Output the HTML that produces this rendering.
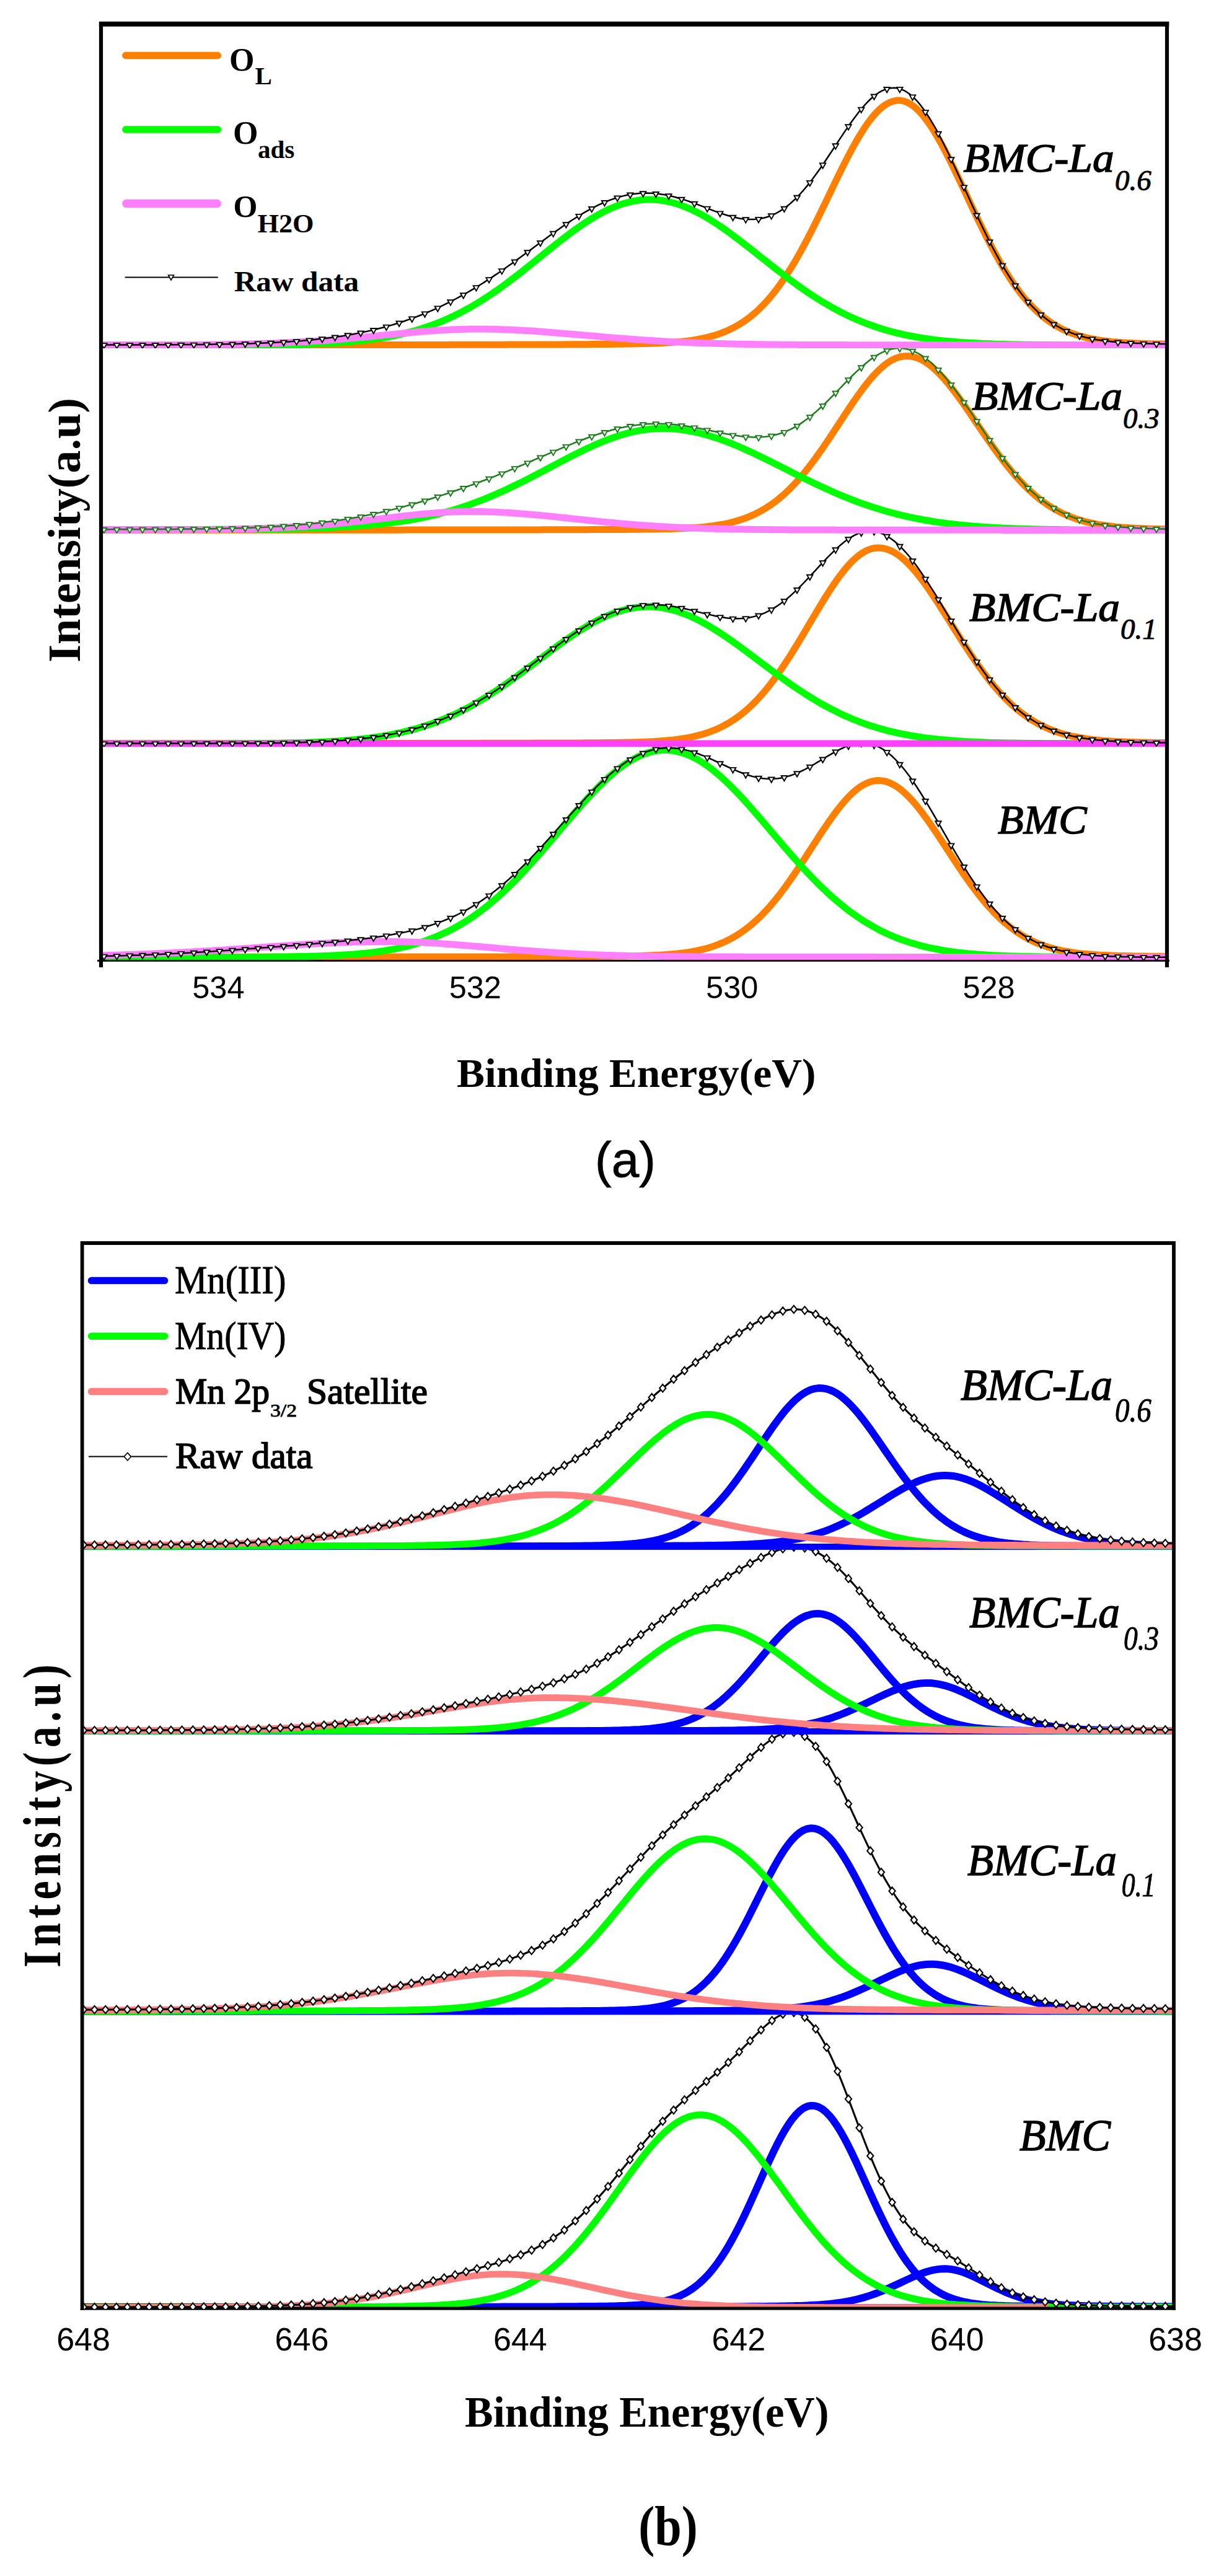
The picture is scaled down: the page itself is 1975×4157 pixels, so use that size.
<!DOCTYPE html>
<html lang="en"><head><meta charset="utf-8"><title>XPS spectra</title>
<style>
html,body{margin:0;padding:0;background:#fff}
svg{display:block}
text{fill:#000}
</style></head><body>
<svg width="1975" height="4157" viewBox="0 0 1975 4157">
<defs><clipPath id="cpa4"><rect x="163" y="1205" width="1720" height="346"/></clipPath><clipPath id="cpa3"><rect x="163" y="861" width="1720" height="344"/></clipPath><clipPath id="cpa2"><rect x="163" y="562" width="1720" height="299"/></clipPath><clipPath id="cpa1"><rect x="163" y="34" width="1720" height="528"/></clipPath><clipPath id="cpb4"><rect x="132.6" y="3251.3" width="1761.4" height="474.9"/></clipPath><clipPath id="cpb3"><rect x="132.6" y="2799" width="1761.4" height="452.3"/></clipPath><clipPath id="cpb2"><rect x="132.6" y="2501" width="1761.4" height="298"/></clipPath><clipPath id="cpb1"><rect x="132.6" y="2003" width="1761.4" height="498"/></clipPath></defs>
<rect width="1975" height="4157" fill="#fff"/>
<g clip-path="url(#cpa4)">
<path d="M163 1544.3 L169 1544.3 L175 1544.3 L181 1544.3 L187 1544.3 L193 1544.3 L199 1544.3 L205 1544.3 L211 1544.3 L217 1544.3 L223 1544.3 L229 1544.3 L235 1544.3 L241 1544.3 L247 1544.3 L253 1544.3 L259 1544.3 L265 1544.3 L271 1544.3 L277 1544.3 L283 1544.3 L289 1544.3 L295 1544.3 L301 1544.3 L307 1544.3 L313 1544.3 L319 1544.3 L325 1544.3 L331 1544.3 L337 1544.3 L343 1544.3 L349 1544.3 L355 1544.3 L361 1544.3 L367 1544.3 L373 1544.3 L379 1544.3 L385 1544.3 L391 1544.3 L397 1544.3 L403 1544.3 L409 1544.3 L415 1544.3 L421 1544.3 L427 1544.3 L433 1544.3 L439 1544.3 L445 1544.2 L451 1544.2 L457 1544.2 L463 1544.2 L469 1544.2 L475 1544.2 L481 1544.2 L487 1544.2 L493 1544.2 L499 1544.2 L505 1544.2 L511 1544.2 L517 1544.2 L523 1544.2 L529 1544.2 L535 1544.2 L541 1544.2 L547 1544.2 L553 1544.2 L559 1544.2 L565 1544.2 L571 1544.2 L577 1544.2 L583 1544.2 L589 1544.2 L595 1544.2 L601 1544.1 L607 1544.1 L613 1544.1 L619 1544.1 L625 1544.1 L631 1544.1 L637 1544.1 L643 1544.1 L649 1544.1 L655 1544.1 L661 1544.1 L667 1544.1 L673 1544.1 L679 1544.1 L685 1544.1 L691 1544.1 L697 1544.1 L703 1544 L709 1544 L715 1544 L721 1544 L727 1544 L733 1544 L739 1544 L745 1544 L751 1544 L757 1544 L763 1544 L769 1543.9 L775 1543.9 L781 1543.9 L787 1543.9 L793 1543.9 L799 1543.9 L805 1543.9 L811 1543.9 L817 1543.9 L823 1543.8 L829 1543.8 L835 1543.8 L841 1543.8 L847 1543.8 L853 1543.8 L859 1543.8 L865 1543.8 L871 1543.7 L877 1543.7 L883 1543.7 L889 1543.7 L895 1543.7 L901 1543.6 L907 1543.6 L913 1543.6 L919 1543.6 L925 1543.6 L931 1543.5 L937 1543.5 L943 1543.5 L949 1543.4 L955 1543.4 L961 1543.4 L967 1543.3 L973 1543.3 L979 1543.2 L985 1543.2 L991 1543.1 L997 1543.1 L1003 1543 L1009 1542.9 L1015 1542.8 L1021 1542.7 L1027 1542.6 L1033 1542.4 L1039 1542.2 L1045 1542 L1051 1541.8 L1057 1541.5 L1063 1541.2 L1069 1540.9 L1075 1540.5 L1081 1540 L1087 1539.5 L1093 1538.9 L1099 1538.2 L1105 1537.5 L1111 1536.6 L1117 1535.6 L1123 1534.5 L1129 1533.2 L1135 1531.8 L1141 1530.2 L1147 1528.4 L1153 1526.4 L1159 1524.2 L1165 1521.7 L1171 1519 L1177 1516 L1183 1512.8 L1189 1509.2 L1195 1505.3 L1201 1501.1 L1207 1496.6 L1213 1491.7 L1219 1486.4 L1225 1480.8 L1231 1474.8 L1237 1468.5 L1243 1461.8 L1249 1454.7 L1255 1447.3 L1261 1439.5 L1267 1431.5 L1273 1423.1 L1279 1414.5 L1285 1405.7 L1291 1396.7 L1297 1387.6 L1303 1378.3 L1309 1369 L1315 1359.7 L1321 1350.5 L1327 1341.4 L1333 1332.5 L1339 1323.8 L1345 1315.4 L1351 1307.4 L1357 1299.8 L1363 1292.7 L1369 1286.1 L1375 1280.2 L1381 1274.9 L1387 1270.4 L1393 1266.6 L1399 1263.6 L1405 1261.4 L1411 1260 L1417 1259.5 L1423 1259.9 L1429 1261 L1435 1263.1 L1441 1265.9 L1447 1269.5 L1453 1273.8 L1459 1278.9 L1465 1284.6 L1471 1290.9 L1477 1297.7 L1483 1305.1 L1489 1312.9 L1495 1321.1 L1501 1329.6 L1507 1338.4 L1513 1347.3 L1519 1356.4 L1525 1365.6 L1531 1374.8 L1537 1383.9 L1543 1393 L1549 1402 L1555 1410.8 L1561 1419.4 L1567 1427.8 L1573 1435.8 L1579 1443.6 L1585 1451.1 L1591 1458.3 L1597 1465.1 L1603 1471.6 L1609 1477.7 L1615 1483.4 L1621 1488.8 L1627 1493.9 L1633 1498.5 L1639 1502.9 L1645 1506.9 L1651 1510.6 L1657 1514 L1663 1517.1 L1669 1520 L1675 1522.6 L1681 1524.9 L1687 1527 L1693 1528.9 L1699 1530.6 L1705 1532.2 L1711 1533.5 L1717 1534.8 L1723 1535.8 L1729 1536.8 L1735 1537.7 L1741 1538.4 L1747 1539.1 L1753 1539.6 L1759 1540.1 L1765 1540.6 L1771 1541 L1777 1541.3 L1783 1541.6 L1789 1541.8 L1795 1542.1 L1801 1542.3 L1807 1542.4 L1813 1542.6 L1819 1542.7 L1825 1542.8 L1831 1542.9 L1837 1543 L1843 1543.1 L1849 1543.1 L1855 1543.2 L1861 1543.2 L1867 1543.3 L1873 1543.3 L1879 1543.4 L1883 1543.4" fill="none" stroke="#ff8000" stroke-width="11" stroke-linejoin="round"/>
<path d="M163 1544.5 L169 1544.5 L175 1544.5 L181 1544.5 L187 1544.5 L193 1544.5 L199 1544.5 L205 1544.5 L211 1544.5 L217 1544.5 L223 1544.5 L229 1544.5 L235 1544.5 L241 1544.5 L247 1544.5 L253 1544.5 L259 1544.5 L265 1544.5 L271 1544.5 L277 1544.5 L283 1544.5 L289 1544.5 L295 1544.5 L301 1544.5 L307 1544.5 L313 1544.5 L319 1544.5 L325 1544.5 L331 1544.5 L337 1544.5 L343 1544.5 L349 1544.5 L355 1544.4 L361 1544.4 L367 1544.4 L373 1544.4 L379 1544.4 L385 1544.4 L391 1544.4 L397 1544.4 L403 1544.3 L409 1544.3 L415 1544.3 L421 1544.3 L427 1544.2 L433 1544.2 L439 1544.1 L445 1544.1 L451 1544 L457 1544 L463 1543.9 L469 1543.8 L475 1543.7 L481 1543.6 L487 1543.5 L493 1543.4 L499 1543.3 L505 1543.1 L511 1542.9 L517 1542.7 L523 1542.5 L529 1542.3 L535 1542.1 L541 1541.8 L547 1541.5 L553 1541.1 L559 1540.7 L565 1540.3 L571 1539.9 L577 1539.4 L583 1538.8 L589 1538.3 L595 1537.6 L601 1536.9 L607 1536.2 L613 1535.3 L619 1534.4 L625 1533.5 L631 1532.4 L637 1531.3 L643 1530.1 L649 1528.7 L655 1527.3 L661 1525.8 L667 1524.2 L673 1522.5 L679 1520.6 L685 1518.6 L691 1516.5 L697 1514.2 L703 1511.9 L709 1509.3 L715 1506.6 L721 1503.8 L727 1500.8 L733 1497.6 L739 1494.3 L745 1490.8 L751 1487.1 L757 1483.3 L763 1479.2 L769 1475 L775 1470.6 L781 1466 L787 1461.3 L793 1456.3 L799 1451.2 L805 1445.9 L811 1440.4 L817 1434.8 L823 1429 L829 1423 L835 1416.9 L841 1410.6 L847 1404.2 L853 1397.7 L859 1391.1 L865 1384.3 L871 1377.5 L877 1370.6 L883 1363.6 L889 1356.6 L895 1349.5 L901 1342.4 L907 1335.4 L913 1328.3 L919 1321.3 L925 1314.3 L931 1307.4 L937 1300.6 L943 1293.9 L949 1287.3 L955 1280.9 L961 1274.6 L967 1268.5 L973 1262.7 L979 1257.1 L985 1251.7 L991 1246.6 L997 1241.7 L1003 1237.2 L1009 1232.9 L1015 1229.1 L1021 1225.5 L1027 1222.3 L1033 1219.5 L1039 1217 L1045 1214.9 L1051 1213.2 L1057 1211.9 L1063 1211.1 L1069 1210.6 L1075 1210.5 L1081 1210.9 L1087 1211.6 L1093 1212.8 L1099 1214.3 L1105 1216.3 L1111 1218.6 L1117 1221.3 L1123 1224.4 L1129 1227.8 L1135 1231.6 L1141 1235.7 L1147 1240.2 L1153 1244.9 L1159 1249.9 L1165 1255.2 L1171 1260.8 L1177 1266.6 L1183 1272.6 L1189 1278.7 L1195 1285.1 L1201 1291.6 L1207 1298.3 L1213 1305.1 L1219 1312 L1225 1318.9 L1231 1325.9 L1237 1333 L1243 1340.1 L1249 1347.2 L1255 1354.2 L1261 1361.3 L1267 1368.3 L1273 1375.2 L1279 1382.1 L1285 1388.8 L1291 1395.5 L1297 1402.1 L1303 1408.5 L1309 1414.8 L1315 1421 L1321 1427 L1327 1432.9 L1333 1438.6 L1339 1444.1 L1345 1449.5 L1351 1454.6 L1357 1459.6 L1363 1464.5 L1369 1469.1 L1375 1473.6 L1381 1477.8 L1387 1481.9 L1393 1485.8 L1399 1489.6 L1405 1493.1 L1411 1496.5 L1417 1499.8 L1423 1502.8 L1429 1505.7 L1435 1508.4 L1441 1511 L1447 1513.5 L1453 1515.8 L1459 1517.9 L1465 1519.9 L1471 1521.8 L1477 1523.6 L1483 1525.3 L1489 1526.8 L1495 1528.3 L1501 1529.6 L1507 1530.9 L1513 1532 L1519 1533.1 L1525 1534.1 L1531 1535 L1537 1535.9 L1543 1536.7 L1549 1537.4 L1555 1538 L1561 1538.7 L1567 1539.2 L1573 1539.7 L1579 1540.2 L1585 1540.6 L1591 1541 L1597 1541.4 L1603 1541.7 L1609 1542 L1615 1542.2 L1621 1542.5 L1627 1542.7 L1633 1542.9 L1639 1543.1 L1645 1543.2 L1651 1543.4 L1657 1543.5 L1663 1543.6 L1669 1543.7 L1675 1543.8 L1681 1543.9 L1687 1543.9 L1693 1544 L1699 1544.1 L1705 1544.1 L1711 1544.2 L1717 1544.2 L1723 1544.2 L1729 1544.3 L1735 1544.3 L1741 1544.3 L1747 1544.4 L1753 1544.4 L1759 1544.4 L1765 1544.4 L1771 1544.4 L1777 1544.4 L1783 1544.4 L1789 1544.4 L1795 1544.5 L1801 1544.5 L1807 1544.5 L1813 1544.5 L1819 1544.5 L1825 1544.5 L1831 1544.5 L1837 1544.5 L1843 1544.5 L1849 1544.5 L1855 1544.5 L1861 1544.5 L1867 1544.5 L1873 1544.5 L1879 1544.5 L1883 1544.5" fill="none" stroke="#00ff00" stroke-width="11" stroke-linejoin="round"/>
<path d="M163 1541.8 L169 1541.7 L175 1541.5 L181 1541.3 L187 1541.2 L193 1541 L199 1540.8 L205 1540.6 L211 1540.4 L217 1540.2 L223 1540 L229 1539.8 L235 1539.6 L241 1539.3 L247 1539.1 L253 1538.8 L259 1538.6 L265 1538.3 L271 1538 L277 1537.7 L283 1537.4 L289 1537.1 L295 1536.8 L301 1536.5 L307 1536.2 L313 1535.8 L319 1535.5 L325 1535.1 L331 1534.8 L337 1534.4 L343 1534 L349 1533.6 L355 1533.3 L361 1532.9 L367 1532.5 L373 1532.1 L379 1531.7 L385 1531.3 L391 1530.8 L397 1530.4 L403 1530 L409 1529.6 L415 1529.2 L421 1528.7 L427 1528.3 L433 1527.9 L439 1527.5 L445 1527.1 L451 1526.7 L457 1526.3 L463 1525.9 L469 1525.5 L475 1525.1 L481 1524.7 L487 1524.3 L493 1523.9 L499 1523.6 L505 1523.2 L511 1522.9 L517 1522.6 L523 1522.3 L529 1522 L535 1521.7 L541 1521.4 L547 1521.1 L553 1520.9 L559 1520.7 L565 1520.5 L571 1520.3 L577 1520.1 L583 1520 L589 1519.9 L595 1519.7 L601 1519.7 L607 1519.6 L613 1519.5 L619 1519.5 L625 1519.5 L631 1519.5 L637 1519.6 L643 1519.7 L649 1519.8 L655 1519.9 L661 1520.1 L667 1520.3 L673 1520.6 L679 1520.8 L685 1521.1 L691 1521.4 L697 1521.8 L703 1522.1 L709 1522.5 L715 1522.9 L721 1523.4 L727 1523.8 L733 1524.3 L739 1524.7 L745 1525.2 L751 1525.7 L757 1526.2 L763 1526.7 L769 1527.2 L775 1527.8 L781 1528.3 L787 1528.8 L793 1529.3 L799 1529.8 L805 1530.4 L811 1530.9 L817 1531.4 L823 1531.9 L829 1532.4 L835 1532.9 L841 1533.4 L847 1533.9 L853 1534.3 L859 1534.8 L865 1535.3 L871 1535.7 L877 1536.1 L883 1536.5 L889 1536.9 L895 1537.3 L901 1537.7 L907 1538.1 L913 1538.4 L919 1538.7 L925 1539.1 L931 1539.4 L937 1539.7 L943 1539.9 L949 1540.2 L955 1540.5 L961 1540.7 L967 1540.9 L973 1541.2 L979 1541.4 L985 1541.6 L991 1541.7 L997 1541.9 L1003 1542.1 L1009 1542.2 L1015 1542.4 L1021 1542.5 L1027 1542.7 L1033 1542.8 L1039 1542.9 L1045 1543 L1051 1543.1 L1057 1543.2 L1063 1543.3 L1069 1543.4 L1075 1543.4 L1081 1543.5 L1087 1543.6 L1093 1543.6 L1099 1543.7 L1105 1543.7 L1111 1543.8 L1117 1543.8 L1123 1543.9 L1129 1543.9 L1135 1543.9 L1141 1544 L1147 1544 L1153 1544 L1159 1544 L1165 1544.1 L1171 1544.1 L1177 1544.1 L1183 1544.1 L1189 1544.1 L1195 1544.1 L1201 1544.2 L1207 1544.2 L1213 1544.2 L1219 1544.2 L1225 1544.2 L1231 1544.2 L1237 1544.2 L1243 1544.2 L1249 1544.2 L1255 1544.2 L1261 1544.3 L1267 1544.3 L1273 1544.3 L1279 1544.3 L1285 1544.3 L1291 1544.3 L1297 1544.3 L1303 1544.3 L1309 1544.3 L1315 1544.3 L1321 1544.3 L1327 1544.3 L1333 1544.3 L1339 1544.3 L1345 1544.3 L1351 1544.3 L1357 1544.3 L1363 1544.3 L1369 1544.3 L1375 1544.3 L1381 1544.3 L1387 1544.3 L1393 1544.3 L1399 1544.3 L1405 1544.3 L1411 1544.3 L1417 1544.4 L1423 1544.4 L1429 1544.4 L1435 1544.4 L1441 1544.4 L1447 1544.4 L1453 1544.4 L1459 1544.4 L1465 1544.4 L1471 1544.4 L1477 1544.4 L1483 1544.4 L1489 1544.4 L1495 1544.4 L1501 1544.4 L1507 1544.4 L1513 1544.4 L1519 1544.4 L1525 1544.4 L1531 1544.4 L1537 1544.4 L1543 1544.4 L1549 1544.4 L1555 1544.4 L1561 1544.4 L1567 1544.4 L1573 1544.4 L1579 1544.4 L1585 1544.4 L1591 1544.4 L1597 1544.4 L1603 1544.4 L1609 1544.4 L1615 1544.4 L1621 1544.4 L1627 1544.4 L1633 1544.4 L1639 1544.4 L1645 1544.4 L1651 1544.4 L1657 1544.4 L1663 1544.4 L1669 1544.4 L1675 1544.4 L1681 1544.4 L1687 1544.4 L1693 1544.4 L1699 1544.4 L1705 1544.4 L1711 1544.4 L1717 1544.4 L1723 1544.4 L1729 1544.4 L1735 1544.4 L1741 1544.4 L1747 1544.4 L1753 1544.4 L1759 1544.4 L1765 1544.4 L1771 1544.4 L1777 1544.4 L1783 1544.4 L1789 1544.4 L1795 1544.4 L1801 1544.4 L1807 1544.4 L1813 1544.4 L1819 1544.4 L1825 1544.4 L1831 1544.4 L1837 1544.4 L1843 1544.4 L1849 1544.4 L1855 1544.4 L1861 1544.4 L1867 1544.4 L1873 1544.4 L1879 1544.4 L1883 1544.4" fill="none" stroke="#ff80ff" stroke-width="11" stroke-linejoin="round"/>
<path d="M163 1543.1 L167 1543.1 L171 1543 L175 1542.8 L179 1542.7 L183 1542.6 L187 1542.5 L191 1542.4 L195 1542.3 L199 1542.2 L203 1542 L207 1541.9 L211 1541.8 L215 1541.6 L219 1541.5 L223 1541.4 L227 1541.2 L231 1541.1 L235 1540.9 L239 1540.7 L243 1540.6 L247 1540.4 L251 1540.2 L255 1540.1 L259 1539.9 L263 1539.7 L267 1539.5 L271 1539.3 L275 1539.1 L279 1538.9 L283 1538.7 L287 1538.5 L291 1538.3 L295 1538.1 L299 1537.9 L303 1537.7 L307 1537.5 L311 1537.2 L315 1537 L319 1536.8 L323 1536.5 L327 1536.3 L331 1536 L335 1535.8 L339 1535.5 L343 1535.3 L347 1535 L351 1534.8 L355 1534.5 L359 1534.2 L363 1534 L367 1533.7 L371 1533.4 L375 1533.1 L379 1532.8 L383 1532.6 L387 1532.3 L391 1532 L395 1531.7 L399 1531.4 L403 1531.1 L407 1530.8 L411 1530.5 L415 1530.2 L419 1529.9 L423 1529.6 L427 1529.3 L431 1529 L435 1528.7 L439 1528.4 L443 1528.1 L447 1527.8 L451 1527.4 L455 1527.1 L459 1526.8 L463 1526.5 L467 1526.2 L471 1525.9 L475 1525.5 L479 1525.2 L483 1524.9 L487 1524.6 L491 1524.2 L495 1523.9 L499 1523.6 L503 1523.2 L507 1522.9 L511 1522.5 L515 1522.2 L519 1521.9 L523 1521.5 L527 1521.1 L531 1520.8 L535 1520.4 L539 1520.1 L543 1519.7 L547 1519.3 L551 1518.9 L555 1518.5 L559 1518.1 L563 1517.7 L567 1517.3 L571 1516.8 L575 1516.4 L579 1516 L583 1515.5 L587 1515 L591 1514.5 L595 1514 L599 1513.5 L603 1512.9 L607 1512.4 L611 1511.8 L615 1511.2 L619 1510.6 L623 1509.9 L627 1509.2 L631 1508.6 L635 1507.8 L639 1507.1 L643 1506.3 L647 1505.5 L651 1504.7 L655 1503.9 L659 1503 L663 1502.1 L667 1501.1 L671 1500.1 L675 1499.1 L679 1498 L683 1496.9 L687 1495.7 L691 1494.5 L695 1493.2 L699 1491.9 L703 1490.5 L707 1489.1 L711 1487.6 L715 1486.1 L719 1484.5 L723 1482.8 L727 1481.1 L731 1479.3 L735 1477.5 L739 1475.5 L743 1473.5 L747 1471.4 L751 1469.3 L755 1467.1 L759 1464.8 L763 1462.4 L767 1459.9 L771 1457.4 L775 1454.8 L779 1452.1 L783 1449.3 L787 1446.5 L791 1443.6 L795 1440.5 L799 1437.4 L803 1434.3 L807 1431 L811 1427.7 L815 1424.3 L819 1420.8 L823 1417.2 L827 1413.6 L831 1409.9 L835 1406.1 L839 1402.3 L843 1398.4 L847 1394.4 L851 1390.4 L855 1386.3 L859 1382.2 L863 1378 L867 1373.7 L871 1369.4 L875 1365.1 L879 1360.7 L883 1356.3 L887 1351.9 L891 1347.5 L895 1343 L899 1338.5 L903 1334 L907 1329.5 L911 1325 L915 1320.5 L919 1316.1 L923 1311.6 L927 1307.2 L931 1302.8 L935 1298.4 L939 1294.1 L943 1289.8 L947 1285.5 L951 1281.3 L955 1277.2 L959 1273.2 L963 1269.2 L967 1265.3 L971 1261.5 L975 1257.8 L979 1254.2 L983 1250.6 L987 1247.2 L991 1243.9 L995 1240.7 L999 1237.7 L1003 1234.8 L1007 1231.9 L1011 1229.3 L1015 1226.7 L1019 1224.3 L1023 1222.1 L1027 1220 L1031 1218.1 L1035 1216.3 L1039 1214.6 L1043 1213.1 L1047 1211.8 L1051 1210.6 L1055 1209.6 L1059 1208.8 L1063 1208.1 L1067 1207.5 L1071 1207.2 L1075 1206.9 L1079 1206.9 L1083 1206.9 L1087 1207.2 L1091 1207.5 L1095 1208 L1099 1208.7 L1103 1209.5 L1107 1210.4 L1111 1211.4 L1115 1212.5 L1119 1213.8 L1123 1215.1 L1127 1216.5 L1131 1218.1 L1135 1219.7 L1139 1221.3 L1143 1223.1 L1147 1224.8 L1151 1226.7 L1155 1228.5 L1159 1230.4 L1163 1232.3 L1167 1234.1 L1171 1236 L1175 1237.9 L1179 1239.7 L1183 1241.5 L1187 1243.2 L1191 1244.9 L1195 1246.5 L1199 1248 L1203 1249.5 L1207 1250.8 L1211 1252 L1215 1253.1 L1219 1254.1 L1223 1254.9 L1227 1255.6 L1231 1256.2 L1235 1256.6 L1239 1256.8 L1243 1256.9 L1247 1256.9 L1251 1256.6 L1255 1256.2 L1259 1255.7 L1263 1254.9 L1267 1254 L1271 1252.9 L1275 1251.7 L1279 1250.4 L1283 1248.8 L1287 1247.2 L1291 1245.4 L1295 1243.5 L1299 1241.5 L1303 1239.3 L1307 1237.1 L1311 1234.9 L1315 1232.5 L1319 1230.1 L1323 1227.7 L1327 1225.3 L1331 1222.9 L1335 1220.5 L1339 1218.1 L1343 1215.8 L1347 1213.5 L1351 1211.4 L1355 1209.4 L1359 1207.5 L1363 1205.7 L1367 1204.2 L1371 1202.8 L1375 1201.6 L1379 1200.6 L1383 1199.9 L1387 1199.4 L1391 1199.2 L1395 1199.2 L1399 1199.5 L1403 1200.2 L1407 1201.1 L1411 1202.4 L1415 1203.9 L1419 1205.8 L1423 1208.1 L1427 1210.6 L1431 1213.4 L1435 1216.6 L1439 1220 L1443 1223.8 L1447 1227.8 L1451 1232.2 L1455 1236.8 L1459 1241.6 L1463 1246.8 L1467 1252.1 L1471 1257.7 L1475 1263.5 L1479 1269.5 L1483 1275.7 L1487 1282 L1491 1288.5 L1495 1295.1 L1499 1301.8 L1503 1308.6 L1507 1315.5 L1511 1322.4 L1515 1329.4 L1519 1336.4 L1523 1343.4 L1527 1350.4 L1531 1357.4 L1535 1364.4 L1539 1371.3 L1543 1378.1 L1547 1384.8 L1551 1391.5 L1555 1398 L1559 1404.5 L1563 1410.8 L1567 1417 L1571 1423 L1575 1428.9 L1579 1434.7 L1583 1440.2 L1587 1445.7 L1591 1450.9 L1595 1456 L1599 1460.9 L1603 1465.6 L1607 1470.2 L1611 1474.5 L1615 1478.7 L1619 1482.7 L1623 1486.6 L1627 1490.2 L1631 1493.7 L1635 1497 L1639 1500.2 L1643 1503.2 L1647 1506 L1651 1508.7 L1655 1511.3 L1659 1513.6 L1663 1515.9 L1667 1518 L1671 1520 L1675 1521.9 L1679 1523.6 L1683 1525.3 L1687 1526.8 L1691 1528.2 L1695 1529.5 L1699 1530.8 L1703 1531.9 L1707 1533 L1711 1534 L1715 1534.9 L1719 1535.7 L1723 1536.5 L1727 1537.2 L1731 1537.9 L1735 1538.5 L1739 1539.1 L1743 1539.6 L1747 1540.1 L1751 1540.5 L1755 1540.9 L1759 1541.2 L1763 1541.6 L1767 1541.9 L1771 1542.2 L1775 1542.4 L1779 1542.6 L1783 1542.9 L1787 1543 L1791 1543.2 L1795 1543.4 L1799 1543.5 L1803 1543.6 L1807 1543.8 L1811 1543.9 L1815 1544 L1819 1544.1 L1823 1544.2 L1827 1544.2 L1831 1544.3 L1835 1544.4 L1839 1544.4 L1843 1544.5 L1847 1544.5 L1851 1544.6 L1855 1544.6 L1859 1544.6 L1863 1544.7 L1867 1544.7 L1871 1544.7 L1875 1544.8 L1879 1544.8 L1883 1544.8" fill="none" stroke="#000" stroke-width="2.5"/>
<path d="M167.8 1540.6 l4.7 0 l-4.7 8.3 l-4.7 -8.3 z M188.5 1540.1 l4.7 0 l-4.7 8.3 l-4.7 -8.3 z M209.2 1539.4 l4.7 0 l-4.7 8.3 l-4.7 -8.3 z M229.9 1538.7 l4.7 0 l-4.7 8.3 l-4.7 -8.3 z M250.6 1537.9 l4.7 0 l-4.7 8.3 l-4.7 -8.3 z M271.4 1536.9 l4.7 0 l-4.7 8.3 l-4.7 -8.3 z M292.1 1535.9 l4.7 0 l-4.7 8.3 l-4.7 -8.3 z M312.8 1534.7 l4.7 0 l-4.7 8.3 l-4.7 -8.3 z M333.5 1533.5 l4.7 0 l-4.7 8.3 l-4.7 -8.3 z M354.2 1532.1 l4.7 0 l-4.7 8.3 l-4.7 -8.3 z M374.9 1530.7 l4.7 0 l-4.7 8.3 l-4.7 -8.3 z M395.6 1529.3 l4.7 0 l-4.7 8.3 l-4.7 -8.3 z M416.3 1527.7 l4.7 0 l-4.7 8.3 l-4.7 -8.3 z M437 1526.1 l4.7 0 l-4.7 8.3 l-4.7 -8.3 z M457.7 1524.5 l4.7 0 l-4.7 8.3 l-4.7 -8.3 z M478.5 1522.9 l4.7 0 l-4.7 8.3 l-4.7 -8.3 z M499.2 1521.1 l4.7 0 l-4.7 8.3 l-4.7 -8.3 z M519.9 1519.4 l4.7 0 l-4.7 8.3 l-4.7 -8.3 z M540.6 1517.5 l4.7 0 l-4.7 8.3 l-4.7 -8.3 z M561.3 1515.5 l4.7 0 l-4.7 8.3 l-4.7 -8.3 z M582 1513.2 l4.7 0 l-4.7 8.3 l-4.7 -8.3 z M602.7 1510.6 l4.7 0 l-4.7 8.3 l-4.7 -8.3 z M623.4 1507.4 l4.7 0 l-4.7 8.3 l-4.7 -8.3 z M644.1 1503.7 l4.7 0 l-4.7 8.3 l-4.7 -8.3 z M664.8 1499.2 l4.7 0 l-4.7 8.3 l-4.7 -8.3 z M685.5 1493.7 l4.7 0 l-4.7 8.3 l-4.7 -8.3 z M706.3 1487 l4.7 0 l-4.7 8.3 l-4.7 -8.3 z M727 1478.7 l4.7 0 l-4.7 8.3 l-4.7 -8.3 z M747.7 1468.7 l4.7 0 l-4.7 8.3 l-4.7 -8.3 z M768.4 1456.7 l4.7 0 l-4.7 8.3 l-4.7 -8.3 z M789.1 1442.6 l4.7 0 l-4.7 8.3 l-4.7 -8.3 z M809.8 1426.3 l4.7 0 l-4.7 8.3 l-4.7 -8.3 z M830.5 1408 l4.7 0 l-4.7 8.3 l-4.7 -8.3 z M851.2 1387.8 l4.7 0 l-4.7 8.3 l-4.7 -8.3 z M871.9 1366 l4.7 0 l-4.7 8.3 l-4.7 -8.3 z M892.7 1343.2 l4.7 0 l-4.7 8.3 l-4.7 -8.3 z M913.4 1320 l4.7 0 l-4.7 8.3 l-4.7 -8.3 z M934.1 1297 l4.7 0 l-4.7 8.3 l-4.7 -8.3 z M954.8 1275.1 l4.7 0 l-4.7 8.3 l-4.7 -8.3 z M975.5 1254.9 l4.7 0 l-4.7 8.3 l-4.7 -8.3 z M996.2 1237.4 l4.7 0 l-4.7 8.3 l-4.7 -8.3 z M1016.9 1223.2 l4.7 0 l-4.7 8.3 l-4.7 -8.3 z M1037.6 1212.8 l4.7 0 l-4.7 8.3 l-4.7 -8.3 z M1058.3 1206.5 l4.7 0 l-4.7 8.3 l-4.7 -8.3 z M1079 1204.5 l4.7 0 l-4.7 8.3 l-4.7 -8.3 z M1099.8 1206.4 l4.7 0 l-4.7 8.3 l-4.7 -8.3 z M1120.5 1211.8 l4.7 0 l-4.7 8.3 l-4.7 -8.3 z M1141.2 1219.9 l4.7 0 l-4.7 8.3 l-4.7 -8.3 z M1161.9 1229.3 l4.7 0 l-4.7 8.3 l-4.7 -8.3 z M1182.6 1238.9 l4.7 0 l-4.7 8.3 l-4.7 -8.3 z M1203.3 1247.2 l4.7 0 l-4.7 8.3 l-4.7 -8.3 z M1224 1252.7 l4.7 0 l-4.7 8.3 l-4.7 -8.3 z M1244.7 1254.5 l4.7 0 l-4.7 8.3 l-4.7 -8.3 z M1265.4 1252 l4.7 0 l-4.7 8.3 l-4.7 -8.3 z M1286.1 1245.2 l4.7 0 l-4.7 8.3 l-4.7 -8.3 z M1306.8 1234.8 l4.7 0 l-4.7 8.3 l-4.7 -8.3 z M1327.6 1222.5 l4.7 0 l-4.7 8.3 l-4.7 -8.3 z M1348.3 1210.5 l4.7 0 l-4.7 8.3 l-4.7 -8.3 z M1369 1201 l4.7 0 l-4.7 8.3 l-4.7 -8.3 z M1389.7 1196.8 l4.7 0 l-4.7 8.3 l-4.7 -8.3 z M1410.4 1199.8 l4.7 0 l-4.7 8.3 l-4.7 -8.3 z M1431.1 1211.1 l4.7 0 l-4.7 8.3 l-4.7 -8.3 z M1451.8 1230.7 l4.7 0 l-4.7 8.3 l-4.7 -8.3 z M1472.5 1257.5 l4.7 0 l-4.7 8.3 l-4.7 -8.3 z M1493.2 1289.8 l4.7 0 l-4.7 8.3 l-4.7 -8.3 z M1514 1325.2 l4.7 0 l-4.7 8.3 l-4.7 -8.3 z M1534.7 1361.4 l4.7 0 l-4.7 8.3 l-4.7 -8.3 z M1555.4 1396.2 l4.7 0 l-4.7 8.3 l-4.7 -8.3 z M1576.1 1428.1 l4.7 0 l-4.7 8.3 l-4.7 -8.3 z M1596.8 1455.8 l4.7 0 l-4.7 8.3 l-4.7 -8.3 z M1617.5 1478.8 l4.7 0 l-4.7 8.3 l-4.7 -8.3 z M1638.2 1497.2 l4.7 0 l-4.7 8.3 l-4.7 -8.3 z M1658.9 1511.2 l4.7 0 l-4.7 8.3 l-4.7 -8.3 z M1679.6 1521.5 l4.7 0 l-4.7 8.3 l-4.7 -8.3 z M1700.3 1528.8 l4.7 0 l-4.7 8.3 l-4.7 -8.3 z M1721 1533.7 l4.7 0 l-4.7 8.3 l-4.7 -8.3 z M1741.8 1537 l4.7 0 l-4.7 8.3 l-4.7 -8.3 z M1762.5 1539.1 l4.7 0 l-4.7 8.3 l-4.7 -8.3 z M1783.2 1540.5 l4.7 0 l-4.7 8.3 l-4.7 -8.3 z M1803.9 1541.3 l4.7 0 l-4.7 8.3 l-4.7 -8.3 z M1824.6 1541.8 l4.7 0 l-4.7 8.3 l-4.7 -8.3 z M1845.3 1542.1 l4.7 0 l-4.7 8.3 l-4.7 -8.3 z M1866 1542.3 l4.7 0 l-4.7 8.3 l-4.7 -8.3 z" fill="#fff" stroke="#000" stroke-width="1.9" stroke-linejoin="miter"/>
</g>
<g clip-path="url(#cpa3)">
<path d="M163 1199.8 L169 1199.8 L175 1199.8 L181 1199.8 L187 1199.8 L193 1199.8 L199 1199.8 L205 1199.8 L211 1199.8 L217 1199.8 L223 1199.8 L229 1199.8 L235 1199.8 L241 1199.8 L247 1199.8 L253 1199.8 L259 1199.8 L265 1199.8 L271 1199.8 L277 1199.8 L283 1199.8 L289 1199.8 L295 1199.8 L301 1199.8 L307 1199.8 L313 1199.8 L319 1199.8 L325 1199.8 L331 1199.8 L337 1199.8 L343 1199.8 L349 1199.8 L355 1199.8 L361 1199.8 L367 1199.8 L373 1199.8 L379 1199.7 L385 1199.7 L391 1199.7 L397 1199.7 L403 1199.7 L409 1199.7 L415 1199.7 L421 1199.7 L427 1199.7 L433 1199.7 L439 1199.7 L445 1199.7 L451 1199.7 L457 1199.7 L463 1199.7 L469 1199.7 L475 1199.7 L481 1199.7 L487 1199.7 L493 1199.7 L499 1199.7 L505 1199.7 L511 1199.7 L517 1199.7 L523 1199.7 L529 1199.7 L535 1199.7 L541 1199.6 L547 1199.6 L553 1199.6 L559 1199.6 L565 1199.6 L571 1199.6 L577 1199.6 L583 1199.6 L589 1199.6 L595 1199.6 L601 1199.6 L607 1199.6 L613 1199.6 L619 1199.6 L625 1199.6 L631 1199.6 L637 1199.6 L643 1199.6 L649 1199.5 L655 1199.5 L661 1199.5 L667 1199.5 L673 1199.5 L679 1199.5 L685 1199.5 L691 1199.5 L697 1199.5 L703 1199.5 L709 1199.5 L715 1199.5 L721 1199.5 L727 1199.4 L733 1199.4 L739 1199.4 L745 1199.4 L751 1199.4 L757 1199.4 L763 1199.4 L769 1199.4 L775 1199.4 L781 1199.3 L787 1199.3 L793 1199.3 L799 1199.3 L805 1199.3 L811 1199.3 L817 1199.3 L823 1199.3 L829 1199.2 L835 1199.2 L841 1199.2 L847 1199.2 L853 1199.2 L859 1199.2 L865 1199.1 L871 1199.1 L877 1199.1 L883 1199.1 L889 1199.1 L895 1199 L901 1199 L907 1199 L913 1199 L919 1198.9 L925 1198.9 L931 1198.9 L937 1198.9 L943 1198.8 L949 1198.8 L955 1198.7 L961 1198.7 L967 1198.7 L973 1198.6 L979 1198.5 L985 1198.5 L991 1198.4 L997 1198.3 L1003 1198.2 L1009 1198.1 L1015 1198 L1021 1197.8 L1027 1197.7 L1033 1197.5 L1039 1197.3 L1045 1197 L1051 1196.7 L1057 1196.4 L1063 1196 L1069 1195.6 L1075 1195.1 L1081 1194.5 L1087 1193.9 L1093 1193.1 L1099 1192.3 L1105 1191.4 L1111 1190.3 L1117 1189.1 L1123 1187.7 L1129 1186.2 L1135 1184.5 L1141 1182.6 L1147 1180.4 L1153 1178.1 L1159 1175.5 L1165 1172.6 L1171 1169.4 L1177 1166 L1183 1162.2 L1189 1158.1 L1195 1153.6 L1201 1148.8 L1207 1143.6 L1213 1138 L1219 1132 L1225 1125.7 L1231 1118.9 L1237 1111.7 L1243 1104.2 L1249 1096.3 L1255 1088 L1261 1079.4 L1267 1070.4 L1273 1061.2 L1279 1051.7 L1285 1042 L1291 1032.1 L1297 1022.1 L1303 1011.9 L1309 1001.8 L1315 991.7 L1321 981.6 L1327 971.7 L1333 962 L1339 952.6 L1345 943.6 L1351 934.9 L1357 926.8 L1363 919.1 L1369 912.1 L1375 905.8 L1381 900.2 L1387 895.3 L1393 891.3 L1399 888.1 L1405 885.8 L1411 884.5 L1417 884 L1423 884.4 L1429 885.6 L1435 887.7 L1441 890.5 L1447 894.1 L1453 898.4 L1459 903.5 L1465 909.2 L1471 915.5 L1477 922.3 L1483 929.7 L1489 937.6 L1495 945.9 L1501 954.5 L1507 963.4 L1513 972.6 L1519 981.9 L1525 991.4 L1531 1000.9 L1537 1010.5 L1543 1020 L1549 1029.5 L1555 1038.9 L1561 1048.1 L1567 1057.2 L1573 1066 L1579 1074.6 L1585 1082.9 L1591 1090.9 L1597 1098.6 L1603 1106 L1609 1113 L1615 1119.7 L1621 1126 L1627 1132 L1633 1137.7 L1639 1143 L1645 1147.9 L1651 1152.5 L1657 1156.8 L1663 1160.8 L1669 1164.5 L1675 1167.9 L1681 1171 L1687 1173.9 L1693 1176.5 L1699 1178.8 L1705 1181 L1711 1183 L1717 1184.7 L1723 1186.3 L1729 1187.8 L1735 1189 L1741 1190.2 L1747 1191.2 L1753 1192.1 L1759 1192.9 L1765 1193.7 L1771 1194.3 L1777 1194.9 L1783 1195.4 L1789 1195.8 L1795 1196.2 L1801 1196.5 L1807 1196.8 L1813 1197.1 L1819 1197.3 L1825 1197.5 L1831 1197.7 L1837 1197.8 L1843 1198 L1849 1198.1 L1855 1198.2 L1861 1198.3 L1867 1198.4 L1873 1198.4 L1879 1198.5 L1883 1198.6" fill="none" stroke="#ff8000" stroke-width="11" stroke-linejoin="round"/>
<path d="M163 1200 L169 1200 L175 1200 L181 1200 L187 1200 L193 1200 L199 1200 L205 1200 L211 1200 L217 1200 L223 1200 L229 1200 L235 1200 L241 1200 L247 1200 L253 1200 L259 1200 L265 1200 L271 1200 L277 1200 L283 1200 L289 1200 L295 1200 L301 1200 L307 1200 L313 1200 L319 1199.9 L325 1199.9 L331 1199.9 L337 1199.9 L343 1199.9 L349 1199.9 L355 1199.9 L361 1199.9 L367 1199.8 L373 1199.8 L379 1199.8 L385 1199.8 L391 1199.7 L397 1199.7 L403 1199.7 L409 1199.6 L415 1199.6 L421 1199.5 L427 1199.5 L433 1199.4 L439 1199.3 L445 1199.3 L451 1199.2 L457 1199.1 L463 1199 L469 1198.8 L475 1198.7 L481 1198.6 L487 1198.4 L493 1198.2 L499 1198 L505 1197.8 L511 1197.6 L517 1197.3 L523 1197.1 L529 1196.7 L535 1196.4 L541 1196 L547 1195.7 L553 1195.2 L559 1194.8 L565 1194.3 L571 1193.7 L577 1193.1 L583 1192.5 L589 1191.8 L595 1191.1 L601 1190.3 L607 1189.4 L613 1188.5 L619 1187.6 L625 1186.5 L631 1185.4 L637 1184.2 L643 1183 L649 1181.6 L655 1180.2 L661 1178.7 L667 1177.1 L673 1175.4 L679 1173.6 L685 1171.7 L691 1169.7 L697 1167.6 L703 1165.5 L709 1163.2 L715 1160.7 L721 1158.2 L727 1155.6 L733 1152.9 L739 1150 L745 1147.1 L751 1144 L757 1140.8 L763 1137.5 L769 1134.1 L775 1130.6 L781 1127 L787 1123.3 L793 1119.4 L799 1115.5 L805 1111.6 L811 1107.5 L817 1103.3 L823 1099.1 L829 1094.8 L835 1090.4 L841 1086 L847 1081.6 L853 1077.1 L859 1072.6 L865 1068.1 L871 1063.6 L877 1059.1 L883 1054.6 L889 1050.1 L895 1045.7 L901 1041.3 L907 1037 L913 1032.7 L919 1028.6 L925 1024.5 L931 1020.5 L937 1016.7 L943 1013 L949 1009.4 L955 1006 L961 1002.7 L967 999.6 L973 996.7 L979 994 L985 991.5 L991 989.2 L997 987.2 L1003 985.3 L1009 983.7 L1015 982.3 L1021 981.1 L1027 980.2 L1033 979.6 L1039 979.2 L1045 979 L1051 979.1 L1057 979.4 L1063 980 L1069 980.9 L1075 982 L1081 983.3 L1087 984.8 L1093 986.6 L1099 988.7 L1105 990.9 L1111 993.3 L1117 996 L1123 998.9 L1129 1001.9 L1135 1005.1 L1141 1008.5 L1147 1012 L1153 1015.7 L1159 1019.5 L1165 1023.4 L1171 1027.5 L1177 1031.6 L1183 1035.8 L1189 1040.1 L1195 1044.5 L1201 1048.9 L1207 1053.4 L1213 1057.9 L1219 1062.4 L1225 1066.9 L1231 1071.4 L1237 1075.9 L1243 1080.4 L1249 1084.9 L1255 1089.3 L1261 1093.6 L1267 1098 L1273 1102.2 L1279 1106.4 L1285 1110.5 L1291 1114.5 L1297 1118.4 L1303 1122.3 L1309 1126 L1315 1129.6 L1321 1133.2 L1327 1136.6 L1333 1139.9 L1339 1143.1 L1345 1146.2 L1351 1149.2 L1357 1152.1 L1363 1154.9 L1369 1157.5 L1375 1160.1 L1381 1162.5 L1387 1164.9 L1393 1167.1 L1399 1169.2 L1405 1171.2 L1411 1173.1 L1417 1174.9 L1423 1176.6 L1429 1178.3 L1435 1179.8 L1441 1181.2 L1447 1182.6 L1453 1183.9 L1459 1185.1 L1465 1186.2 L1471 1187.3 L1477 1188.3 L1483 1189.2 L1489 1190.1 L1495 1190.9 L1501 1191.6 L1507 1192.3 L1513 1193 L1519 1193.6 L1525 1194.1 L1531 1194.6 L1537 1195.1 L1543 1195.5 L1549 1195.9 L1555 1196.3 L1561 1196.7 L1567 1197 L1573 1197.3 L1579 1197.5 L1585 1197.8 L1591 1198 L1597 1198.2 L1603 1198.4 L1609 1198.5 L1615 1198.7 L1621 1198.8 L1627 1198.9 L1633 1199 L1639 1199.1 L1645 1199.2 L1651 1199.3 L1657 1199.4 L1663 1199.5 L1669 1199.5 L1675 1199.6 L1681 1199.6 L1687 1199.7 L1693 1199.7 L1699 1199.7 L1705 1199.8 L1711 1199.8 L1717 1199.8 L1723 1199.8 L1729 1199.9 L1735 1199.9 L1741 1199.9 L1747 1199.9 L1753 1199.9 L1759 1199.9 L1765 1199.9 L1771 1199.9 L1777 1200 L1783 1200 L1789 1200 L1795 1200 L1801 1200 L1807 1200 L1813 1200 L1819 1200 L1825 1200 L1831 1200 L1837 1200 L1843 1200 L1849 1200 L1855 1200 L1861 1200 L1867 1200 L1873 1200 L1879 1200 L1883 1200" fill="none" stroke="#00ff00" stroke-width="11" stroke-linejoin="round"/>
<path d="M163 1200 L169 1200 L175 1200 L181 1200 L187 1200 L193 1200 L199 1200 L205 1200 L211 1200 L217 1200 L223 1200 L229 1200 L235 1200 L241 1200 L247 1200 L253 1200 L259 1200 L265 1200 L271 1200 L277 1200 L283 1200 L289 1200 L295 1200 L301 1200 L307 1200 L313 1200 L319 1200 L325 1200 L331 1200 L337 1200 L343 1200 L349 1200 L355 1200 L361 1200 L367 1200 L373 1200 L379 1200 L385 1200 L391 1200 L397 1200 L403 1200 L409 1200 L415 1200 L421 1200 L427 1200 L433 1200 L439 1200 L445 1200 L451 1200 L457 1200 L463 1200 L469 1200 L475 1200 L481 1200 L487 1200 L493 1200 L499 1200 L505 1200 L511 1200 L517 1200 L523 1200 L529 1200 L535 1200 L541 1200 L547 1200 L553 1200 L559 1200 L565 1200 L571 1200 L577 1200 L583 1200 L589 1200 L595 1200 L601 1200 L607 1200 L613 1200 L619 1200 L625 1200 L631 1200 L637 1200 L643 1200 L649 1200 L655 1200 L661 1200 L667 1200 L673 1200 L679 1200 L685 1200 L691 1200 L697 1200 L703 1200 L709 1200 L715 1200 L721 1200 L727 1200 L733 1200 L739 1200 L745 1200 L751 1200 L757 1200 L763 1200 L769 1200 L775 1200 L781 1200 L787 1200 L793 1200 L799 1200 L805 1200 L811 1200 L817 1200 L823 1200 L829 1200 L835 1200 L841 1200 L847 1200 L853 1200 L859 1200 L865 1200 L871 1200 L877 1200 L883 1200 L889 1200 L895 1200 L901 1200 L907 1200 L913 1200 L919 1200 L925 1200 L931 1200 L937 1200 L943 1200 L949 1200 L955 1200 L961 1200 L967 1200 L973 1200 L979 1200 L985 1200 L991 1200 L997 1200 L1003 1200 L1009 1200 L1015 1200 L1021 1200 L1027 1200 L1033 1200 L1039 1200 L1045 1200 L1051 1200 L1057 1200 L1063 1200 L1069 1200 L1075 1200 L1081 1200 L1087 1200 L1093 1200 L1099 1200 L1105 1200 L1111 1200 L1117 1200 L1123 1200 L1129 1200 L1135 1200 L1141 1200 L1147 1200 L1153 1200 L1159 1200 L1165 1200 L1171 1200 L1177 1200 L1183 1200 L1189 1200 L1195 1200 L1201 1200 L1207 1200 L1213 1200 L1219 1200 L1225 1200 L1231 1200 L1237 1200 L1243 1200 L1249 1200 L1255 1200 L1261 1200 L1267 1200 L1273 1200 L1279 1200 L1285 1200 L1291 1200 L1297 1200 L1303 1200 L1309 1200 L1315 1200 L1321 1200 L1327 1200 L1333 1200 L1339 1200 L1345 1200 L1351 1200 L1357 1200 L1363 1200 L1369 1200 L1375 1200 L1381 1200 L1387 1200 L1393 1200 L1399 1200 L1405 1200 L1411 1200 L1417 1200 L1423 1200 L1429 1200 L1435 1200 L1441 1200 L1447 1200 L1453 1200 L1459 1200 L1465 1200 L1471 1200 L1477 1200 L1483 1200 L1489 1200 L1495 1200 L1501 1200 L1507 1200 L1513 1200 L1519 1200 L1525 1200 L1531 1200 L1537 1200 L1543 1200 L1549 1200 L1555 1200 L1561 1200 L1567 1200 L1573 1200 L1579 1200 L1585 1200 L1591 1200 L1597 1200 L1603 1200 L1609 1200 L1615 1200 L1621 1200 L1627 1200 L1633 1200 L1639 1200 L1645 1200 L1651 1200 L1657 1200 L1663 1200 L1669 1200 L1675 1200 L1681 1200 L1687 1200 L1693 1200 L1699 1200 L1705 1200 L1711 1200 L1717 1200 L1723 1200 L1729 1200 L1735 1200 L1741 1200 L1747 1200 L1753 1200 L1759 1200 L1765 1200 L1771 1200 L1777 1200 L1783 1200 L1789 1200 L1795 1200 L1801 1200 L1807 1200 L1813 1200 L1819 1200 L1825 1200 L1831 1200 L1837 1200 L1843 1200 L1849 1200 L1855 1200 L1861 1200 L1867 1200 L1873 1200 L1879 1200 L1883 1200" fill="none" stroke="#ff40ff" stroke-width="11" stroke-linejoin="round"/>
<path d="M163 1199.8 L167 1199.8 L171 1199.8 L175 1199.8 L179 1199.8 L183 1199.8 L187 1199.8 L191 1199.8 L195 1199.8 L199 1199.8 L203 1199.8 L207 1199.8 L211 1199.8 L215 1199.8 L219 1199.8 L223 1199.8 L227 1199.8 L231 1199.8 L235 1199.8 L239 1199.8 L243 1199.8 L247 1199.8 L251 1199.8 L255 1199.8 L259 1199.8 L263 1199.8 L267 1199.8 L271 1199.8 L275 1199.8 L279 1199.8 L283 1199.8 L287 1199.8 L291 1199.8 L295 1199.8 L299 1199.7 L303 1199.7 L307 1199.7 L311 1199.7 L315 1199.7 L319 1199.7 L323 1199.7 L327 1199.7 L331 1199.7 L335 1199.7 L339 1199.7 L343 1199.7 L347 1199.7 L351 1199.7 L355 1199.6 L359 1199.6 L363 1199.6 L367 1199.6 L371 1199.6 L375 1199.6 L379 1199.6 L383 1199.5 L387 1199.5 L391 1199.5 L395 1199.5 L399 1199.4 L403 1199.4 L407 1199.4 L411 1199.4 L415 1199.3 L419 1199.3 L423 1199.2 L427 1199.2 L431 1199.2 L435 1199.1 L439 1199.1 L443 1199 L447 1198.9 L451 1198.9 L455 1198.8 L459 1198.7 L463 1198.7 L467 1198.6 L471 1198.5 L475 1198.4 L479 1198.3 L483 1198.2 L487 1198.1 L491 1198 L495 1197.8 L499 1197.7 L503 1197.6 L507 1197.4 L511 1197.3 L515 1197.1 L519 1196.9 L523 1196.7 L527 1196.5 L531 1196.3 L535 1196.1 L539 1195.8 L543 1195.6 L547 1195.3 L551 1195 L555 1194.7 L559 1194.4 L563 1194.1 L567 1193.7 L571 1193.3 L575 1193 L579 1192.5 L583 1192.1 L587 1191.7 L591 1191.2 L595 1190.7 L599 1190.2 L603 1189.6 L607 1189 L611 1188.4 L615 1187.8 L619 1187.1 L623 1186.4 L627 1185.7 L631 1185 L635 1184.2 L639 1183.4 L643 1182.5 L647 1181.6 L651 1180.7 L655 1179.7 L659 1178.7 L663 1177.7 L667 1176.6 L671 1175.5 L675 1174.3 L679 1173.1 L683 1171.9 L687 1170.6 L691 1169.2 L695 1167.8 L699 1166.4 L703 1164.9 L707 1163.4 L711 1161.8 L715 1160.2 L719 1158.5 L723 1156.8 L727 1155 L731 1153.2 L735 1151.4 L739 1149.4 L743 1147.5 L747 1145.5 L751 1143.4 L755 1141.3 L759 1139.1 L763 1136.9 L767 1134.6 L771 1132.3 L775 1129.9 L779 1127.5 L783 1125.1 L787 1122.6 L791 1120.1 L795 1117.5 L799 1114.9 L803 1112.2 L807 1109.5 L811 1106.8 L815 1104 L819 1101.2 L823 1098.3 L827 1095.5 L831 1092.6 L835 1089.7 L839 1086.7 L843 1083.8 L847 1080.8 L851 1077.8 L855 1074.8 L859 1071.8 L863 1068.8 L867 1065.7 L871 1062.7 L875 1059.7 L879 1056.7 L883 1053.7 L887 1050.7 L891 1047.7 L895 1044.7 L899 1041.8 L903 1038.9 L907 1036 L911 1033.1 L915 1030.3 L919 1027.5 L923 1024.8 L927 1022.1 L931 1019.4 L935 1016.8 L939 1014.3 L943 1011.8 L947 1009.4 L951 1007 L955 1004.7 L959 1002.5 L963 1000.4 L967 998.3 L971 996.3 L975 994.4 L979 992.6 L983 990.8 L987 989.2 L991 987.6 L995 986.2 L999 984.8 L1003 983.5 L1007 982.3 L1011 981.2 L1015 980.3 L1019 979.4 L1023 978.6 L1027 977.9 L1031 977.3 L1035 976.8 L1039 976.4 L1043 976.1 L1047 975.9 L1051 975.8 L1055 975.8 L1059 975.9 L1063 976 L1067 976.3 L1071 976.6 L1075 977 L1079 977.5 L1083 978.1 L1087 978.7 L1091 979.4 L1095 980.2 L1099 981 L1103 981.8 L1107 982.7 L1111 983.6 L1115 984.6 L1119 985.6 L1123 986.6 L1127 987.6 L1131 988.6 L1135 989.6 L1139 990.5 L1143 991.5 L1147 992.4 L1151 993.3 L1155 994.2 L1159 995 L1163 995.7 L1167 996.3 L1171 996.9 L1175 997.4 L1179 997.8 L1183 998 L1187 998.2 L1191 998.2 L1195 998.1 L1199 997.9 L1203 997.5 L1207 997 L1211 996.3 L1215 995.4 L1219 994.4 L1223 993.2 L1227 991.9 L1231 990.3 L1235 988.6 L1239 986.7 L1243 984.6 L1247 982.4 L1251 979.9 L1255 977.3 L1259 974.5 L1263 971.5 L1267 968.4 L1271 965.1 L1275 961.7 L1279 958.1 L1283 954.4 L1287 950.5 L1291 946.6 L1295 942.5 L1299 938.4 L1303 934.2 L1307 929.9 L1311 925.6 L1315 921.3 L1319 916.9 L1323 912.6 L1327 908.3 L1331 904.1 L1335 899.9 L1339 895.8 L1343 891.8 L1347 887.9 L1351 884.2 L1355 880.6 L1359 877.2 L1363 874 L1367 871.1 L1371 868.4 L1375 865.9 L1379 863.7 L1383 861.8 L1387 860.2 L1391 858.9 L1395 857.9 L1399 857.3 L1403 857 L1407 857.1 L1411 857.6 L1415 858.4 L1419 859.5 L1423 861 L1427 862.9 L1431 865 L1435 867.5 L1439 870.2 L1443 873.3 L1447 876.7 L1451 880.4 L1455 884.3 L1459 888.6 L1463 893 L1467 897.8 L1471 902.7 L1475 907.9 L1479 913.3 L1483 918.9 L1487 924.7 L1491 930.6 L1495 936.7 L1499 942.9 L1503 949.3 L1507 955.7 L1511 962.2 L1515 968.8 L1519 975.5 L1523 982.1 L1527 988.8 L1531 995.5 L1535 1002.2 L1539 1008.9 L1543 1015.6 L1547 1022.2 L1551 1028.7 L1555 1035.2 L1559 1041.6 L1563 1047.9 L1567 1054.1 L1571 1060.2 L1575 1066.2 L1579 1072.1 L1583 1077.8 L1587 1083.4 L1591 1088.9 L1595 1094.2 L1599 1099.3 L1603 1104.3 L1607 1109.2 L1611 1113.8 L1615 1118.4 L1619 1122.7 L1623 1126.9 L1627 1131 L1631 1134.8 L1635 1138.6 L1639 1142.1 L1643 1145.5 L1647 1148.8 L1651 1151.9 L1655 1154.8 L1659 1157.6 L1663 1160.3 L1667 1162.8 L1671 1165.2 L1675 1167.5 L1679 1169.6 L1683 1171.6 L1687 1173.5 L1691 1175.3 L1695 1177 L1699 1178.6 L1703 1180.1 L1707 1181.5 L1711 1182.8 L1715 1184 L1719 1185.1 L1723 1186.2 L1727 1187.1 L1731 1188.1 L1735 1188.9 L1739 1189.7 L1743 1190.4 L1747 1191.1 L1751 1191.7 L1755 1192.3 L1759 1192.9 L1763 1193.4 L1767 1193.8 L1771 1194.2 L1775 1194.6 L1779 1195 L1783 1195.3 L1787 1195.6 L1791 1195.9 L1795 1196.1 L1799 1196.4 L1803 1196.6 L1807 1196.8 L1811 1197 L1815 1197.1 L1819 1197.3 L1823 1197.4 L1827 1197.5 L1831 1197.7 L1835 1197.8 L1839 1197.9 L1843 1198 L1847 1198 L1851 1198.1 L1855 1198.2 L1859 1198.3 L1863 1198.3 L1867 1198.4 L1871 1198.4 L1875 1198.5 L1879 1198.5 L1883 1198.5" fill="none" stroke="#000" stroke-width="2.5"/>
<path d="M167.8 1197.4 l4.7 0 l-4.7 8.3 l-4.7 -8.3 z M188.5 1197.4 l4.7 0 l-4.7 8.3 l-4.7 -8.3 z M209.2 1197.4 l4.7 0 l-4.7 8.3 l-4.7 -8.3 z M229.9 1197.4 l4.7 0 l-4.7 8.3 l-4.7 -8.3 z M250.6 1197.4 l4.7 0 l-4.7 8.3 l-4.7 -8.3 z M271.4 1197.4 l4.7 0 l-4.7 8.3 l-4.7 -8.3 z M292.1 1197.4 l4.7 0 l-4.7 8.3 l-4.7 -8.3 z M312.8 1197.3 l4.7 0 l-4.7 8.3 l-4.7 -8.3 z M333.5 1197.3 l4.7 0 l-4.7 8.3 l-4.7 -8.3 z M354.2 1197.2 l4.7 0 l-4.7 8.3 l-4.7 -8.3 z M374.9 1197.2 l4.7 0 l-4.7 8.3 l-4.7 -8.3 z M395.6 1197.1 l4.7 0 l-4.7 8.3 l-4.7 -8.3 z M416.3 1196.9 l4.7 0 l-4.7 8.3 l-4.7 -8.3 z M437 1196.7 l4.7 0 l-4.7 8.3 l-4.7 -8.3 z M457.7 1196.4 l4.7 0 l-4.7 8.3 l-4.7 -8.3 z M478.5 1195.9 l4.7 0 l-4.7 8.3 l-4.7 -8.3 z M499.2 1195.3 l4.7 0 l-4.7 8.3 l-4.7 -8.3 z M519.9 1194.5 l4.7 0 l-4.7 8.3 l-4.7 -8.3 z M540.6 1193.3 l4.7 0 l-4.7 8.3 l-4.7 -8.3 z M561.3 1191.8 l4.7 0 l-4.7 8.3 l-4.7 -8.3 z M582 1189.8 l4.7 0 l-4.7 8.3 l-4.7 -8.3 z M602.7 1187.2 l4.7 0 l-4.7 8.3 l-4.7 -8.3 z M623.4 1184 l4.7 0 l-4.7 8.3 l-4.7 -8.3 z M644.1 1179.9 l4.7 0 l-4.7 8.3 l-4.7 -8.3 z M664.8 1174.8 l4.7 0 l-4.7 8.3 l-4.7 -8.3 z M685.5 1168.6 l4.7 0 l-4.7 8.3 l-4.7 -8.3 z M706.3 1161.3 l4.7 0 l-4.7 8.3 l-4.7 -8.3 z M727 1152.7 l4.7 0 l-4.7 8.3 l-4.7 -8.3 z M747.7 1142.7 l4.7 0 l-4.7 8.3 l-4.7 -8.3 z M768.4 1131.4 l4.7 0 l-4.7 8.3 l-4.7 -8.3 z M789.1 1118.9 l4.7 0 l-4.7 8.3 l-4.7 -8.3 z M809.8 1105.2 l4.7 0 l-4.7 8.3 l-4.7 -8.3 z M830.5 1090.5 l4.7 0 l-4.7 8.3 l-4.7 -8.3 z M851.2 1075.2 l4.7 0 l-4.7 8.3 l-4.7 -8.3 z M871.9 1059.6 l4.7 0 l-4.7 8.3 l-4.7 -8.3 z M892.7 1044.1 l4.7 0 l-4.7 8.3 l-4.7 -8.3 z M913.4 1029 l4.7 0 l-4.7 8.3 l-4.7 -8.3 z M934.1 1015 l4.7 0 l-4.7 8.3 l-4.7 -8.3 z M954.8 1002.5 l4.7 0 l-4.7 8.3 l-4.7 -8.3 z M975.5 991.8 l4.7 0 l-4.7 8.3 l-4.7 -8.3 z M996.2 983.3 l4.7 0 l-4.7 8.3 l-4.7 -8.3 z M1016.9 977.4 l4.7 0 l-4.7 8.3 l-4.7 -8.3 z M1037.6 974.1 l4.7 0 l-4.7 8.3 l-4.7 -8.3 z M1058.3 973.5 l4.7 0 l-4.7 8.3 l-4.7 -8.3 z M1079 975.1 l4.7 0 l-4.7 8.3 l-4.7 -8.3 z M1099.8 978.7 l4.7 0 l-4.7 8.3 l-4.7 -8.3 z M1120.5 983.5 l4.7 0 l-4.7 8.3 l-4.7 -8.3 z M1141.2 988.7 l4.7 0 l-4.7 8.3 l-4.7 -8.3 z M1161.9 993.1 l4.7 0 l-4.7 8.3 l-4.7 -8.3 z M1182.6 995.6 l4.7 0 l-4.7 8.3 l-4.7 -8.3 z M1203.3 995.1 l4.7 0 l-4.7 8.3 l-4.7 -8.3 z M1224 990.5 l4.7 0 l-4.7 8.3 l-4.7 -8.3 z M1244.7 981.3 l4.7 0 l-4.7 8.3 l-4.7 -8.3 z M1265.4 967.3 l4.7 0 l-4.7 8.3 l-4.7 -8.3 z M1286.1 949 l4.7 0 l-4.7 8.3 l-4.7 -8.3 z M1306.8 927.7 l4.7 0 l-4.7 8.3 l-4.7 -8.3 z M1327.6 905.3 l4.7 0 l-4.7 8.3 l-4.7 -8.3 z M1348.3 884.3 l4.7 0 l-4.7 8.3 l-4.7 -8.3 z M1369 867.3 l4.7 0 l-4.7 8.3 l-4.7 -8.3 z M1389.7 856.9 l4.7 0 l-4.7 8.3 l-4.7 -8.3 z M1410.4 855.1 l4.7 0 l-4.7 8.3 l-4.7 -8.3 z M1431.1 862.7 l4.7 0 l-4.7 8.3 l-4.7 -8.3 z M1451.8 878.8 l4.7 0 l-4.7 8.3 l-4.7 -8.3 z M1472.5 902.3 l4.7 0 l-4.7 8.3 l-4.7 -8.3 z M1493.2 931.6 l4.7 0 l-4.7 8.3 l-4.7 -8.3 z M1514 964.7 l4.7 0 l-4.7 8.3 l-4.7 -8.3 z M1534.7 999.3 l4.7 0 l-4.7 8.3 l-4.7 -8.3 z M1555.4 1033.4 l4.7 0 l-4.7 8.3 l-4.7 -8.3 z M1576.1 1065.4 l4.7 0 l-4.7 8.3 l-4.7 -8.3 z M1596.8 1094.1 l4.7 0 l-4.7 8.3 l-4.7 -8.3 z M1617.5 1118.7 l4.7 0 l-4.7 8.3 l-4.7 -8.3 z M1638.2 1139 l4.7 0 l-4.7 8.3 l-4.7 -8.3 z M1658.9 1155.2 l4.7 0 l-4.7 8.3 l-4.7 -8.3 z M1679.6 1167.5 l4.7 0 l-4.7 8.3 l-4.7 -8.3 z M1700.3 1176.7 l4.7 0 l-4.7 8.3 l-4.7 -8.3 z M1721 1183.3 l4.7 0 l-4.7 8.3 l-4.7 -8.3 z M1741.8 1187.8 l4.7 0 l-4.7 8.3 l-4.7 -8.3 z M1762.5 1190.9 l4.7 0 l-4.7 8.3 l-4.7 -8.3 z M1783.2 1192.9 l4.7 0 l-4.7 8.3 l-4.7 -8.3 z M1803.9 1194.2 l4.7 0 l-4.7 8.3 l-4.7 -8.3 z M1824.6 1195.1 l4.7 0 l-4.7 8.3 l-4.7 -8.3 z M1845.3 1195.6 l4.7 0 l-4.7 8.3 l-4.7 -8.3 z M1866 1196 l4.7 0 l-4.7 8.3 l-4.7 -8.3 z" fill="#fff" stroke="#000" stroke-width="1.9" stroke-linejoin="miter"/>
</g>
<g clip-path="url(#cpa2)">
<path d="M163 855.4 L169 855.4 L175 855.4 L181 855.4 L187 855.4 L193 855.4 L199 855.4 L205 855.4 L211 855.4 L217 855.3 L223 855.3 L229 855.3 L235 855.3 L241 855.3 L247 855.3 L253 855.3 L259 855.3 L265 855.3 L271 855.3 L277 855.3 L283 855.3 L289 855.3 L295 855.3 L301 855.3 L307 855.3 L313 855.3 L319 855.3 L325 855.3 L331 855.3 L337 855.3 L343 855.3 L349 855.3 L355 855.3 L361 855.3 L367 855.3 L373 855.3 L379 855.3 L385 855.3 L391 855.3 L397 855.3 L403 855.3 L409 855.3 L415 855.3 L421 855.3 L427 855.3 L433 855.3 L439 855.3 L445 855.3 L451 855.3 L457 855.3 L463 855.3 L469 855.3 L475 855.3 L481 855.3 L487 855.3 L493 855.3 L499 855.2 L505 855.2 L511 855.2 L517 855.2 L523 855.2 L529 855.2 L535 855.2 L541 855.2 L547 855.2 L553 855.2 L559 855.2 L565 855.2 L571 855.2 L577 855.2 L583 855.2 L589 855.2 L595 855.2 L601 855.2 L607 855.2 L613 855.2 L619 855.2 L625 855.2 L631 855.2 L637 855.2 L643 855.2 L649 855.2 L655 855.1 L661 855.1 L667 855.1 L673 855.1 L679 855.1 L685 855.1 L691 855.1 L697 855.1 L703 855.1 L709 855.1 L715 855.1 L721 855.1 L727 855.1 L733 855.1 L739 855.1 L745 855.1 L751 855 L757 855 L763 855 L769 855 L775 855 L781 855 L787 855 L793 855 L799 855 L805 855 L811 855 L817 855 L823 854.9 L829 854.9 L835 854.9 L841 854.9 L847 854.9 L853 854.9 L859 854.9 L865 854.9 L871 854.9 L877 854.8 L883 854.8 L889 854.8 L895 854.8 L901 854.8 L907 854.8 L913 854.8 L919 854.7 L925 854.7 L931 854.7 L937 854.7 L943 854.7 L949 854.7 L955 854.6 L961 854.6 L967 854.6 L973 854.6 L979 854.5 L985 854.5 L991 854.5 L997 854.4 L1003 854.4 L1009 854.4 L1015 854.3 L1021 854.3 L1027 854.2 L1033 854.2 L1039 854.1 L1045 854.1 L1051 854 L1057 853.9 L1063 853.8 L1069 853.7 L1075 853.5 L1081 853.4 L1087 853.2 L1093 853 L1099 852.7 L1105 852.5 L1111 852.2 L1117 851.8 L1123 851.4 L1129 850.9 L1135 850.4 L1141 849.7 L1147 849 L1153 848.2 L1159 847.3 L1165 846.3 L1171 845.1 L1177 843.8 L1183 842.3 L1189 840.6 L1195 838.8 L1201 836.7 L1207 834.5 L1213 831.9 L1219 829.2 L1225 826.1 L1231 822.8 L1237 819.1 L1243 815.2 L1249 810.9 L1255 806.3 L1261 801.3 L1267 796 L1273 790.3 L1279 784.2 L1285 777.8 L1291 771.1 L1297 763.9 L1303 756.5 L1309 748.7 L1315 740.7 L1321 732.3 L1327 723.8 L1333 715 L1339 706.1 L1345 697 L1351 687.9 L1357 678.7 L1363 669.5 L1369 660.5 L1375 651.6 L1381 642.8 L1387 634.4 L1393 626.3 L1399 618.5 L1405 611.2 L1411 604.5 L1417 598.3 L1423 592.7 L1429 587.8 L1435 583.6 L1441 580.1 L1447 577.5 L1453 575.7 L1459 574.7 L1465 574.5 L1471 575.2 L1477 576.6 L1483 578.8 L1489 581.8 L1495 585.5 L1501 589.8 L1507 594.9 L1513 600.5 L1519 606.7 L1525 613.4 L1531 620.5 L1537 628.1 L1543 636 L1549 644.2 L1555 652.6 L1561 661.2 L1567 670 L1573 678.8 L1579 687.7 L1585 696.5 L1591 705.2 L1597 713.9 L1603 722.3 L1609 730.6 L1615 738.7 L1621 746.6 L1627 754.1 L1633 761.4 L1639 768.4 L1645 775.1 L1651 781.4 L1657 787.4 L1663 793.1 L1669 798.4 L1675 803.4 L1681 808.1 L1687 812.4 L1693 816.4 L1699 820.1 L1705 823.6 L1711 826.7 L1717 829.6 L1723 832.3 L1729 834.7 L1735 836.9 L1741 838.8 L1747 840.6 L1753 842.2 L1759 843.6 L1765 844.9 L1771 846.1 L1777 847.1 L1783 848 L1789 848.8 L1795 849.5 L1801 850.2 L1807 850.7 L1813 851.2 L1819 851.6 L1825 852 L1831 852.3 L1837 852.6 L1843 852.8 L1849 853.1 L1855 853.3 L1861 853.4 L1867 853.6 L1873 853.7 L1879 853.8 L1883 853.9" fill="none" stroke="#ff8000" stroke-width="11" stroke-linejoin="round"/>
<path d="M163 854.8 L169 854.8 L175 854.8 L181 854.8 L187 854.7 L193 854.7 L199 854.7 L205 854.7 L211 854.7 L217 854.7 L223 854.7 L229 854.7 L235 854.7 L241 854.6 L247 854.6 L253 854.6 L259 854.6 L265 854.6 L271 854.6 L277 854.6 L283 854.5 L289 854.5 L295 854.5 L301 854.5 L307 854.5 L313 854.5 L319 854.4 L325 854.4 L331 854.4 L337 854.4 L343 854.3 L349 854.3 L355 854.3 L361 854.3 L367 854.2 L373 854.2 L379 854.2 L385 854.1 L391 854.1 L397 854 L403 854 L409 853.9 L415 853.9 L421 853.8 L427 853.8 L433 853.7 L439 853.6 L445 853.6 L451 853.5 L457 853.4 L463 853.3 L469 853.2 L475 853.1 L481 852.9 L487 852.8 L493 852.7 L499 852.5 L505 852.3 L511 852.1 L517 851.9 L523 851.7 L529 851.5 L535 851.3 L541 851 L547 850.7 L553 850.4 L559 850.1 L565 849.7 L571 849.3 L577 848.9 L583 848.5 L589 848 L595 847.5 L601 846.9 L607 846.4 L613 845.7 L619 845.1 L625 844.4 L631 843.7 L637 842.9 L643 842 L649 841.1 L655 840.2 L661 839.2 L667 838.2 L673 837.1 L679 835.9 L685 834.7 L691 833.4 L697 832 L703 830.6 L709 829.1 L715 827.5 L721 825.9 L727 824.2 L733 822.4 L739 820.6 L745 818.6 L751 816.6 L757 814.6 L763 812.4 L769 810.2 L775 807.9 L781 805.6 L787 803.1 L793 800.6 L799 798 L805 795.4 L811 792.7 L817 789.9 L823 787.1 L829 784.2 L835 781.3 L841 778.3 L847 775.3 L853 772.3 L859 769.2 L865 766.1 L871 762.9 L877 759.8 L883 756.6 L889 753.4 L895 750.3 L901 747.1 L907 743.9 L913 740.8 L919 737.7 L925 734.7 L931 731.6 L937 728.7 L943 725.8 L949 722.9 L955 720.2 L961 717.5 L967 714.9 L973 712.4 L979 710.1 L985 707.8 L991 705.7 L997 703.6 L1003 701.8 L1009 700 L1015 698.4 L1021 697 L1027 695.7 L1033 694.6 L1039 693.7 L1045 692.9 L1051 692.3 L1057 691.8 L1063 691.6 L1069 691.5 L1075 691.6 L1081 691.8 L1087 692.2 L1093 692.8 L1099 693.4 L1105 694.3 L1111 695.3 L1117 696.4 L1123 697.6 L1129 699 L1135 700.6 L1141 702.2 L1147 704 L1153 705.9 L1159 707.9 L1165 710 L1171 712.2 L1177 714.5 L1183 716.9 L1189 719.4 L1195 722 L1201 724.6 L1207 727.4 L1213 730.1 L1219 732.9 L1225 735.8 L1231 738.7 L1237 741.7 L1243 744.7 L1249 747.6 L1255 750.7 L1261 753.7 L1267 756.7 L1273 759.7 L1279 762.8 L1285 765.8 L1291 768.8 L1297 771.7 L1303 774.7 L1309 777.6 L1315 780.5 L1321 783.3 L1327 786.1 L1333 788.8 L1339 791.5 L1345 794.2 L1351 796.8 L1357 799.3 L1363 801.8 L1369 804.2 L1375 806.5 L1381 808.8 L1387 811.1 L1393 813.2 L1399 815.3 L1405 817.3 L1411 819.3 L1417 821.1 L1423 823 L1429 824.7 L1435 826.4 L1441 828 L1447 829.6 L1453 831 L1459 832.5 L1465 833.8 L1471 835.1 L1477 836.4 L1483 837.5 L1489 838.7 L1495 839.7 L1501 840.7 L1507 841.7 L1513 842.6 L1519 843.5 L1525 844.3 L1531 845.1 L1537 845.8 L1543 846.5 L1549 847.1 L1555 847.7 L1561 848.3 L1567 848.8 L1573 849.3 L1579 849.8 L1585 850.2 L1591 850.6 L1597 851 L1603 851.4 L1609 851.7 L1615 852 L1621 852.3 L1627 852.5 L1633 852.8 L1639 853 L1645 853.2 L1651 853.4 L1657 853.6 L1663 853.8 L1669 853.9 L1675 854.1 L1681 854.2 L1687 854.3 L1693 854.4 L1699 854.5 L1705 854.6 L1711 854.7 L1717 854.8 L1723 854.8 L1729 854.9 L1735 855 L1741 855 L1747 855.1 L1753 855.1 L1759 855.1 L1765 855.2 L1771 855.2 L1777 855.2 L1783 855.3 L1789 855.3 L1795 855.3 L1801 855.3 L1807 855.4 L1813 855.4 L1819 855.4 L1825 855.4 L1831 855.4 L1837 855.4 L1843 855.4 L1849 855.4 L1855 855.4 L1861 855.4 L1867 855.5 L1873 855.5 L1879 855.5 L1883 855.5" fill="none" stroke="#00ff00" stroke-width="11" stroke-linejoin="round"/>
<path d="M163 855.3 L169 855.2 L175 855.2 L181 855.2 L187 855.2 L193 855.2 L199 855.2 L205 855.2 L211 855.2 L217 855.2 L223 855.2 L229 855.2 L235 855.1 L241 855.1 L247 855.1 L253 855.1 L259 855.1 L265 855.1 L271 855 L277 855 L283 855 L289 854.9 L295 854.9 L301 854.9 L307 854.8 L313 854.8 L319 854.7 L325 854.7 L331 854.6 L337 854.6 L343 854.5 L349 854.4 L355 854.4 L361 854.3 L367 854.2 L373 854.1 L379 853.9 L385 853.8 L391 853.7 L397 853.5 L403 853.4 L409 853.2 L415 853 L421 852.8 L427 852.6 L433 852.4 L439 852.2 L445 851.9 L451 851.6 L457 851.3 L463 851 L469 850.7 L475 850.3 L481 850 L487 849.6 L493 849.2 L499 848.8 L505 848.3 L511 847.8 L517 847.3 L523 846.8 L529 846.3 L535 845.8 L541 845.2 L547 844.6 L553 844 L559 843.4 L565 842.7 L571 842.1 L577 841.4 L583 840.7 L589 840 L595 839.3 L601 838.6 L607 837.9 L613 837.2 L619 836.5 L625 835.8 L631 835.1 L637 834.4 L643 833.7 L649 833 L655 832.3 L661 831.6 L667 831 L673 830.4 L679 829.8 L685 829.2 L691 828.7 L697 828.2 L703 827.8 L709 827.3 L715 826.9 L721 826.6 L727 826.3 L733 826 L739 825.8 L745 825.7 L751 825.6 L757 825.5 L763 825.5 L769 825.5 L775 825.6 L781 825.7 L787 825.9 L793 826.1 L799 826.3 L805 826.6 L811 826.9 L817 827.2 L823 827.6 L829 828 L835 828.4 L841 828.9 L847 829.4 L853 829.9 L859 830.4 L865 830.9 L871 831.5 L877 832.1 L883 832.7 L889 833.3 L895 833.9 L901 834.6 L907 835.2 L913 835.8 L919 836.5 L925 837.1 L931 837.8 L937 838.4 L943 839 L949 839.7 L955 840.3 L961 840.9 L967 841.5 L973 842.1 L979 842.7 L985 843.3 L991 843.8 L997 844.4 L1003 844.9 L1009 845.4 L1015 846 L1021 846.4 L1027 846.9 L1033 847.4 L1039 847.8 L1045 848.2 L1051 848.6 L1057 849 L1063 849.4 L1069 849.8 L1075 850.1 L1081 850.4 L1087 850.7 L1093 851 L1099 851.3 L1105 851.6 L1111 851.8 L1117 852.1 L1123 852.3 L1129 852.5 L1135 852.7 L1141 852.9 L1147 853 L1153 853.2 L1159 853.4 L1165 853.5 L1171 853.6 L1177 853.8 L1183 853.9 L1189 854 L1195 854.1 L1201 854.2 L1207 854.3 L1213 854.3 L1219 854.4 L1225 854.5 L1231 854.6 L1237 854.6 L1243 854.7 L1249 854.7 L1255 854.8 L1261 854.8 L1267 854.8 L1273 854.9 L1279 854.9 L1285 854.9 L1291 855 L1297 855 L1303 855 L1309 855 L1315 855.1 L1321 855.1 L1327 855.1 L1333 855.1 L1339 855.1 L1345 855.1 L1351 855.2 L1357 855.2 L1363 855.2 L1369 855.2 L1375 855.2 L1381 855.2 L1387 855.2 L1393 855.2 L1399 855.2 L1405 855.2 L1411 855.2 L1417 855.2 L1423 855.2 L1429 855.3 L1435 855.3 L1441 855.3 L1447 855.3 L1453 855.3 L1459 855.3 L1465 855.3 L1471 855.3 L1477 855.3 L1483 855.3 L1489 855.3 L1495 855.3 L1501 855.3 L1507 855.3 L1513 855.3 L1519 855.3 L1525 855.3 L1531 855.3 L1537 855.3 L1543 855.3 L1549 855.3 L1555 855.3 L1561 855.3 L1567 855.3 L1573 855.3 L1579 855.3 L1585 855.3 L1591 855.3 L1597 855.3 L1603 855.3 L1609 855.3 L1615 855.3 L1621 855.4 L1627 855.4 L1633 855.4 L1639 855.4 L1645 855.4 L1651 855.4 L1657 855.4 L1663 855.4 L1669 855.4 L1675 855.4 L1681 855.4 L1687 855.4 L1693 855.4 L1699 855.4 L1705 855.4 L1711 855.4 L1717 855.4 L1723 855.4 L1729 855.4 L1735 855.4 L1741 855.4 L1747 855.4 L1753 855.4 L1759 855.4 L1765 855.4 L1771 855.4 L1777 855.4 L1783 855.4 L1789 855.4 L1795 855.4 L1801 855.4 L1807 855.4 L1813 855.4 L1819 855.4 L1825 855.4 L1831 855.4 L1837 855.4 L1843 855.4 L1849 855.4 L1855 855.4 L1861 855.4 L1867 855.4 L1873 855.4 L1879 855.4 L1883 855.4" fill="none" stroke="#ff80ff" stroke-width="11" stroke-linejoin="round"/>
<path d="M163 854.4 L167 854.4 L171 854.4 L175 854.4 L179 854.3 L183 854.3 L187 854.3 L191 854.3 L195 854.3 L199 854.3 L203 854.3 L207 854.3 L211 854.2 L215 854.2 L219 854.2 L223 854.2 L227 854.2 L231 854.2 L235 854.1 L239 854.1 L243 854.1 L247 854.1 L251 854.1 L255 854 L259 854 L263 854 L267 854 L271 853.9 L275 853.9 L279 853.9 L283 853.9 L287 853.8 L291 853.8 L295 853.8 L299 853.7 L303 853.7 L307 853.6 L311 853.6 L315 853.6 L319 853.5 L323 853.5 L327 853.4 L331 853.3 L335 853.3 L339 853.2 L343 853.2 L347 853.1 L351 853 L355 852.9 L359 852.9 L363 852.8 L367 852.7 L371 852.6 L375 852.5 L379 852.4 L383 852.3 L387 852.2 L391 852.1 L395 851.9 L399 851.8 L403 851.7 L407 851.5 L411 851.4 L415 851.2 L419 851 L423 850.9 L427 850.7 L431 850.5 L435 850.3 L439 850.1 L443 849.8 L447 849.6 L451 849.4 L455 849.1 L459 848.8 L463 848.6 L467 848.3 L471 848 L475 847.7 L479 847.3 L483 847 L487 846.6 L491 846.3 L495 845.9 L499 845.5 L503 845.1 L507 844.7 L511 844.2 L515 843.8 L519 843.3 L523 842.8 L527 842.3 L531 841.8 L535 841.2 L539 840.7 L543 840.1 L547 839.5 L551 838.9 L555 838.3 L559 837.6 L563 837 L567 836.3 L571 835.6 L575 834.9 L579 834.1 L583 833.4 L587 832.6 L591 831.8 L595 831 L599 830.2 L603 829.3 L607 828.5 L611 827.6 L615 826.7 L619 825.8 L623 824.8 L627 823.9 L631 822.9 L635 821.9 L639 820.9 L643 819.8 L647 818.8 L651 817.7 L655 816.6 L659 815.5 L663 814.4 L667 813.3 L671 812.2 L675 811 L679 809.8 L683 808.6 L687 807.4 L691 806.2 L695 805 L699 803.7 L703 802.4 L707 801.2 L711 799.9 L715 798.6 L719 797.2 L723 795.9 L727 794.6 L731 793.2 L735 791.8 L739 790.5 L743 789.1 L747 787.7 L751 786.3 L755 784.8 L759 783.4 L763 782 L767 780.5 L771 779 L775 777.5 L779 776 L783 774.5 L787 773 L791 771.5 L795 769.9 L799 768.3 L803 766.7 L807 765.2 L811 763.5 L815 761.9 L819 760.3 L823 758.6 L827 757 L831 755.3 L835 753.7 L839 752 L843 750.3 L847 748.6 L851 746.9 L855 745.2 L859 743.5 L863 741.7 L867 740 L871 738.3 L875 736.6 L879 734.8 L883 733.1 L887 731.4 L891 729.7 L895 728 L899 726.3 L903 724.6 L907 722.9 L911 721.2 L915 719.6 L919 717.9 L923 716.3 L927 714.7 L931 713.1 L935 711.5 L939 710 L943 708.5 L947 707 L951 705.5 L955 704.1 L959 702.7 L963 701.4 L967 700 L971 698.8 L975 697.5 L979 696.3 L983 695.2 L987 694 L991 693 L995 692 L999 691 L1003 690.1 L1007 689.3 L1011 688.5 L1015 687.7 L1019 687.1 L1023 686.4 L1027 685.9 L1031 685.4 L1035 685 L1039 684.6 L1043 684.3 L1047 684 L1051 683.9 L1055 683.8 L1059 683.7 L1063 683.8 L1067 683.9 L1071 684 L1075 684.2 L1079 684.5 L1083 684.8 L1087 685.1 L1091 685.5 L1095 686 L1099 686.5 L1103 687 L1107 687.6 L1111 688.2 L1115 688.9 L1119 689.6 L1123 690.3 L1127 691 L1131 691.8 L1135 692.6 L1139 693.4 L1143 694.2 L1147 695.1 L1151 695.9 L1155 696.7 L1159 697.5 L1163 698.4 L1167 699.2 L1171 699.9 L1175 700.7 L1179 701.4 L1183 702.1 L1187 702.8 L1191 703.3 L1195 703.9 L1199 704.4 L1203 704.8 L1207 705.1 L1211 705.3 L1215 705.5 L1219 705.5 L1223 705.5 L1227 705.3 L1231 705.1 L1235 704.7 L1239 704.2 L1243 703.5 L1247 702.8 L1251 701.8 L1255 700.8 L1259 699.5 L1263 698.2 L1267 696.6 L1271 694.9 L1275 693.1 L1279 691.1 L1283 688.9 L1287 686.6 L1291 684.1 L1295 681.4 L1299 678.6 L1303 675.7 L1307 672.5 L1311 669.3 L1315 665.9 L1319 662.4 L1323 658.8 L1327 655.1 L1331 651.3 L1335 647.4 L1339 643.4 L1343 639.3 L1347 635.2 L1351 631.1 L1355 627 L1359 622.8 L1363 618.7 L1367 614.6 L1371 610.5 L1375 606.5 L1379 602.6 L1383 598.8 L1387 595 L1391 591.4 L1395 588 L1399 584.7 L1403 581.5 L1407 578.6 L1411 575.8 L1415 573.3 L1419 571 L1423 568.9 L1427 567.1 L1431 565.5 L1435 564.2 L1439 563.2 L1443 562.4 L1447 562 L1451 561.8 L1455 562 L1459 562.4 L1463 563.2 L1467 564.2 L1471 565.5 L1475 567.1 L1479 569 L1483 571.1 L1487 573.6 L1491 576.2 L1495 579.2 L1499 582.4 L1503 585.8 L1507 589.5 L1511 593.4 L1515 597.6 L1519 601.9 L1523 606.5 L1527 611.2 L1531 616.1 L1535 621.2 L1539 626.4 L1543 631.8 L1547 637.2 L1551 642.8 L1555 648.5 L1559 654.3 L1563 660.1 L1567 666 L1571 671.9 L1575 677.9 L1579 683.9 L1583 689.8 L1587 695.7 L1591 701.6 L1595 707.5 L1599 713.3 L1603 719 L1607 724.7 L1611 730.2 L1615 735.7 L1619 741.1 L1623 746.3 L1627 751.4 L1631 756.4 L1635 761.3 L1639 766 L1643 770.6 L1647 775 L1651 779.3 L1655 783.5 L1659 787.4 L1663 791.3 L1667 795 L1671 798.5 L1675 801.9 L1679 805.1 L1683 808.2 L1687 811.1 L1691 813.9 L1695 816.5 L1699 819.1 L1703 821.4 L1707 823.7 L1711 825.8 L1715 827.8 L1719 829.7 L1723 831.5 L1727 833.2 L1731 834.7 L1735 836.2 L1739 837.6 L1743 838.9 L1747 840.1 L1751 841.2 L1755 842.2 L1759 843.2 L1763 844.1 L1767 844.9 L1771 845.7 L1775 846.4 L1779 847.1 L1783 847.7 L1787 848.2 L1791 848.8 L1795 849.2 L1799 849.7 L1803 850.1 L1807 850.5 L1811 850.8 L1815 851.1 L1819 851.4 L1823 851.7 L1827 851.9 L1831 852.1 L1835 852.3 L1839 852.5 L1843 852.7 L1847 852.8 L1851 853 L1855 853.1 L1859 853.2 L1863 853.3 L1867 853.4 L1871 853.5 L1875 853.6 L1879 853.7 L1883 853.7" fill="none" stroke="#1b7a1b" stroke-width="2.5"/>
<path d="M167.8 852 l4.7 0 l-4.7 8.3 l-4.7 -8.3 z M188.5 851.9 l4.7 0 l-4.7 8.3 l-4.7 -8.3 z M209.2 851.8 l4.7 0 l-4.7 8.3 l-4.7 -8.3 z M229.9 851.8 l4.7 0 l-4.7 8.3 l-4.7 -8.3 z M250.6 851.7 l4.7 0 l-4.7 8.3 l-4.7 -8.3 z M271.4 851.5 l4.7 0 l-4.7 8.3 l-4.7 -8.3 z M292.1 851.4 l4.7 0 l-4.7 8.3 l-4.7 -8.3 z M312.8 851.2 l4.7 0 l-4.7 8.3 l-4.7 -8.3 z M333.5 850.9 l4.7 0 l-4.7 8.3 l-4.7 -8.3 z M354.2 850.6 l4.7 0 l-4.7 8.3 l-4.7 -8.3 z M374.9 850.1 l4.7 0 l-4.7 8.3 l-4.7 -8.3 z M395.6 849.5 l4.7 0 l-4.7 8.3 l-4.7 -8.3 z M416.3 848.8 l4.7 0 l-4.7 8.3 l-4.7 -8.3 z M437 847.8 l4.7 0 l-4.7 8.3 l-4.7 -8.3 z M457.7 846.5 l4.7 0 l-4.7 8.3 l-4.7 -8.3 z M478.5 845 l4.7 0 l-4.7 8.3 l-4.7 -8.3 z M499.2 843.1 l4.7 0 l-4.7 8.3 l-4.7 -8.3 z M519.9 840.8 l4.7 0 l-4.7 8.3 l-4.7 -8.3 z M540.6 838.1 l4.7 0 l-4.7 8.3 l-4.7 -8.3 z M561.3 834.9 l4.7 0 l-4.7 8.3 l-4.7 -8.3 z M582 831.2 l4.7 0 l-4.7 8.3 l-4.7 -8.3 z M602.7 827 l4.7 0 l-4.7 8.3 l-4.7 -8.3 z M623.4 822.3 l4.7 0 l-4.7 8.3 l-4.7 -8.3 z M644.1 817.1 l4.7 0 l-4.7 8.3 l-4.7 -8.3 z M664.8 811.5 l4.7 0 l-4.7 8.3 l-4.7 -8.3 z M685.5 805.5 l4.7 0 l-4.7 8.3 l-4.7 -8.3 z M706.3 799 l4.7 0 l-4.7 8.3 l-4.7 -8.3 z M727 792.2 l4.7 0 l-4.7 8.3 l-4.7 -8.3 z M747.7 785 l4.7 0 l-4.7 8.3 l-4.7 -8.3 z M768.4 777.6 l4.7 0 l-4.7 8.3 l-4.7 -8.3 z M789.1 769.8 l4.7 0 l-4.7 8.3 l-4.7 -8.3 z M809.8 761.6 l4.7 0 l-4.7 8.3 l-4.7 -8.3 z M830.5 753.1 l4.7 0 l-4.7 8.3 l-4.7 -8.3 z M851.2 744.4 l4.7 0 l-4.7 8.3 l-4.7 -8.3 z M871.9 735.5 l4.7 0 l-4.7 8.3 l-4.7 -8.3 z M892.7 726.6 l4.7 0 l-4.7 8.3 l-4.7 -8.3 z M913.4 717.9 l4.7 0 l-4.7 8.3 l-4.7 -8.3 z M934.1 709.5 l4.7 0 l-4.7 8.3 l-4.7 -8.3 z M954.8 701.8 l4.7 0 l-4.7 8.3 l-4.7 -8.3 z M975.5 695 l4.7 0 l-4.7 8.3 l-4.7 -8.3 z M996.2 689.3 l4.7 0 l-4.7 8.3 l-4.7 -8.3 z M1016.9 685 l4.7 0 l-4.7 8.3 l-4.7 -8.3 z M1037.6 682.3 l4.7 0 l-4.7 8.3 l-4.7 -8.3 z M1058.3 681.3 l4.7 0 l-4.7 8.3 l-4.7 -8.3 z M1079 682.1 l4.7 0 l-4.7 8.3 l-4.7 -8.3 z M1099.8 684.2 l4.7 0 l-4.7 8.3 l-4.7 -8.3 z M1120.5 687.4 l4.7 0 l-4.7 8.3 l-4.7 -8.3 z M1141.2 691.4 l4.7 0 l-4.7 8.3 l-4.7 -8.3 z M1161.9 695.7 l4.7 0 l-4.7 8.3 l-4.7 -8.3 z M1182.6 699.6 l4.7 0 l-4.7 8.3 l-4.7 -8.3 z M1203.3 702.4 l4.7 0 l-4.7 8.3 l-4.7 -8.3 z M1224 703.1 l4.7 0 l-4.7 8.3 l-4.7 -8.3 z M1244.7 700.8 l4.7 0 l-4.7 8.3 l-4.7 -8.3 z M1265.4 694.9 l4.7 0 l-4.7 8.3 l-4.7 -8.3 z M1286.1 684.7 l4.7 0 l-4.7 8.3 l-4.7 -8.3 z M1306.8 670.3 l4.7 0 l-4.7 8.3 l-4.7 -8.3 z M1327.6 652.2 l4.7 0 l-4.7 8.3 l-4.7 -8.3 z M1348.3 631.5 l4.7 0 l-4.7 8.3 l-4.7 -8.3 z M1369 610.2 l4.7 0 l-4.7 8.3 l-4.7 -8.3 z M1389.7 590.2 l4.7 0 l-4.7 8.3 l-4.7 -8.3 z M1410.4 573.8 l4.7 0 l-4.7 8.3 l-4.7 -8.3 z M1431.1 563.1 l4.7 0 l-4.7 8.3 l-4.7 -8.3 z M1451.8 559.4 l4.7 0 l-4.7 8.3 l-4.7 -8.3 z M1472.5 563.7 l4.7 0 l-4.7 8.3 l-4.7 -8.3 z M1493.2 575.5 l4.7 0 l-4.7 8.3 l-4.7 -8.3 z M1514 594.1 l4.7 0 l-4.7 8.3 l-4.7 -8.3 z M1534.7 618.3 l4.7 0 l-4.7 8.3 l-4.7 -8.3 z M1555.4 646.7 l4.7 0 l-4.7 8.3 l-4.7 -8.3 z M1576.1 677.1 l4.7 0 l-4.7 8.3 l-4.7 -8.3 z M1596.8 707.7 l4.7 0 l-4.7 8.3 l-4.7 -8.3 z M1617.5 736.7 l4.7 0 l-4.7 8.3 l-4.7 -8.3 z M1638.2 762.7 l4.7 0 l-4.7 8.3 l-4.7 -8.3 z M1658.9 785 l4.7 0 l-4.7 8.3 l-4.7 -8.3 z M1679.6 803.2 l4.7 0 l-4.7 8.3 l-4.7 -8.3 z M1700.3 817.5 l4.7 0 l-4.7 8.3 l-4.7 -8.3 z M1721 828.2 l4.7 0 l-4.7 8.3 l-4.7 -8.3 z M1741.8 836.1 l4.7 0 l-4.7 8.3 l-4.7 -8.3 z M1762.5 841.6 l4.7 0 l-4.7 8.3 l-4.7 -8.3 z M1783.2 845.3 l4.7 0 l-4.7 8.3 l-4.7 -8.3 z M1803.9 847.8 l4.7 0 l-4.7 8.3 l-4.7 -8.3 z M1824.6 849.4 l4.7 0 l-4.7 8.3 l-4.7 -8.3 z M1845.3 850.4 l4.7 0 l-4.7 8.3 l-4.7 -8.3 z M1866 851 l4.7 0 l-4.7 8.3 l-4.7 -8.3 z" fill="#fff" stroke="#1b7a1b" stroke-width="1.9" stroke-linejoin="miter"/>
</g>
<g clip-path="url(#cpa1)">
<path d="M163 556.8 L169 556.8 L175 556.8 L181 556.8 L187 556.8 L193 556.8 L199 556.8 L205 556.8 L211 556.8 L217 556.8 L223 556.8 L229 556.8 L235 556.8 L241 556.8 L247 556.8 L253 556.8 L259 556.8 L265 556.8 L271 556.7 L277 556.7 L283 556.7 L289 556.7 L295 556.7 L301 556.7 L307 556.7 L313 556.7 L319 556.7 L325 556.7 L331 556.7 L337 556.7 L343 556.7 L349 556.7 L355 556.7 L361 556.7 L367 556.7 L373 556.7 L379 556.7 L385 556.7 L391 556.7 L397 556.7 L403 556.7 L409 556.7 L415 556.7 L421 556.7 L427 556.7 L433 556.7 L439 556.7 L445 556.7 L451 556.7 L457 556.6 L463 556.6 L469 556.6 L475 556.6 L481 556.6 L487 556.6 L493 556.6 L499 556.6 L505 556.6 L511 556.6 L517 556.6 L523 556.6 L529 556.6 L535 556.6 L541 556.6 L547 556.6 L553 556.6 L559 556.6 L565 556.6 L571 556.6 L577 556.5 L583 556.5 L589 556.5 L595 556.5 L601 556.5 L607 556.5 L613 556.5 L619 556.5 L625 556.5 L631 556.5 L637 556.5 L643 556.5 L649 556.5 L655 556.5 L661 556.4 L667 556.4 L673 556.4 L679 556.4 L685 556.4 L691 556.4 L697 556.4 L703 556.4 L709 556.4 L715 556.4 L721 556.4 L727 556.3 L733 556.3 L739 556.3 L745 556.3 L751 556.3 L757 556.3 L763 556.3 L769 556.3 L775 556.3 L781 556.2 L787 556.2 L793 556.2 L799 556.2 L805 556.2 L811 556.2 L817 556.2 L823 556.1 L829 556.1 L835 556.1 L841 556.1 L847 556.1 L853 556.1 L859 556 L865 556 L871 556 L877 556 L883 556 L889 555.9 L895 555.9 L901 555.9 L907 555.9 L913 555.8 L919 555.8 L925 555.8 L931 555.8 L937 555.7 L943 555.7 L949 555.7 L955 555.6 L961 555.6 L967 555.5 L973 555.5 L979 555.4 L985 555.4 L991 555.3 L997 555.3 L1003 555.2 L1009 555.1 L1015 555 L1021 554.9 L1027 554.8 L1033 554.7 L1039 554.5 L1045 554.4 L1051 554.2 L1057 554 L1063 553.7 L1069 553.4 L1075 553.1 L1081 552.7 L1087 552.3 L1093 551.8 L1099 551.3 L1105 550.6 L1111 549.9 L1117 549.1 L1123 548.1 L1129 547 L1135 545.8 L1141 544.5 L1147 542.9 L1153 541.2 L1159 539.3 L1165 537.1 L1171 534.7 L1177 532 L1183 529.1 L1189 525.8 L1195 522.2 L1201 518.3 L1207 514 L1213 509.3 L1219 504.2 L1225 498.7 L1231 492.7 L1237 486.3 L1243 479.4 L1249 472 L1255 464.2 L1261 455.9 L1267 447.1 L1273 437.8 L1279 428.1 L1285 418 L1291 407.4 L1297 396.4 L1303 385.1 L1309 373.4 L1315 361.5 L1321 349.4 L1327 337 L1333 324.6 L1339 312.1 L1345 299.6 L1351 287.2 L1357 274.9 L1363 262.9 L1369 251.2 L1375 240 L1381 229.1 L1387 218.9 L1393 209.3 L1399 200.3 L1405 192.2 L1411 184.9 L1417 178.6 L1423 173.2 L1429 168.8 L1435 165.5 L1441 163.3 L1447 162.1 L1453 162.1 L1459 163.3 L1465 165.7 L1471 169.2 L1477 173.8 L1483 179.5 L1489 186.1 L1495 193.8 L1501 202.3 L1507 211.6 L1513 221.7 L1519 232.4 L1525 243.7 L1531 255.4 L1537 267.6 L1543 280 L1549 292.7 L1555 305.4 L1561 318.3 L1567 331.1 L1573 343.8 L1579 356.4 L1585 368.7 L1591 380.8 L1597 392.6 L1603 404 L1609 414.9 L1615 425.5 L1621 435.6 L1627 445.2 L1633 454.3 L1639 462.9 L1645 471.1 L1651 478.7 L1657 485.8 L1663 492.4 L1669 498.5 L1675 504.2 L1681 509.5 L1687 514.3 L1693 518.7 L1699 522.7 L1705 526.3 L1711 529.6 L1717 532.6 L1723 535.3 L1729 537.7 L1735 539.8 L1741 541.7 L1747 543.4 L1753 545 L1759 546.3 L1765 547.5 L1771 548.5 L1777 549.5 L1783 550.3 L1789 551 L1795 551.6 L1801 552.1 L1807 552.6 L1813 553 L1819 553.3 L1825 553.6 L1831 553.9 L1837 554.1 L1843 554.3 L1849 554.5 L1855 554.7 L1861 554.8 L1867 554.9 L1873 555 L1879 555.1 L1883 555.2" fill="none" stroke="#ff8000" stroke-width="11" stroke-linejoin="round"/>
<path d="M163 557 L169 557 L175 557 L181 557 L187 557 L193 557 L199 557 L205 557 L211 557 L217 557 L223 557 L229 557 L235 557 L241 557 L247 557 L253 557 L259 557 L265 557 L271 557 L277 557 L283 557 L289 557 L295 557 L301 557 L307 557 L313 557 L319 557 L325 556.9 L331 556.9 L337 556.9 L343 556.9 L349 556.9 L355 556.9 L361 556.9 L367 556.9 L373 556.8 L379 556.8 L385 556.8 L391 556.8 L397 556.7 L403 556.7 L409 556.7 L415 556.6 L421 556.6 L427 556.5 L433 556.5 L439 556.4 L445 556.3 L451 556.2 L457 556.2 L463 556 L469 555.9 L475 555.8 L481 555.7 L487 555.5 L493 555.3 L499 555.2 L505 555 L511 554.7 L517 554.5 L523 554.2 L529 553.9 L535 553.6 L541 553.3 L547 552.9 L553 552.5 L559 552 L565 551.5 L571 551 L577 550.4 L583 549.8 L589 549.1 L595 548.4 L601 547.6 L607 546.7 L613 545.8 L619 544.9 L625 543.8 L631 542.7 L637 541.5 L643 540.2 L649 538.9 L655 537.4 L661 535.9 L667 534.3 L673 532.6 L679 530.8 L685 528.8 L691 526.8 L697 524.7 L703 522.4 L709 520.1 L715 517.6 L721 515 L727 512.3 L733 509.4 L739 506.5 L745 503.4 L751 500.2 L757 496.9 L763 493.4 L769 489.9 L775 486.2 L781 482.4 L787 478.5 L793 474.5 L799 470.4 L805 466.2 L811 461.9 L817 457.5 L823 453 L829 448.4 L835 443.8 L841 439.1 L847 434.4 L853 429.6 L859 424.8 L865 419.9 L871 415.1 L877 410.2 L883 405.4 L889 400.6 L895 395.8 L901 391 L907 386.4 L913 381.8 L919 377.2 L925 372.8 L931 368.5 L937 364.3 L943 360.2 L949 356.3 L955 352.5 L961 349 L967 345.6 L973 342.3 L979 339.3 L985 336.5 L991 334 L997 331.6 L1003 329.5 L1009 327.7 L1015 326.1 L1021 324.7 L1027 323.7 L1033 322.8 L1039 322.3 L1045 322 L1051 322 L1057 322.3 L1063 322.8 L1069 323.6 L1075 324.7 L1081 326 L1087 327.5 L1093 329.3 L1099 331.3 L1105 333.6 L1111 336.1 L1117 338.8 L1123 341.7 L1129 344.8 L1135 348.1 L1141 351.6 L1147 355.3 L1153 359.1 L1159 363 L1165 367.1 L1171 371.3 L1177 375.6 L1183 380.1 L1189 384.6 L1195 389.1 L1201 393.8 L1207 398.5 L1213 403.2 L1219 407.9 L1225 412.7 L1231 417.5 L1237 422.2 L1243 427 L1249 431.7 L1255 436.4 L1261 441 L1267 445.6 L1273 450.2 L1279 454.6 L1285 459 L1291 463.3 L1297 467.5 L1303 471.6 L1309 475.6 L1315 479.5 L1321 483.4 L1327 487.1 L1333 490.6 L1339 494.1 L1345 497.5 L1351 500.7 L1357 503.9 L1363 506.9 L1369 509.8 L1375 512.5 L1381 515.2 L1387 517.7 L1393 520.2 L1399 522.5 L1405 524.7 L1411 526.8 L1417 528.8 L1423 530.7 L1429 532.5 L1435 534.2 L1441 535.8 L1447 537.3 L1453 538.7 L1459 540.1 L1465 541.3 L1471 542.5 L1477 543.6 L1483 544.7 L1489 545.6 L1495 546.5 L1501 547.4 L1507 548.2 L1513 548.9 L1519 549.6 L1525 550.2 L1531 550.8 L1537 551.3 L1543 551.8 L1549 552.3 L1555 552.7 L1561 553.1 L1567 553.5 L1573 553.8 L1579 554.1 L1585 554.4 L1591 554.6 L1597 554.8 L1603 555.1 L1609 555.2 L1615 555.4 L1621 555.6 L1627 555.7 L1633 555.9 L1639 556 L1645 556.1 L1651 556.2 L1657 556.3 L1663 556.3 L1669 556.4 L1675 556.5 L1681 556.5 L1687 556.6 L1693 556.6 L1699 556.7 L1705 556.7 L1711 556.7 L1717 556.8 L1723 556.8 L1729 556.8 L1735 556.8 L1741 556.9 L1747 556.9 L1753 556.9 L1759 556.9 L1765 556.9 L1771 556.9 L1777 556.9 L1783 556.9 L1789 557 L1795 557 L1801 557 L1807 557 L1813 557 L1819 557 L1825 557 L1831 557 L1837 557 L1843 557 L1849 557 L1855 557 L1861 557 L1867 557 L1873 557 L1879 557 L1883 557" fill="none" stroke="#00ff00" stroke-width="11" stroke-linejoin="round"/>
<path d="M163 556.8 L169 556.8 L175 556.8 L181 556.7 L187 556.7 L193 556.7 L199 556.7 L205 556.7 L211 556.7 L217 556.7 L223 556.7 L229 556.7 L235 556.7 L241 556.6 L247 556.6 L253 556.6 L259 556.6 L265 556.6 L271 556.5 L277 556.5 L283 556.5 L289 556.5 L295 556.4 L301 556.4 L307 556.4 L313 556.3 L319 556.3 L325 556.2 L331 556.2 L337 556.1 L343 556 L349 556 L355 555.9 L361 555.8 L367 555.7 L373 555.6 L379 555.5 L385 555.4 L391 555.3 L397 555.1 L403 555 L409 554.8 L415 554.7 L421 554.5 L427 554.3 L433 554.1 L439 553.9 L445 553.7 L451 553.4 L457 553.2 L463 552.9 L469 552.6 L475 552.4 L481 552 L487 551.7 L493 551.4 L499 551 L505 550.6 L511 550.2 L517 549.8 L523 549.4 L529 549 L535 548.5 L541 548 L547 547.6 L553 547.1 L559 546.5 L565 546 L571 545.5 L577 544.9 L583 544.4 L589 543.8 L595 543.2 L601 542.7 L607 542.1 L613 541.5 L619 540.9 L625 540.3 L631 539.7 L637 539.1 L643 538.5 L649 538 L655 537.4 L661 536.9 L667 536.3 L673 535.8 L679 535.3 L685 534.8 L691 534.3 L697 533.9 L703 533.5 L709 533.1 L715 532.7 L721 532.4 L727 532.1 L733 531.8 L739 531.6 L745 531.4 L751 531.2 L757 531.1 L763 531 L769 531 L775 531 L781 531 L787 531.1 L793 531.2 L799 531.3 L805 531.5 L811 531.7 L817 531.9 L823 532.1 L829 532.4 L835 532.7 L841 533 L847 533.4 L853 533.8 L859 534.1 L865 534.6 L871 535 L877 535.4 L883 535.9 L889 536.4 L895 536.9 L901 537.4 L907 537.9 L913 538.4 L919 538.9 L925 539.4 L931 540 L937 540.5 L943 541 L949 541.6 L955 542.1 L961 542.6 L967 543.1 L973 543.7 L979 544.2 L985 544.7 L991 545.2 L997 545.7 L1003 546.1 L1009 546.6 L1015 547.1 L1021 547.5 L1027 548 L1033 548.4 L1039 548.8 L1045 549.2 L1051 549.6 L1057 550 L1063 550.3 L1069 550.7 L1075 551 L1081 551.4 L1087 551.7 L1093 552 L1099 552.3 L1105 552.5 L1111 552.8 L1117 553 L1123 553.3 L1129 553.5 L1135 553.7 L1141 553.9 L1147 554.1 L1153 554.3 L1159 554.5 L1165 554.6 L1171 554.8 L1177 554.9 L1183 555 L1189 555.2 L1195 555.3 L1201 555.4 L1207 555.5 L1213 555.6 L1219 555.7 L1225 555.8 L1231 555.8 L1237 555.9 L1243 556 L1249 556 L1255 556.1 L1261 556.2 L1267 556.2 L1273 556.3 L1279 556.3 L1285 556.3 L1291 556.4 L1297 556.4 L1303 556.4 L1309 556.5 L1315 556.5 L1321 556.5 L1327 556.5 L1333 556.6 L1339 556.6 L1345 556.6 L1351 556.6 L1357 556.6 L1363 556.6 L1369 556.7 L1375 556.7 L1381 556.7 L1387 556.7 L1393 556.7 L1399 556.7 L1405 556.7 L1411 556.7 L1417 556.7 L1423 556.7 L1429 556.8 L1435 556.8 L1441 556.8 L1447 556.8 L1453 556.8 L1459 556.8 L1465 556.8 L1471 556.8 L1477 556.8 L1483 556.8 L1489 556.8 L1495 556.8 L1501 556.8 L1507 556.8 L1513 556.8 L1519 556.8 L1525 556.8 L1531 556.8 L1537 556.8 L1543 556.8 L1549 556.8 L1555 556.8 L1561 556.8 L1567 556.8 L1573 556.8 L1579 556.8 L1585 556.8 L1591 556.8 L1597 556.8 L1603 556.9 L1609 556.9 L1615 556.9 L1621 556.9 L1627 556.9 L1633 556.9 L1639 556.9 L1645 556.9 L1651 556.9 L1657 556.9 L1663 556.9 L1669 556.9 L1675 556.9 L1681 556.9 L1687 556.9 L1693 556.9 L1699 556.9 L1705 556.9 L1711 556.9 L1717 556.9 L1723 556.9 L1729 556.9 L1735 556.9 L1741 556.9 L1747 556.9 L1753 556.9 L1759 556.9 L1765 556.9 L1771 556.9 L1777 556.9 L1783 556.9 L1789 556.9 L1795 556.9 L1801 556.9 L1807 556.9 L1813 556.9 L1819 556.9 L1825 556.9 L1831 556.9 L1837 556.9 L1843 556.9 L1849 556.9 L1855 556.9 L1861 556.9 L1867 556.9 L1873 556.9 L1879 556.9 L1883 556.9" fill="none" stroke="#ff80ff" stroke-width="11" stroke-linejoin="round"/>
<path d="M163 556.6 L167 556.5 L171 556.5 L175 556.5 L179 556.5 L183 556.5 L187 556.5 L191 556.5 L195 556.5 L199 556.5 L203 556.5 L207 556.5 L211 556.5 L215 556.5 L219 556.5 L223 556.4 L227 556.4 L231 556.4 L235 556.4 L239 556.4 L243 556.4 L247 556.4 L251 556.4 L255 556.3 L259 556.3 L263 556.3 L267 556.3 L271 556.3 L275 556.3 L279 556.2 L283 556.2 L287 556.2 L291 556.2 L295 556.1 L299 556.1 L303 556.1 L307 556 L311 556 L315 556 L319 555.9 L323 555.9 L327 555.9 L331 555.8 L335 555.8 L339 555.7 L343 555.7 L347 555.6 L351 555.5 L355 555.5 L359 555.4 L363 555.3 L367 555.3 L371 555.2 L375 555.1 L379 555 L383 554.9 L387 554.8 L391 554.7 L395 554.6 L399 554.5 L403 554.4 L407 554.3 L411 554.1 L415 554 L419 553.8 L423 553.7 L427 553.5 L431 553.3 L435 553.2 L439 553 L443 552.8 L447 552.6 L451 552.3 L455 552.1 L459 551.9 L463 551.6 L467 551.4 L471 551.1 L475 550.8 L479 550.5 L483 550.2 L487 549.9 L491 549.5 L495 549.2 L499 548.8 L503 548.4 L507 548 L511 547.6 L515 547.1 L519 546.7 L523 546.2 L527 545.7 L531 545.2 L535 544.7 L539 544.2 L543 543.6 L547 543 L551 542.4 L555 541.8 L559 541.1 L563 540.4 L567 539.7 L571 539 L575 538.3 L579 537.5 L583 536.7 L587 535.9 L591 535 L595 534.1 L599 533.2 L603 532.3 L607 531.3 L611 530.3 L615 529.3 L619 528.2 L623 527.2 L627 526 L631 524.9 L635 523.7 L639 522.5 L643 521.3 L647 520 L651 518.7 L655 517.3 L659 515.9 L663 514.5 L667 513 L671 511.6 L675 510 L679 508.5 L683 506.9 L687 505.2 L691 503.5 L695 501.8 L699 500.1 L703 498.3 L707 496.4 L711 494.6 L715 492.7 L719 490.7 L723 488.7 L727 486.7 L731 484.6 L735 482.5 L739 480.4 L743 478.2 L747 476 L751 473.7 L755 471.5 L759 469.1 L763 466.8 L767 464.4 L771 461.9 L775 459.5 L779 457 L783 454.4 L787 451.8 L791 449.2 L795 446.6 L799 443.9 L803 441.2 L807 438.5 L811 435.7 L815 432.9 L819 430.1 L823 427.3 L827 424.4 L831 421.5 L835 418.6 L839 415.7 L843 412.8 L847 409.8 L851 406.9 L855 403.9 L859 400.9 L863 398 L867 395 L871 392.1 L875 389.1 L879 386.2 L883 383.2 L887 380.3 L891 377.4 L895 374.6 L899 371.7 L903 368.9 L907 366.1 L911 363.3 L915 360.6 L919 357.9 L923 355.3 L927 352.7 L931 350.2 L935 347.7 L939 345.3 L943 342.9 L947 340.6 L951 338.4 L955 336.3 L959 334.2 L963 332.2 L967 330.2 L971 328.4 L975 326.6 L979 325 L983 323.4 L987 321.9 L991 320.5 L995 319.2 L999 318 L1003 316.9 L1007 315.9 L1011 315 L1015 314.2 L1019 313.5 L1023 312.9 L1027 312.5 L1031 312.1 L1035 311.8 L1039 311.7 L1043 311.6 L1047 311.7 L1051 311.8 L1055 312.1 L1059 312.4 L1063 312.9 L1067 313.4 L1071 314.1 L1075 314.8 L1079 315.6 L1083 316.5 L1087 317.5 L1091 318.5 L1095 319.7 L1099 320.8 L1103 322.1 L1107 323.4 L1111 324.8 L1115 326.2 L1119 327.6 L1123 329.1 L1127 330.6 L1131 332.1 L1135 333.7 L1139 335.2 L1143 336.8 L1147 338.3 L1151 339.8 L1155 341.3 L1159 342.7 L1163 344.1 L1167 345.5 L1171 346.8 L1175 348 L1179 349.1 L1183 350.2 L1187 351.1 L1191 351.9 L1195 352.7 L1199 353.2 L1203 353.7 L1207 353.9 L1211 354.1 L1215 354 L1219 353.8 L1223 353.4 L1227 352.8 L1231 352 L1235 351 L1239 349.8 L1243 348.4 L1247 346.7 L1251 344.8 L1255 342.7 L1259 340.4 L1263 337.8 L1267 334.9 L1271 331.9 L1275 328.6 L1279 325 L1283 321.3 L1287 317.3 L1291 313 L1295 308.6 L1299 304 L1303 299.1 L1307 294.1 L1311 288.9 L1315 283.6 L1319 278 L1323 272.4 L1327 266.6 L1331 260.8 L1335 254.8 L1339 248.8 L1343 242.7 L1347 236.6 L1351 230.5 L1355 224.4 L1359 218.4 L1363 212.4 L1367 206.6 L1371 200.8 L1375 195.2 L1379 189.7 L1383 184.4 L1387 179.3 L1391 174.5 L1395 169.9 L1399 165.5 L1403 161.5 L1407 157.8 L1411 154.5 L1415 151.5 L1419 148.8 L1423 146.6 L1427 144.8 L1431 143.4 L1435 142.4 L1439 141.9 L1443 141.8 L1447 142.2 L1451 143 L1455 144.4 L1459 146.2 L1463 148.5 L1467 151.2 L1471 154.5 L1475 158.2 L1479 162.3 L1483 166.9 L1487 171.9 L1491 177.3 L1495 183.1 L1499 189.3 L1503 195.8 L1507 202.6 L1511 209.7 L1515 217.1 L1519 224.8 L1523 232.7 L1527 240.8 L1531 249 L1535 257.5 L1539 266 L1543 274.6 L1547 283.4 L1551 292.2 L1555 301 L1559 309.8 L1563 318.6 L1567 327.4 L1571 336.1 L1575 344.8 L1579 353.3 L1583 361.8 L1587 370.1 L1591 378.3 L1595 386.3 L1599 394.2 L1603 401.9 L1607 409.4 L1611 416.7 L1615 423.8 L1619 430.7 L1623 437.3 L1627 443.8 L1631 450 L1635 456 L1639 461.8 L1643 467.3 L1647 472.6 L1651 477.7 L1655 482.6 L1659 487.2 L1663 491.6 L1667 495.8 L1671 499.8 L1675 503.6 L1679 507.2 L1683 510.5 L1687 513.7 L1691 516.7 L1695 519.6 L1699 522.2 L1703 524.7 L1707 527 L1711 529.2 L1715 531.3 L1719 533.2 L1723 534.9 L1727 536.6 L1731 538.1 L1735 539.6 L1739 540.9 L1743 542.1 L1747 543.2 L1751 544.3 L1755 545.2 L1759 546.1 L1763 546.9 L1767 547.7 L1771 548.4 L1775 549 L1779 549.6 L1783 550.1 L1787 550.6 L1791 551 L1795 551.4 L1799 551.8 L1803 552.1 L1807 552.4 L1811 552.7 L1815 553 L1819 553.2 L1823 553.4 L1827 553.6 L1831 553.8 L1835 554 L1839 554.1 L1843 554.2 L1847 554.4 L1851 554.5 L1855 554.6 L1859 554.7 L1863 554.7 L1867 554.8 L1871 554.9 L1875 555 L1879 555 L1883 555.1" fill="none" stroke="#000" stroke-width="2.5"/>
<path d="M167.8 554.1 l4.7 0 l-4.7 8.3 l-4.7 -8.3 z M188.5 554.1 l4.7 0 l-4.7 8.3 l-4.7 -8.3 z M209.2 554.1 l4.7 0 l-4.7 8.3 l-4.7 -8.3 z M229.9 554 l4.7 0 l-4.7 8.3 l-4.7 -8.3 z M250.6 554 l4.7 0 l-4.7 8.3 l-4.7 -8.3 z M271.4 553.9 l4.7 0 l-4.7 8.3 l-4.7 -8.3 z M292.1 553.8 l4.7 0 l-4.7 8.3 l-4.7 -8.3 z M312.8 553.6 l4.7 0 l-4.7 8.3 l-4.7 -8.3 z M333.5 553.4 l4.7 0 l-4.7 8.3 l-4.7 -8.3 z M354.2 553.1 l4.7 0 l-4.7 8.3 l-4.7 -8.3 z M374.9 552.7 l4.7 0 l-4.7 8.3 l-4.7 -8.3 z M395.6 552.2 l4.7 0 l-4.7 8.3 l-4.7 -8.3 z M416.3 551.5 l4.7 0 l-4.7 8.3 l-4.7 -8.3 z M437 550.7 l4.7 0 l-4.7 8.3 l-4.7 -8.3 z M457.7 549.5 l4.7 0 l-4.7 8.3 l-4.7 -8.3 z M478.5 548.1 l4.7 0 l-4.7 8.3 l-4.7 -8.3 z M499.2 546.4 l4.7 0 l-4.7 8.3 l-4.7 -8.3 z M519.9 544.2 l4.7 0 l-4.7 8.3 l-4.7 -8.3 z M540.6 541.5 l4.7 0 l-4.7 8.3 l-4.7 -8.3 z M561.3 538.3 l4.7 0 l-4.7 8.3 l-4.7 -8.3 z M582 534.5 l4.7 0 l-4.7 8.3 l-4.7 -8.3 z M602.7 530 l4.7 0 l-4.7 8.3 l-4.7 -8.3 z M623.4 524.6 l4.7 0 l-4.7 8.3 l-4.7 -8.3 z M644.1 518.5 l4.7 0 l-4.7 8.3 l-4.7 -8.3 z M664.8 511.4 l4.7 0 l-4.7 8.3 l-4.7 -8.3 z M685.5 503.4 l4.7 0 l-4.7 8.3 l-4.7 -8.3 z M706.3 494.4 l4.7 0 l-4.7 8.3 l-4.7 -8.3 z M727 484.3 l4.7 0 l-4.7 8.3 l-4.7 -8.3 z M747.7 473.2 l4.7 0 l-4.7 8.3 l-4.7 -8.3 z M768.4 461.1 l4.7 0 l-4.7 8.3 l-4.7 -8.3 z M789.1 448.1 l4.7 0 l-4.7 8.3 l-4.7 -8.3 z M809.8 434.1 l4.7 0 l-4.7 8.3 l-4.7 -8.3 z M830.5 419.5 l4.7 0 l-4.7 8.3 l-4.7 -8.3 z M851.2 404.3 l4.7 0 l-4.7 8.3 l-4.7 -8.3 z M871.9 389 l4.7 0 l-4.7 8.3 l-4.7 -8.3 z M892.7 373.8 l4.7 0 l-4.7 8.3 l-4.7 -8.3 z M913.4 359.3 l4.7 0 l-4.7 8.3 l-4.7 -8.3 z M934.1 345.9 l4.7 0 l-4.7 8.3 l-4.7 -8.3 z M954.8 334 l4.7 0 l-4.7 8.3 l-4.7 -8.3 z M975.5 324 l4.7 0 l-4.7 8.3 l-4.7 -8.3 z M996.2 316.4 l4.7 0 l-4.7 8.3 l-4.7 -8.3 z M1016.9 311.5 l4.7 0 l-4.7 8.3 l-4.7 -8.3 z M1037.6 309.3 l4.7 0 l-4.7 8.3 l-4.7 -8.3 z M1058.3 310 l4.7 0 l-4.7 8.3 l-4.7 -8.3 z M1079 313.2 l4.7 0 l-4.7 8.3 l-4.7 -8.3 z M1099.8 318.7 l4.7 0 l-4.7 8.3 l-4.7 -8.3 z M1120.5 325.7 l4.7 0 l-4.7 8.3 l-4.7 -8.3 z M1141.2 333.6 l4.7 0 l-4.7 8.3 l-4.7 -8.3 z M1161.9 341.4 l4.7 0 l-4.7 8.3 l-4.7 -8.3 z M1182.6 347.7 l4.7 0 l-4.7 8.3 l-4.7 -8.3 z M1203.3 351.3 l4.7 0 l-4.7 8.3 l-4.7 -8.3 z M1224 350.9 l4.7 0 l-4.7 8.3 l-4.7 -8.3 z M1244.7 345.3 l4.7 0 l-4.7 8.3 l-4.7 -8.3 z M1265.4 333.7 l4.7 0 l-4.7 8.3 l-4.7 -8.3 z M1286.1 315.7 l4.7 0 l-4.7 8.3 l-4.7 -8.3 z M1306.8 291.9 l4.7 0 l-4.7 8.3 l-4.7 -8.3 z M1327.6 263.4 l4.7 0 l-4.7 8.3 l-4.7 -8.3 z M1348.3 232.3 l4.7 0 l-4.7 8.3 l-4.7 -8.3 z M1369 201.3 l4.7 0 l-4.7 8.3 l-4.7 -8.3 z M1389.7 173.6 l4.7 0 l-4.7 8.3 l-4.7 -8.3 z M1410.4 152.5 l4.7 0 l-4.7 8.3 l-4.7 -8.3 z M1431.1 141 l4.7 0 l-4.7 8.3 l-4.7 -8.3 z M1451.8 140.9 l4.7 0 l-4.7 8.3 l-4.7 -8.3 z M1472.5 153.4 l4.7 0 l-4.7 8.3 l-4.7 -8.3 z M1493.2 178.1 l4.7 0 l-4.7 8.3 l-4.7 -8.3 z M1514 212.8 l4.7 0 l-4.7 8.3 l-4.7 -8.3 z M1534.7 254.3 l4.7 0 l-4.7 8.3 l-4.7 -8.3 z M1555.4 299.4 l4.7 0 l-4.7 8.3 l-4.7 -8.3 z M1576.1 344.7 l4.7 0 l-4.7 8.3 l-4.7 -8.3 z M1596.8 387.5 l4.7 0 l-4.7 8.3 l-4.7 -8.3 z M1617.5 425.7 l4.7 0 l-4.7 8.3 l-4.7 -8.3 z M1638.2 458.3 l4.7 0 l-4.7 8.3 l-4.7 -8.3 z M1658.9 484.7 l4.7 0 l-4.7 8.3 l-4.7 -8.3 z M1679.6 505.3 l4.7 0 l-4.7 8.3 l-4.7 -8.3 z M1700.3 520.7 l4.7 0 l-4.7 8.3 l-4.7 -8.3 z M1721 531.7 l4.7 0 l-4.7 8.3 l-4.7 -8.3 z M1741.8 539.3 l4.7 0 l-4.7 8.3 l-4.7 -8.3 z M1762.5 544.4 l4.7 0 l-4.7 8.3 l-4.7 -8.3 z M1783.2 547.7 l4.7 0 l-4.7 8.3 l-4.7 -8.3 z M1803.9 549.8 l4.7 0 l-4.7 8.3 l-4.7 -8.3 z M1824.6 551.1 l4.7 0 l-4.7 8.3 l-4.7 -8.3 z M1845.3 551.9 l4.7 0 l-4.7 8.3 l-4.7 -8.3 z M1866 552.4 l4.7 0 l-4.7 8.3 l-4.7 -8.3 z" fill="#fff" stroke="#000" stroke-width="1.9" stroke-linejoin="miter"/>
</g>
<path d="M163 1561 V38 H1883 V1561" fill="none" stroke="#000" stroke-width="6.2" stroke-linejoin="miter"/>
<rect x="159.9" y="34.8" width="1726.4" height="8" fill="#000"/>
<rect x="157" y="1548.9" width="1730" height="2.9" fill="#000"/>
<g clip-path="url(#cpb4)">
<path d="M132.6 3724.3 H1894" stroke="#0000ff" stroke-width="12"/>
<path d="M132.6 3723.2 L138.6 3723.2 L144.6 3723.2 L150.6 3723.2 L156.6 3723.2 L162.6 3723.2 L168.6 3723.2 L174.6 3723.2 L180.6 3723.2 L186.6 3723.2 L192.6 3723.2 L198.6 3723.2 L204.6 3723.2 L210.6 3723.2 L216.6 3723.2 L222.6 3723.2 L228.6 3723.2 L234.6 3723.2 L240.6 3723.2 L246.6 3723.2 L252.6 3723.1 L258.6 3723.1 L264.6 3723.1 L270.6 3723.1 L276.6 3723.1 L282.6 3723.1 L288.6 3723.1 L294.6 3723.1 L300.6 3723.1 L306.6 3723.1 L312.6 3723.1 L318.6 3723.1 L324.6 3723.1 L330.6 3723.1 L336.6 3723.1 L342.6 3723.1 L348.6 3723.1 L354.6 3723.1 L360.6 3723.1 L366.6 3723.1 L372.6 3723.1 L378.6 3723.1 L384.6 3723.1 L390.6 3723.1 L396.6 3723.1 L402.6 3723.1 L408.6 3723.1 L414.6 3723.1 L420.6 3723.1 L426.6 3723.1 L432.6 3723.1 L438.6 3723.1 L444.6 3723.1 L450.6 3723.1 L456.6 3723.1 L462.6 3723.1 L468.6 3723.1 L474.6 3723.1 L480.6 3723.1 L486.6 3723.1 L492.6 3723 L498.6 3723 L504.6 3723 L510.6 3723 L516.6 3723 L522.6 3723 L528.6 3723 L534.6 3723 L540.6 3723 L546.6 3723 L552.6 3723 L558.6 3723 L564.6 3723 L570.6 3723 L576.6 3723 L582.6 3723 L588.6 3723 L594.6 3723 L600.6 3723 L606.6 3723 L612.6 3723 L618.6 3723 L624.6 3722.9 L630.6 3722.9 L636.6 3722.9 L642.6 3722.9 L648.6 3722.9 L654.6 3722.9 L660.6 3722.9 L666.6 3722.9 L672.6 3722.9 L678.6 3722.9 L684.6 3722.9 L690.6 3722.9 L696.6 3722.9 L702.6 3722.9 L708.6 3722.8 L714.6 3722.8 L720.6 3722.8 L726.6 3722.8 L732.6 3722.8 L738.6 3722.8 L744.6 3722.8 L750.6 3722.8 L756.6 3722.8 L762.6 3722.7 L768.6 3722.7 L774.6 3722.7 L780.6 3722.7 L786.6 3722.7 L792.6 3722.7 L798.6 3722.7 L804.6 3722.7 L810.6 3722.6 L816.6 3722.6 L822.6 3722.6 L828.6 3722.6 L834.6 3722.6 L840.6 3722.6 L846.6 3722.5 L852.6 3722.5 L858.6 3722.5 L864.6 3722.5 L870.6 3722.5 L876.6 3722.4 L882.6 3722.4 L888.6 3722.4 L894.6 3722.4 L900.6 3722.3 L906.6 3722.3 L912.6 3722.3 L918.6 3722.2 L924.6 3722.2 L930.6 3722.2 L936.6 3722.1 L942.6 3722.1 L948.6 3722 L954.6 3722 L960.6 3721.9 L966.6 3721.8 L972.6 3721.8 L978.6 3721.7 L984.6 3721.6 L990.6 3721.4 L996.6 3721.3 L1002.6 3721.1 L1008.6 3720.9 L1014.6 3720.6 L1020.6 3720.3 L1026.6 3719.9 L1032.6 3719.5 L1038.6 3718.9 L1044.6 3718.3 L1050.6 3717.5 L1056.6 3716.6 L1062.6 3715.6 L1068.6 3714.3 L1074.6 3712.8 L1080.6 3711.1 L1086.6 3709.2 L1092.6 3706.9 L1098.6 3704.2 L1104.6 3701.2 L1110.6 3697.8 L1116.6 3693.9 L1122.6 3689.5 L1128.6 3684.5 L1134.6 3679 L1140.6 3672.9 L1146.6 3666.2 L1152.6 3658.8 L1158.6 3650.7 L1164.6 3642 L1170.6 3632.6 L1176.6 3622.5 L1182.6 3611.8 L1188.6 3600.5 L1194.6 3588.7 L1200.6 3576.3 L1206.6 3563.6 L1212.6 3550.5 L1218.6 3537.1 L1224.6 3523.7 L1230.6 3510.2 L1236.6 3496.9 L1242.6 3483.9 L1248.6 3471.2 L1254.6 3459.1 L1260.6 3447.8 L1266.6 3437.2 L1272.6 3427.7 L1278.6 3419.3 L1284.6 3412.2 L1290.6 3406.4 L1296.6 3402 L1302.6 3399.2 L1308.6 3397.9 L1314.6 3398.2 L1320.6 3400 L1326.6 3403.3 L1332.6 3408.1 L1338.6 3414.3 L1344.6 3421.8 L1350.6 3430.5 L1356.6 3440.2 L1362.6 3450.9 L1368.6 3462.4 L1374.6 3474.5 L1380.6 3487.1 L1386.6 3500.2 L1392.6 3513.4 L1398.6 3526.7 L1404.6 3540 L1410.6 3553.2 L1416.6 3566.1 L1422.6 3578.7 L1428.6 3590.8 L1434.6 3602.5 L1440.6 3613.6 L1446.6 3624.1 L1452.6 3633.9 L1458.6 3643.2 L1464.6 3651.7 L1470.6 3659.6 L1476.6 3666.9 L1482.6 3673.5 L1488.6 3679.5 L1494.6 3684.9 L1500.6 3689.7 L1506.6 3694.1 L1512.6 3697.9 L1518.6 3701.3 L1524.6 3704.3 L1530.6 3706.9 L1536.6 3709.2 L1542.6 3711.1 L1548.6 3712.8 L1554.6 3714.3 L1560.6 3715.5 L1566.6 3716.6 L1572.6 3717.5 L1578.6 3718.2 L1584.6 3718.9 L1590.6 3719.4 L1596.6 3719.9 L1602.6 3720.2 L1608.6 3720.6 L1614.6 3720.8 L1620.6 3721.1 L1626.6 3721.2 L1632.6 3721.4 L1638.6 3721.5 L1644.6 3721.6 L1650.6 3721.7 L1656.6 3721.8 L1662.6 3721.9 L1668.6 3722 L1674.6 3722 L1680.6 3722.1 L1686.6 3722.1 L1692.6 3722.2 L1698.6 3722.2 L1704.6 3722.2 L1710.6 3722.3 L1716.6 3722.3 L1722.6 3722.3 L1728.6 3722.4 L1734.6 3722.4 L1740.6 3722.4 L1746.6 3722.4 L1752.6 3722.5 L1758.6 3722.5 L1764.6 3722.5 L1770.6 3722.5 L1776.6 3722.5 L1782.6 3722.6 L1788.6 3722.6 L1794.6 3722.6 L1800.6 3722.6 L1806.6 3722.6 L1812.6 3722.6 L1818.6 3722.7 L1824.6 3722.7 L1830.6 3722.7 L1836.6 3722.7 L1842.6 3722.7 L1848.6 3722.7 L1854.6 3722.7 L1860.6 3722.7 L1866.6 3722.8 L1872.6 3722.8 L1878.6 3722.8 L1884.6 3722.8 L1890.6 3722.8 L1894 3722.8" fill="none" stroke="#0000ff" stroke-width="12" stroke-linejoin="round"/>
<path d="M132.6 3723.2 L138.6 3723.2 L144.6 3723.2 L150.6 3723.2 L156.6 3723.2 L162.6 3723.2 L168.6 3723.2 L174.6 3723.2 L180.6 3723.2 L186.6 3723.2 L192.6 3723.2 L198.6 3723.2 L204.6 3723.2 L210.6 3723.2 L216.6 3723.2 L222.6 3723.2 L228.6 3723.2 L234.6 3723.2 L240.6 3723.2 L246.6 3723.2 L252.6 3723.2 L258.6 3723.2 L264.6 3723.2 L270.6 3723.2 L276.6 3723.2 L282.6 3723.2 L288.6 3723.2 L294.6 3723.2 L300.6 3723.2 L306.6 3723.2 L312.6 3723.2 L318.6 3723.2 L324.6 3723.2 L330.6 3723.2 L336.6 3723.2 L342.6 3723.2 L348.6 3723.2 L354.6 3723.2 L360.6 3723.2 L366.6 3723.2 L372.6 3723.2 L378.6 3723.2 L384.6 3723.2 L390.6 3723.2 L396.6 3723.2 L402.6 3723.2 L408.6 3723.2 L414.6 3723.2 L420.6 3723.2 L426.6 3723.2 L432.6 3723.2 L438.6 3723.2 L444.6 3723.2 L450.6 3723.2 L456.6 3723.2 L462.6 3723.2 L468.6 3723.2 L474.6 3723.2 L480.6 3723.2 L486.6 3723.2 L492.6 3723.2 L498.6 3723.2 L504.6 3723.2 L510.6 3723.2 L516.6 3723.2 L522.6 3723.2 L528.6 3723.2 L534.6 3723.2 L540.6 3723.2 L546.6 3723.2 L552.6 3723.2 L558.6 3723.2 L564.6 3723.2 L570.6 3723.2 L576.6 3723.2 L582.6 3723.2 L588.6 3723.2 L594.6 3723.2 L600.6 3723.2 L606.6 3723.2 L612.6 3723.2 L618.6 3723.1 L624.6 3723.1 L630.6 3723.1 L636.6 3723.1 L642.6 3723.1 L648.6 3723.1 L654.6 3723.1 L660.6 3723.1 L666.6 3723.1 L672.6 3723.1 L678.6 3723.1 L684.6 3723.1 L690.6 3723.1 L696.6 3723.1 L702.6 3723.1 L708.6 3723.1 L714.6 3723.1 L720.6 3723.1 L726.6 3723.1 L732.6 3723.1 L738.6 3723.1 L744.6 3723.1 L750.6 3723.1 L756.6 3723.1 L762.6 3723.1 L768.6 3723.1 L774.6 3723.1 L780.6 3723.1 L786.6 3723.1 L792.6 3723.1 L798.6 3723.1 L804.6 3723.1 L810.6 3723.1 L816.6 3723.1 L822.6 3723 L828.6 3723 L834.6 3723 L840.6 3723 L846.6 3723 L852.6 3723 L858.6 3723 L864.6 3723 L870.6 3723 L876.6 3723 L882.6 3723 L888.6 3723 L894.6 3723 L900.6 3723 L906.6 3723 L912.6 3723 L918.6 3723 L924.6 3723 L930.6 3723 L936.6 3722.9 L942.6 3722.9 L948.6 3722.9 L954.6 3722.9 L960.6 3722.9 L966.6 3722.9 L972.6 3722.9 L978.6 3722.9 L984.6 3722.9 L990.6 3722.9 L996.6 3722.9 L1002.6 3722.9 L1008.6 3722.8 L1014.6 3722.8 L1020.6 3722.8 L1026.6 3722.8 L1032.6 3722.8 L1038.6 3722.8 L1044.6 3722.8 L1050.6 3722.8 L1056.6 3722.7 L1062.6 3722.7 L1068.6 3722.7 L1074.6 3722.7 L1080.6 3722.7 L1086.6 3722.7 L1092.6 3722.7 L1098.6 3722.6 L1104.6 3722.6 L1110.6 3722.6 L1116.6 3722.6 L1122.6 3722.6 L1128.6 3722.5 L1134.6 3722.5 L1140.6 3722.5 L1146.6 3722.5 L1152.6 3722.4 L1158.6 3722.4 L1164.6 3722.4 L1170.6 3722.4 L1176.6 3722.3 L1182.6 3722.3 L1188.6 3722.3 L1194.6 3722.2 L1200.6 3722.2 L1206.6 3722.1 L1212.6 3722.1 L1218.6 3722 L1224.6 3722 L1230.6 3721.9 L1236.6 3721.9 L1242.6 3721.8 L1248.6 3721.7 L1254.6 3721.7 L1260.6 3721.6 L1266.6 3721.5 L1272.6 3721.3 L1278.6 3721.2 L1284.6 3721 L1290.6 3720.9 L1296.6 3720.7 L1302.6 3720.4 L1308.6 3720.1 L1314.6 3719.8 L1320.6 3719.4 L1326.6 3719 L1332.6 3718.5 L1338.6 3717.9 L1344.6 3717.3 L1350.6 3716.5 L1356.6 3715.7 L1362.6 3714.7 L1368.6 3713.6 L1374.6 3712.4 L1380.6 3711 L1386.6 3709.5 L1392.6 3707.9 L1398.6 3706.1 L1404.6 3704.1 L1410.6 3702 L1416.6 3699.8 L1422.6 3697.4 L1428.6 3694.9 L1434.6 3692.3 L1440.6 3689.5 L1446.6 3686.8 L1452.6 3684 L1458.6 3681.1 L1464.6 3678.4 L1470.6 3675.6 L1476.6 3673 L1482.6 3670.5 L1488.6 3668.3 L1494.6 3666.3 L1500.6 3664.5 L1506.6 3663.1 L1512.6 3662.1 L1518.6 3661.5 L1524.6 3661.3 L1530.6 3661.6 L1536.6 3662.3 L1542.6 3663.5 L1548.6 3665.1 L1554.6 3667.1 L1560.6 3669.4 L1566.6 3672 L1572.6 3674.7 L1578.6 3677.6 L1584.6 3680.6 L1590.6 3683.7 L1596.6 3686.7 L1602.6 3689.7 L1608.6 3692.6 L1614.6 3695.4 L1620.6 3698.1 L1626.6 3700.6 L1632.6 3703 L1638.6 3705.1 L1644.6 3707.2 L1650.6 3709 L1656.6 3710.7 L1662.6 3712.2 L1668.6 3713.5 L1674.6 3714.7 L1680.6 3715.7 L1686.6 3716.6 L1692.6 3717.4 L1698.6 3718.1 L1704.6 3718.7 L1710.6 3719.2 L1716.6 3719.7 L1722.6 3720 L1728.6 3720.3 L1734.6 3720.6 L1740.6 3720.8 L1746.6 3721 L1752.6 3721.2 L1758.6 3721.4 L1764.6 3721.5 L1770.6 3721.6 L1776.6 3721.7 L1782.6 3721.8 L1788.6 3721.8 L1794.6 3721.9 L1800.6 3722 L1806.6 3722 L1812.6 3722.1 L1818.6 3722.1 L1824.6 3722.2 L1830.6 3722.2 L1836.6 3722.3 L1842.6 3722.3 L1848.6 3722.3 L1854.6 3722.4 L1860.6 3722.4 L1866.6 3722.4 L1872.6 3722.5 L1878.6 3722.5 L1884.6 3722.5 L1890.6 3722.5 L1894 3722.5" fill="none" stroke="#0000ff" stroke-width="12" stroke-linejoin="round"/>
<path d="M132.6 3723.4 L138.6 3723.4 L144.6 3723.4 L150.6 3723.4 L156.6 3723.4 L162.6 3723.4 L168.6 3723.4 L174.6 3723.4 L180.6 3723.4 L186.6 3723.4 L192.6 3723.4 L198.6 3723.4 L204.6 3723.4 L210.6 3723.4 L216.6 3723.4 L222.6 3723.3 L228.6 3723.3 L234.6 3723.3 L240.6 3723.3 L246.6 3723.3 L252.6 3723.3 L258.6 3723.3 L264.6 3723.3 L270.6 3723.3 L276.6 3723.3 L282.6 3723.3 L288.6 3723.3 L294.6 3723.3 L300.6 3723.3 L306.6 3723.3 L312.6 3723.2 L318.6 3723.2 L324.6 3723.2 L330.6 3723.2 L336.6 3723.2 L342.6 3723.2 L348.6 3723.2 L354.6 3723.2 L360.6 3723.2 L366.6 3723.2 L372.6 3723.2 L378.6 3723.1 L384.6 3723.1 L390.6 3723.1 L396.6 3723.1 L402.6 3723.1 L408.6 3723.1 L414.6 3723.1 L420.6 3723.1 L426.6 3723.1 L432.6 3723 L438.6 3723 L444.6 3723 L450.6 3723 L456.6 3723 L462.6 3723 L468.6 3723 L474.6 3723 L480.6 3722.9 L486.6 3722.9 L492.6 3722.9 L498.6 3722.9 L504.6 3722.9 L510.6 3722.9 L516.6 3722.8 L522.6 3722.8 L528.6 3722.8 L534.6 3722.8 L540.6 3722.8 L546.6 3722.7 L552.6 3722.7 L558.6 3722.7 L564.6 3722.6 L570.6 3722.6 L576.6 3722.6 L582.6 3722.6 L588.6 3722.5 L594.6 3722.5 L600.6 3722.4 L606.6 3722.4 L612.6 3722.3 L618.6 3722.3 L624.6 3722.2 L630.6 3722.1 L636.6 3722.1 L642.6 3722 L648.6 3721.9 L654.6 3721.8 L660.6 3721.6 L666.6 3721.5 L672.6 3721.3 L678.6 3721.2 L684.6 3721 L690.6 3720.7 L696.6 3720.5 L702.6 3720.2 L708.6 3719.9 L714.6 3719.5 L720.6 3719.2 L726.6 3718.7 L732.6 3718.2 L738.6 3717.7 L744.6 3717.1 L750.6 3716.4 L756.6 3715.6 L762.6 3714.8 L768.6 3713.8 L774.6 3712.8 L780.6 3711.6 L786.6 3710.4 L792.6 3709 L798.6 3707.5 L804.6 3705.8 L810.6 3704 L816.6 3702 L822.6 3699.9 L828.6 3697.5 L834.6 3695 L840.6 3692.2 L846.6 3689.3 L852.6 3686.1 L858.6 3682.7 L864.6 3679 L870.6 3675.1 L876.6 3670.9 L882.6 3666.5 L888.6 3661.8 L894.6 3656.8 L900.6 3651.6 L906.6 3646.1 L912.6 3640.3 L918.6 3634.2 L924.6 3627.9 L930.6 3621.3 L936.6 3614.4 L942.6 3607.3 L948.6 3600 L954.6 3592.5 L960.6 3584.8 L966.6 3576.9 L972.6 3568.8 L978.6 3560.7 L984.6 3552.4 L990.6 3544 L996.6 3535.6 L1002.6 3527.2 L1008.6 3518.9 L1014.6 3510.5 L1020.6 3502.3 L1026.6 3494.2 L1032.6 3486.3 L1038.6 3478.6 L1044.6 3471.1 L1050.6 3464 L1056.6 3457.1 L1062.6 3450.7 L1068.6 3444.6 L1074.6 3439 L1080.6 3433.8 L1086.6 3429.1 L1092.6 3425 L1098.6 3421.5 L1104.6 3418.5 L1110.6 3416.1 L1116.6 3414.4 L1122.6 3413.3 L1128.6 3412.8 L1134.6 3413 L1140.6 3413.8 L1146.6 3415.2 L1152.6 3417.2 L1158.6 3419.8 L1164.6 3423 L1170.6 3426.8 L1176.6 3431.1 L1182.6 3435.9 L1188.6 3441.2 L1194.6 3446.9 L1200.6 3453.1 L1206.6 3459.6 L1212.6 3466.5 L1218.6 3473.7 L1224.6 3481.1 L1230.6 3488.8 L1236.6 3496.7 L1242.6 3504.7 L1248.6 3512.9 L1254.6 3521.1 L1260.6 3529.4 L1266.6 3537.7 L1272.6 3546 L1278.6 3554.2 L1284.6 3562.4 L1290.6 3570.4 L1296.6 3578.4 L1302.6 3586.1 L1308.6 3593.7 L1314.6 3601.1 L1320.6 3608.3 L1326.6 3615.3 L1332.6 3622 L1338.6 3628.5 L1344.6 3634.7 L1350.6 3640.7 L1356.6 3646.4 L1362.6 3651.8 L1368.6 3657 L1374.6 3661.9 L1380.6 3666.5 L1386.6 3670.9 L1392.6 3675 L1398.6 3678.9 L1404.6 3682.5 L1410.6 3685.9 L1416.6 3689.1 L1422.6 3692 L1428.6 3694.7 L1434.6 3697.3 L1440.6 3699.6 L1446.6 3701.7 L1452.6 3703.7 L1458.6 3705.5 L1464.6 3707.2 L1470.6 3708.7 L1476.6 3710.1 L1482.6 3711.4 L1488.6 3712.6 L1494.6 3713.6 L1500.6 3714.5 L1506.6 3715.4 L1512.6 3716.2 L1518.6 3716.9 L1524.6 3717.5 L1530.6 3718.1 L1536.6 3718.6 L1542.6 3719 L1548.6 3719.4 L1554.6 3719.8 L1560.6 3720.1 L1566.6 3720.4 L1572.6 3720.6 L1578.6 3720.9 L1584.6 3721.1 L1590.6 3721.3 L1596.6 3721.4 L1602.6 3721.6 L1608.6 3721.7 L1614.6 3721.8 L1620.6 3721.9 L1626.6 3722 L1632.6 3722.1 L1638.6 3722.2 L1644.6 3722.2 L1650.6 3722.3 L1656.6 3722.4 L1662.6 3722.4 L1668.6 3722.4 L1674.6 3722.5 L1680.6 3722.5 L1686.6 3722.6 L1692.6 3722.6 L1698.6 3722.6 L1704.6 3722.7 L1710.6 3722.7 L1716.6 3722.7 L1722.6 3722.7 L1728.6 3722.8 L1734.6 3722.8 L1740.6 3722.8 L1746.6 3722.8 L1752.6 3722.8 L1758.6 3722.9 L1764.6 3722.9 L1770.6 3722.9 L1776.6 3722.9 L1782.6 3722.9 L1788.6 3722.9 L1794.6 3723 L1800.6 3723 L1806.6 3723 L1812.6 3723 L1818.6 3723 L1824.6 3723 L1830.6 3723 L1836.6 3723.1 L1842.6 3723.1 L1848.6 3723.1 L1854.6 3723.1 L1860.6 3723.1 L1866.6 3723.1 L1872.6 3723.1 L1878.6 3723.1 L1884.6 3723.1 L1890.6 3723.1 L1894 3723.2" fill="none" stroke="#00ff00" stroke-width="11" stroke-linejoin="round"/>
<path d="M132.6 3723.7 L138.6 3723.7 L144.6 3723.6 L150.6 3723.6 L156.6 3723.6 L162.6 3723.6 L168.6 3723.6 L174.6 3723.6 L180.6 3723.6 L186.6 3723.6 L192.6 3723.6 L198.6 3723.6 L204.6 3723.6 L210.6 3723.6 L216.6 3723.6 L222.6 3723.6 L228.6 3723.6 L234.6 3723.6 L240.6 3723.6 L246.6 3723.6 L252.6 3723.6 L258.6 3723.6 L264.6 3723.6 L270.6 3723.6 L276.6 3723.5 L282.6 3723.5 L288.6 3723.5 L294.6 3723.5 L300.6 3723.5 L306.6 3723.5 L312.6 3723.5 L318.6 3723.4 L324.6 3723.4 L330.6 3723.4 L336.6 3723.4 L342.6 3723.3 L348.6 3723.3 L354.6 3723.3 L360.6 3723.2 L366.6 3723.2 L372.6 3723.1 L378.6 3723.1 L384.6 3723 L390.6 3722.9 L396.6 3722.9 L402.6 3722.8 L408.6 3722.7 L414.6 3722.6 L420.6 3722.4 L426.6 3722.3 L432.6 3722.2 L438.6 3722 L444.6 3721.8 L450.6 3721.6 L456.6 3721.4 L462.6 3721.2 L468.6 3720.9 L474.6 3720.6 L480.6 3720.3 L486.6 3720 L492.6 3719.6 L498.6 3719.2 L504.6 3718.8 L510.6 3718.3 L516.6 3717.8 L522.6 3717.3 L528.6 3716.7 L534.6 3716.1 L540.6 3715.4 L546.6 3714.7 L552.6 3714 L558.6 3713.2 L564.6 3712.4 L570.6 3711.5 L576.6 3710.6 L582.6 3709.6 L588.6 3708.6 L594.6 3707.6 L600.6 3706.5 L606.6 3705.4 L612.6 3704.2 L618.6 3703 L624.6 3701.7 L630.6 3700.4 L636.6 3699.1 L642.6 3697.8 L648.6 3696.4 L654.6 3695.1 L660.6 3693.7 L666.6 3692.2 L672.6 3690.8 L678.6 3689.4 L684.6 3688 L690.6 3686.6 L696.6 3685.2 L702.6 3683.9 L708.6 3682.5 L714.6 3681.2 L720.6 3680 L726.6 3678.8 L732.6 3677.6 L738.6 3676.5 L744.6 3675.5 L750.6 3674.5 L756.6 3673.6 L762.6 3672.8 L768.6 3672.1 L774.6 3671.5 L780.6 3671 L786.6 3670.5 L792.6 3670.2 L798.6 3670 L804.6 3669.8 L810.6 3669.8 L816.6 3669.9 L822.6 3670 L828.6 3670.3 L834.6 3670.6 L840.6 3671.1 L846.6 3671.6 L852.6 3672.2 L858.6 3672.9 L864.6 3673.7 L870.6 3674.5 L876.6 3675.4 L882.6 3676.4 L888.6 3677.4 L894.6 3678.5 L900.6 3679.7 L906.6 3680.8 L912.6 3682 L918.6 3683.3 L924.6 3684.6 L930.6 3685.9 L936.6 3687.2 L942.6 3688.5 L948.6 3689.9 L954.6 3691.2 L960.6 3692.5 L966.6 3693.9 L972.6 3695.2 L978.6 3696.5 L984.6 3697.8 L990.6 3699.1 L996.6 3700.3 L1002.6 3701.5 L1008.6 3702.7 L1014.6 3703.9 L1020.6 3705 L1026.6 3706.1 L1032.6 3707.1 L1038.6 3708.1 L1044.6 3709.1 L1050.6 3710 L1056.6 3710.9 L1062.6 3711.8 L1068.6 3712.6 L1074.6 3713.4 L1080.6 3714.1 L1086.6 3714.8 L1092.6 3715.5 L1098.6 3716.1 L1104.6 3716.7 L1110.6 3717.2 L1116.6 3717.7 L1122.6 3718.2 L1128.6 3718.6 L1134.6 3719.1 L1140.6 3719.4 L1146.6 3719.8 L1152.6 3720.1 L1158.6 3720.4 L1164.6 3720.7 L1170.6 3721 L1176.6 3721.2 L1182.6 3721.5 L1188.6 3721.7 L1194.6 3721.8 L1200.6 3722 L1206.6 3722.2 L1212.6 3722.3 L1218.6 3722.4 L1224.6 3722.6 L1230.6 3722.7 L1236.6 3722.8 L1242.6 3722.8 L1248.6 3722.9 L1254.6 3723 L1260.6 3723.1 L1266.6 3723.1 L1272.6 3723.2 L1278.6 3723.2 L1284.6 3723.3 L1290.6 3723.3 L1296.6 3723.3 L1302.6 3723.4 L1308.6 3723.4 L1314.6 3723.4 L1320.6 3723.4 L1326.6 3723.4 L1332.6 3723.5 L1338.6 3723.5 L1344.6 3723.5 L1350.6 3723.5 L1356.6 3723.5 L1362.6 3723.5 L1368.6 3723.5 L1374.6 3723.5 L1380.6 3723.6 L1386.6 3723.6 L1392.6 3723.6 L1398.6 3723.6 L1404.6 3723.6 L1410.6 3723.6 L1416.6 3723.6 L1422.6 3723.6 L1428.6 3723.6 L1434.6 3723.6 L1440.6 3723.6 L1446.6 3723.6 L1452.6 3723.6 L1458.6 3723.6 L1464.6 3723.6 L1470.6 3723.6 L1476.6 3723.6 L1482.6 3723.6 L1488.6 3723.6 L1494.6 3723.6 L1500.6 3723.6 L1506.6 3723.6 L1512.6 3723.6 L1518.6 3723.7 L1524.6 3723.7 L1530.6 3723.7 L1536.6 3723.7 L1542.6 3723.7 L1548.6 3723.7 L1554.6 3723.7 L1560.6 3723.7 L1566.6 3723.7 L1572.6 3723.7 L1578.6 3723.7 L1584.6 3723.7 L1590.6 3723.7 L1596.6 3723.7 L1602.6 3723.7 L1608.6 3723.7 L1614.6 3723.7 L1620.6 3723.7 L1626.6 3723.7 L1632.6 3723.7 L1638.6 3723.7 L1644.6 3723.7 L1650.6 3723.7 L1656.6 3723.7 L1662.6 3723.7 L1668.6 3723.7 L1674.6 3723.7 L1680.6 3723.7 L1686.6 3723.7 L1691 3723.7" fill="none" stroke="#ff8080" stroke-width="10.7" stroke-linejoin="round"/>
<rect x="129.5" y="3722.6" width="1767.6" height="5.2" fill="#000"/>
<path d="M132.6 3723.1 L136.6 3723.1 L140.6 3723.1 L144.6 3723.1 L148.6 3723.1 L152.6 3723.1 L156.6 3723.1 L160.6 3723 L164.6 3723 L168.6 3723 L172.6 3723 L176.6 3723 L180.6 3723 L184.6 3723 L188.6 3723 L192.6 3723 L196.6 3723 L200.6 3723 L204.6 3723 L208.6 3723 L212.6 3723 L216.6 3722.9 L220.6 3722.9 L224.6 3722.9 L228.6 3722.9 L232.6 3722.9 L236.6 3722.9 L240.6 3722.9 L244.6 3722.9 L248.6 3722.9 L252.6 3722.9 L256.6 3722.9 L260.6 3722.8 L264.6 3722.8 L268.6 3722.8 L272.6 3722.8 L276.6 3722.8 L280.6 3722.8 L284.6 3722.8 L288.6 3722.8 L292.6 3722.7 L296.6 3722.7 L300.6 3722.7 L304.6 3722.7 L308.6 3722.7 L312.6 3722.7 L316.6 3722.6 L320.6 3722.6 L324.6 3722.6 L328.6 3722.6 L332.6 3722.5 L336.6 3722.5 L340.6 3722.5 L344.6 3722.5 L348.6 3722.4 L352.6 3722.4 L356.6 3722.4 L360.6 3722.3 L364.6 3722.3 L368.6 3722.3 L372.6 3722.2 L376.6 3722.2 L380.6 3722.1 L384.6 3722.1 L388.6 3722 L392.6 3721.9 L396.6 3721.9 L400.6 3721.8 L404.6 3721.7 L408.6 3721.7 L412.6 3721.6 L416.6 3721.5 L420.6 3721.4 L424.6 3721.3 L428.6 3721.2 L432.6 3721.1 L436.6 3721 L440.6 3720.8 L444.6 3720.7 L448.6 3720.6 L452.6 3720.4 L456.6 3720.3 L460.6 3720.1 L464.6 3719.9 L468.6 3719.7 L472.6 3719.5 L476.6 3719.3 L480.6 3719.1 L484.6 3718.8 L488.6 3718.6 L492.6 3718.3 L496.6 3718.1 L500.6 3717.8 L504.6 3717.5 L508.6 3717.1 L512.6 3716.8 L516.6 3716.4 L520.6 3716.1 L524.6 3715.7 L528.6 3715.3 L532.6 3714.9 L536.6 3714.4 L540.6 3714 L544.6 3713.5 L548.6 3713 L552.6 3712.5 L556.6 3711.9 L560.6 3711.4 L564.6 3710.8 L568.6 3710.2 L572.6 3709.6 L576.6 3708.9 L580.6 3708.3 L584.6 3707.6 L588.6 3706.9 L592.6 3706.2 L596.6 3705.4 L600.6 3704.6 L604.6 3703.9 L608.6 3703 L612.6 3702.2 L616.6 3701.4 L620.6 3700.5 L624.6 3699.6 L628.6 3698.7 L632.6 3697.8 L636.6 3696.9 L640.6 3695.9 L644.6 3694.9 L648.6 3694 L652.6 3693 L656.6 3692 L660.6 3690.9 L664.6 3689.9 L668.6 3688.8 L672.6 3687.8 L676.6 3686.7 L680.6 3685.7 L684.6 3684.6 L688.6 3683.5 L692.6 3682.4 L696.6 3681.3 L700.6 3680.2 L704.6 3679.1 L708.6 3678 L712.6 3676.9 L716.6 3675.8 L720.6 3674.7 L724.6 3673.6 L728.6 3672.5 L732.6 3671.3 L736.6 3670.2 L740.6 3669.1 L744.6 3668 L748.6 3666.9 L752.6 3665.8 L756.6 3664.7 L760.6 3663.6 L764.6 3662.5 L768.6 3661.4 L772.6 3660.3 L776.6 3659.1 L780.6 3658 L784.6 3656.9 L788.6 3655.7 L792.6 3654.6 L796.6 3653.4 L800.6 3652.2 L804.6 3651 L808.6 3649.7 L812.6 3648.5 L816.6 3647.2 L820.6 3645.8 L824.6 3644.5 L828.6 3643.1 L832.6 3641.6 L836.6 3640.1 L840.6 3638.5 L844.6 3636.9 L848.6 3635.2 L852.6 3633.5 L856.6 3631.6 L860.6 3629.8 L864.6 3627.8 L868.6 3625.7 L872.6 3623.6 L876.6 3621.4 L880.6 3619.1 L884.6 3616.7 L888.6 3614.2 L892.6 3611.6 L896.6 3608.9 L900.6 3606.1 L904.6 3603.3 L908.6 3600.3 L912.6 3597.2 L916.6 3593.9 L920.6 3590.6 L924.6 3587.2 L928.6 3583.7 L932.6 3580 L936.6 3576.3 L940.6 3572.4 L944.6 3568.5 L948.6 3564.5 L952.6 3560.3 L956.6 3556.1 L960.6 3551.8 L964.6 3547.3 L968.6 3542.9 L972.6 3538.3 L976.6 3533.7 L980.6 3529 L984.6 3524.2 L988.6 3519.4 L992.6 3514.6 L996.6 3509.7 L1000.6 3504.8 L1004.6 3499.8 L1008.6 3494.9 L1012.6 3489.9 L1016.6 3485 L1020.6 3480 L1024.6 3475.1 L1028.6 3470.2 L1032.6 3465.3 L1036.6 3460.4 L1040.6 3455.6 L1044.6 3450.9 L1048.6 3446.2 L1052.6 3441.6 L1056.6 3437 L1060.6 3432.5 L1064.6 3428.1 L1068.6 3423.8 L1072.6 3419.6 L1076.6 3415.4 L1080.6 3411.3 L1084.6 3407.3 L1088.6 3403.4 L1092.6 3399.6 L1096.6 3395.9 L1100.6 3392.2 L1104.6 3388.6 L1108.6 3385.1 L1112.6 3381.6 L1116.6 3378.2 L1120.6 3374.8 L1124.6 3371.4 L1128.6 3368.1 L1132.6 3364.8 L1136.6 3361.5 L1140.6 3358.2 L1144.6 3354.9 L1148.6 3351.6 L1152.6 3348.2 L1156.6 3344.8 L1160.6 3341.3 L1164.6 3337.8 L1168.6 3334.2 L1172.6 3330.5 L1176.6 3326.8 L1180.6 3323 L1184.6 3319.2 L1188.6 3315.3 L1192.6 3311.3 L1196.6 3307.3 L1200.6 3303.2 L1204.6 3299.2 L1208.6 3295.1 L1212.6 3291 L1216.6 3286.9 L1220.6 3282.9 L1224.6 3279 L1228.6 3275.2 L1232.6 3271.4 L1236.6 3267.9 L1240.6 3264.5 L1244.6 3261.3 L1248.6 3258.4 L1252.6 3255.7 L1256.6 3253.4 L1260.6 3251.4 L1264.6 3249.8 L1268.6 3248.6 L1272.6 3247.8 L1276.6 3247.5 L1280.6 3247.7 L1284.6 3248.4 L1288.6 3249.7 L1292.6 3251.5 L1296.6 3253.9 L1300.6 3256.9 L1304.6 3260.5 L1308.6 3264.7 L1312.6 3269.5 L1316.6 3274.8 L1320.6 3280.8 L1324.6 3287.2 L1328.6 3294.2 L1332.6 3301.7 L1336.6 3309.7 L1340.6 3318.1 L1344.6 3326.9 L1348.6 3336.1 L1352.6 3345.6 L1356.6 3355.4 L1360.6 3365.4 L1364.6 3375.7 L1368.6 3386.1 L1372.6 3396.6 L1376.6 3407.2 L1380.6 3417.9 L1384.6 3428.5 L1388.6 3439 L1392.6 3449.5 L1396.6 3459.8 L1400.6 3469.9 L1404.6 3479.9 L1408.6 3489.6 L1412.6 3499 L1416.6 3508.1 L1420.6 3517 L1424.6 3525.5 L1428.6 3533.6 L1432.6 3541.4 L1436.6 3548.9 L1440.6 3555.9 L1444.6 3562.6 L1448.6 3568.9 L1452.6 3574.8 L1456.6 3580.4 L1460.6 3585.6 L1464.6 3590.5 L1468.6 3595.1 L1472.6 3599.3 L1476.6 3603.2 L1480.6 3606.9 L1484.6 3610.3 L1488.6 3613.6 L1492.6 3616.6 L1496.6 3619.4 L1500.6 3622.1 L1504.6 3624.6 L1508.6 3627.1 L1512.6 3629.5 L1516.6 3631.8 L1520.6 3634.1 L1524.6 3636.3 L1528.6 3638.6 L1532.6 3640.9 L1536.6 3643.3 L1540.6 3645.7 L1544.6 3648.1 L1548.6 3650.6 L1552.6 3653.1 L1556.6 3655.7 L1560.6 3658.3 L1564.6 3660.9 L1568.6 3663.5 L1572.6 3666.1 L1576.6 3668.7 L1580.6 3671.3 L1584.6 3673.9 L1588.6 3676.4 L1592.6 3678.8 L1596.6 3681.3 L1600.6 3683.6 L1604.6 3685.9 L1608.6 3688.1 L1612.6 3690.3 L1616.6 3692.3 L1620.6 3694.3 L1624.6 3696.2 L1628.6 3698 L1632.6 3699.7 L1636.6 3701.4 L1640.6 3702.9 L1644.6 3704.3 L1648.6 3705.7 L1652.6 3707 L1656.6 3708.1 L1660.6 3709.3 L1664.6 3710.3 L1668.6 3711.2 L1672.6 3712.1 L1676.6 3712.9 L1680.6 3713.6 L1684.6 3714.3 L1688.6 3714.9 L1692.6 3715.5 L1696.6 3716 L1700.6 3716.5 L1704.6 3716.9 L1708.6 3717.3 L1712.6 3717.7 L1716.6 3718 L1720.6 3718.3 L1724.6 3718.5 L1728.6 3718.8 L1732.6 3719 L1736.6 3719.2 L1740.6 3719.4 L1744.6 3719.5 L1748.6 3719.7 L1752.6 3719.8 L1756.6 3719.9 L1760.6 3720.1 L1764.6 3720.2 L1768.6 3720.3 L1772.6 3720.4 L1776.6 3720.4 L1780.6 3720.5 L1784.6 3720.6 L1788.6 3720.7 L1792.6 3720.7 L1796.6 3720.8 L1800.6 3720.9 L1804.6 3720.9 L1808.6 3721 L1812.6 3721 L1816.6 3721.1 L1820.6 3721.1 L1824.6 3721.2 L1828.6 3721.2 L1832.6 3721.3 L1836.6 3721.3 L1840.6 3721.4 L1844.6 3721.4 L1848.6 3721.5 L1852.6 3721.5 L1856.6 3721.5 L1860.6 3721.6 L1864.6 3721.6 L1868.6 3721.6 L1872.6 3721.7 L1876.6 3721.7 L1880.6 3721.7 L1884.6 3721.8 L1888.6 3721.8 L1892.6 3721.8 L1894 3721.8" fill="none" stroke="#000" stroke-width="3.1"/>
<path d="M134.9 3716.9 l5.1 6.2 l-5.1 6.2 l-5.1 -6.2 z M152.5 3716.9 l5.1 6.2 l-5.1 6.2 l-5.1 -6.2 z M170.2 3716.8 l5.1 6.2 l-5.1 6.2 l-5.1 -6.2 z M187.8 3716.8 l5.1 6.2 l-5.1 6.2 l-5.1 -6.2 z M205.4 3716.8 l5.1 6.2 l-5.1 6.2 l-5.1 -6.2 z M223.1 3716.7 l5.1 6.2 l-5.1 6.2 l-5.1 -6.2 z M240.7 3716.7 l5.1 6.2 l-5.1 6.2 l-5.1 -6.2 z M258.3 3716.6 l5.1 6.2 l-5.1 6.2 l-5.1 -6.2 z M275.9 3716.6 l5.1 6.2 l-5.1 6.2 l-5.1 -6.2 z M293.6 3716.5 l5.1 6.2 l-5.1 6.2 l-5.1 -6.2 z M311.2 3716.5 l5.1 6.2 l-5.1 6.2 l-5.1 -6.2 z M328.8 3716.4 l5.1 6.2 l-5.1 6.2 l-5.1 -6.2 z M346.5 3716.3 l5.1 6.2 l-5.1 6.2 l-5.1 -6.2 z M364.1 3716.1 l5.1 6.2 l-5.1 6.2 l-5.1 -6.2 z M381.7 3715.9 l5.1 6.2 l-5.1 6.2 l-5.1 -6.2 z M399.4 3715.6 l5.1 6.2 l-5.1 6.2 l-5.1 -6.2 z M417 3715.3 l5.1 6.2 l-5.1 6.2 l-5.1 -6.2 z M434.6 3714.8 l5.1 6.2 l-5.1 6.2 l-5.1 -6.2 z M452.2 3714.2 l5.1 6.2 l-5.1 6.2 l-5.1 -6.2 z M469.9 3713.5 l5.1 6.2 l-5.1 6.2 l-5.1 -6.2 z M487.5 3712.5 l5.1 6.2 l-5.1 6.2 l-5.1 -6.2 z M505.1 3711.2 l5.1 6.2 l-5.1 6.2 l-5.1 -6.2 z M522.8 3709.7 l5.1 6.2 l-5.1 6.2 l-5.1 -6.2 z M540.4 3707.8 l5.1 6.2 l-5.1 6.2 l-5.1 -6.2 z M558 3705.5 l5.1 6.2 l-5.1 6.2 l-5.1 -6.2 z M575.6 3702.9 l5.1 6.2 l-5.1 6.2 l-5.1 -6.2 z M593.3 3699.8 l5.1 6.2 l-5.1 6.2 l-5.1 -6.2 z M610.9 3696.4 l5.1 6.2 l-5.1 6.2 l-5.1 -6.2 z M628.5 3692.5 l5.1 6.2 l-5.1 6.2 l-5.1 -6.2 z M646.2 3688.4 l5.1 6.2 l-5.1 6.2 l-5.1 -6.2 z M663.8 3683.9 l5.1 6.2 l-5.1 6.2 l-5.1 -6.2 z M681.4 3679.2 l5.1 6.2 l-5.1 6.2 l-5.1 -6.2 z M699.1 3674.4 l5.1 6.2 l-5.1 6.2 l-5.1 -6.2 z M716.7 3669.6 l5.1 6.2 l-5.1 6.2 l-5.1 -6.2 z M734.3 3664.7 l5.1 6.2 l-5.1 6.2 l-5.1 -6.2 z M751.9 3659.8 l5.1 6.2 l-5.1 6.2 l-5.1 -6.2 z M769.6 3654.9 l5.1 6.2 l-5.1 6.2 l-5.1 -6.2 z M787.2 3649.9 l5.1 6.2 l-5.1 6.2 l-5.1 -6.2 z M804.8 3644.7 l5.1 6.2 l-5.1 6.2 l-5.1 -6.2 z M822.5 3639 l5.1 6.2 l-5.1 6.2 l-5.1 -6.2 z M840.1 3632.5 l5.1 6.2 l-5.1 6.2 l-5.1 -6.2 z M857.7 3624.9 l5.1 6.2 l-5.1 6.2 l-5.1 -6.2 z M875.4 3615.9 l5.1 6.2 l-5.1 6.2 l-5.1 -6.2 z M893 3605.2 l5.1 6.2 l-5.1 6.2 l-5.1 -6.2 z M910.6 3592.5 l5.1 6.2 l-5.1 6.2 l-5.1 -6.2 z M928.2 3577.8 l5.1 6.2 l-5.1 6.2 l-5.1 -6.2 z M945.9 3561 l5.1 6.2 l-5.1 6.2 l-5.1 -6.2 z M963.5 3542.4 l5.1 6.2 l-5.1 6.2 l-5.1 -6.2 z M981.1 3522.1 l5.1 6.2 l-5.1 6.2 l-5.1 -6.2 z M998.8 3500.8 l5.1 6.2 l-5.1 6.2 l-5.1 -6.2 z M1016.4 3479 l5.1 6.2 l-5.1 6.2 l-5.1 -6.2 z M1034 3457.3 l5.1 6.2 l-5.1 6.2 l-5.1 -6.2 z M1051.7 3436.5 l5.1 6.2 l-5.1 6.2 l-5.1 -6.2 z M1069.3 3416.9 l5.1 6.2 l-5.1 6.2 l-5.1 -6.2 z M1086.9 3398.9 l5.1 6.2 l-5.1 6.2 l-5.1 -6.2 z M1104.5 3382.4 l5.1 6.2 l-5.1 6.2 l-5.1 -6.2 z M1122.2 3367.3 l5.1 6.2 l-5.1 6.2 l-5.1 -6.2 z M1139.8 3352.7 l5.1 6.2 l-5.1 6.2 l-5.1 -6.2 z M1157.4 3337.8 l5.1 6.2 l-5.1 6.2 l-5.1 -6.2 z M1175.1 3322 l5.1 6.2 l-5.1 6.2 l-5.1 -6.2 z M1192.7 3305 l5.1 6.2 l-5.1 6.2 l-5.1 -6.2 z M1210.3 3287.1 l5.1 6.2 l-5.1 6.2 l-5.1 -6.2 z M1228 3269.6 l5.1 6.2 l-5.1 6.2 l-5.1 -6.2 z M1245.6 3254.4 l5.1 6.2 l-5.1 6.2 l-5.1 -6.2 z M1263.2 3244.1 l5.1 6.2 l-5.1 6.2 l-5.1 -6.2 z M1280.9 3241.6 l5.1 6.2 l-5.1 6.2 l-5.1 -6.2 z M1298.5 3249.1 l5.1 6.2 l-5.1 6.2 l-5.1 -6.2 z M1316.1 3268 l5.1 6.2 l-5.1 6.2 l-5.1 -6.2 z M1333.7 3297.7 l5.1 6.2 l-5.1 6.2 l-5.1 -6.2 z M1351.4 3336.4 l5.1 6.2 l-5.1 6.2 l-5.1 -6.2 z M1369 3381 l5.1 6.2 l-5.1 6.2 l-5.1 -6.2 z M1386.6 3427.6 l5.1 6.2 l-5.1 6.2 l-5.1 -6.2 z M1404.3 3472.8 l5.1 6.2 l-5.1 6.2 l-5.1 -6.2 z M1421.9 3513.6 l5.1 6.2 l-5.1 6.2 l-5.1 -6.2 z M1439.5 3547.9 l5.1 6.2 l-5.1 6.2 l-5.1 -6.2 z M1457.2 3575 l5.1 6.2 l-5.1 6.2 l-5.1 -6.2 z M1474.8 3595.3 l5.1 6.2 l-5.1 6.2 l-5.1 -6.2 z M1492.4 3610.2 l5.1 6.2 l-5.1 6.2 l-5.1 -6.2 z M1510 3621.7 l5.1 6.2 l-5.1 6.2 l-5.1 -6.2 z M1527.7 3631.9 l5.1 6.2 l-5.1 6.2 l-5.1 -6.2 z M1545.3 3642.3 l5.1 6.2 l-5.1 6.2 l-5.1 -6.2 z M1562.9 3653.6 l5.1 6.2 l-5.1 6.2 l-5.1 -6.2 z M1580.6 3665.1 l5.1 6.2 l-5.1 6.2 l-5.1 -6.2 z M1598.2 3676 l5.1 6.2 l-5.1 6.2 l-5.1 -6.2 z M1615.8 3685.7 l5.1 6.2 l-5.1 6.2 l-5.1 -6.2 z M1633.5 3693.9 l5.1 6.2 l-5.1 6.2 l-5.1 -6.2 z M1651.1 3700.3 l5.1 6.2 l-5.1 6.2 l-5.1 -6.2 z M1668.7 3705 l5.1 6.2 l-5.1 6.2 l-5.1 -6.2 z M1686.3 3708.4 l5.1 6.2 l-5.1 6.2 l-5.1 -6.2 z M1704 3710.6 l5.1 6.2 l-5.1 6.2 l-5.1 -6.2 z M1721.6 3712.1 l5.1 6.2 l-5.1 6.2 l-5.1 -6.2 z M1739.2 3713.1 l5.1 6.2 l-5.1 6.2 l-5.1 -6.2 z M1756.9 3713.7 l5.1 6.2 l-5.1 6.2 l-5.1 -6.2 z M1774.5 3714.2 l5.1 6.2 l-5.1 6.2 l-5.1 -6.2 z M1792.1 3714.5 l5.1 6.2 l-5.1 6.2 l-5.1 -6.2 z M1809.8 3714.8 l5.1 6.2 l-5.1 6.2 l-5.1 -6.2 z M1827.4 3715 l5.1 6.2 l-5.1 6.2 l-5.1 -6.2 z M1845 3715.2 l5.1 6.2 l-5.1 6.2 l-5.1 -6.2 z M1862.6 3715.4 l5.1 6.2 l-5.1 6.2 l-5.1 -6.2 z M1880.3 3715.5 l5.1 6.2 l-5.1 6.2 l-5.1 -6.2 z" fill="#fff" stroke="#000" stroke-width="2.1" stroke-linejoin="miter"/>
</g>
<g clip-path="url(#cpb3)">
<path d="M132.6 3247.3 H1894" stroke="#0000ff" stroke-width="12"/>
<path d="M132.6 3246.2 L138.6 3246.2 L144.6 3246.2 L150.6 3246.2 L156.6 3246.2 L162.6 3246.2 L168.6 3246.2 L174.6 3246.2 L180.6 3246.2 L186.6 3246.2 L192.6 3246.2 L198.6 3246.2 L204.6 3246.2 L210.6 3246.2 L216.6 3246.2 L222.6 3246.2 L228.6 3246.2 L234.6 3246.2 L240.6 3246.2 L246.6 3246.2 L252.6 3246.2 L258.6 3246.2 L264.6 3246.2 L270.6 3246.2 L276.6 3246.2 L282.6 3246.1 L288.6 3246.1 L294.6 3246.1 L300.6 3246.1 L306.6 3246.1 L312.6 3246.1 L318.6 3246.1 L324.6 3246.1 L330.6 3246.1 L336.6 3246.1 L342.6 3246.1 L348.6 3246.1 L354.6 3246.1 L360.6 3246.1 L366.6 3246.1 L372.6 3246.1 L378.6 3246.1 L384.6 3246.1 L390.6 3246.1 L396.6 3246.1 L402.6 3246.1 L408.6 3246.1 L414.6 3246.1 L420.6 3246.1 L426.6 3246.1 L432.6 3246.1 L438.6 3246.1 L444.6 3246.1 L450.6 3246.1 L456.6 3246.1 L462.6 3246.1 L468.6 3246.1 L474.6 3246.1 L480.6 3246.1 L486.6 3246.1 L492.6 3246.1 L498.6 3246.1 L504.6 3246.1 L510.6 3246.1 L516.6 3246 L522.6 3246 L528.6 3246 L534.6 3246 L540.6 3246 L546.6 3246 L552.6 3246 L558.6 3246 L564.6 3246 L570.6 3246 L576.6 3246 L582.6 3246 L588.6 3246 L594.6 3246 L600.6 3246 L606.6 3246 L612.6 3246 L618.6 3246 L624.6 3246 L630.6 3246 L636.6 3246 L642.6 3245.9 L648.6 3245.9 L654.6 3245.9 L660.6 3245.9 L666.6 3245.9 L672.6 3245.9 L678.6 3245.9 L684.6 3245.9 L690.6 3245.9 L696.6 3245.9 L702.6 3245.9 L708.6 3245.9 L714.6 3245.9 L720.6 3245.9 L726.6 3245.8 L732.6 3245.8 L738.6 3245.8 L744.6 3245.8 L750.6 3245.8 L756.6 3245.8 L762.6 3245.8 L768.6 3245.8 L774.6 3245.8 L780.6 3245.7 L786.6 3245.7 L792.6 3245.7 L798.6 3245.7 L804.6 3245.7 L810.6 3245.7 L816.6 3245.7 L822.6 3245.7 L828.6 3245.6 L834.6 3245.6 L840.6 3245.6 L846.6 3245.6 L852.6 3245.6 L858.6 3245.6 L864.6 3245.5 L870.6 3245.5 L876.6 3245.5 L882.6 3245.5 L888.6 3245.4 L894.6 3245.4 L900.6 3245.4 L906.6 3245.4 L912.6 3245.3 L918.6 3245.3 L924.6 3245.3 L930.6 3245.2 L936.6 3245.2 L942.6 3245.1 L948.6 3245.1 L954.6 3245 L960.6 3245 L966.6 3244.9 L972.6 3244.8 L978.6 3244.7 L984.6 3244.6 L990.6 3244.5 L996.6 3244.3 L1002.6 3244.1 L1008.6 3243.9 L1014.6 3243.6 L1020.6 3243.3 L1026.6 3242.9 L1032.6 3242.4 L1038.6 3241.8 L1044.6 3241.2 L1050.6 3240.4 L1056.6 3239.5 L1062.6 3238.4 L1068.6 3237.2 L1074.6 3235.7 L1080.6 3234 L1086.6 3232 L1092.6 3229.7 L1098.6 3227.1 L1104.6 3224.2 L1110.6 3220.8 L1116.6 3217.1 L1122.6 3212.8 L1128.6 3208.1 L1134.6 3202.8 L1140.6 3197 L1146.6 3190.7 L1152.6 3183.7 L1158.6 3176.2 L1164.6 3168 L1170.6 3159.3 L1176.6 3150 L1182.6 3140.2 L1188.6 3129.8 L1194.6 3119 L1200.6 3107.7 L1206.6 3096.2 L1212.6 3084.3 L1218.6 3072.3 L1224.6 3060.2 L1230.6 3048.2 L1236.6 3036.3 L1242.6 3024.8 L1248.6 3013.6 L1254.6 3002.9 L1260.6 2992.9 L1266.6 2983.7 L1272.6 2975.5 L1278.6 2968.2 L1284.6 2962.1 L1290.6 2957.1 L1296.6 2953.5 L1302.6 2951.2 L1308.6 2950.3 L1314.6 2950.8 L1320.6 2952.6 L1326.6 2955.7 L1332.6 2960.1 L1338.6 2965.6 L1344.6 2972.3 L1350.6 2980.1 L1356.6 2988.7 L1362.6 2998.2 L1368.6 3008.3 L1374.6 3019 L1380.6 3030.2 L1386.6 3041.7 L1392.6 3053.5 L1398.6 3065.3 L1404.6 3077.1 L1410.6 3088.9 L1416.6 3100.4 L1422.6 3111.6 L1428.6 3122.5 L1434.6 3133 L1440.6 3143.1 L1446.6 3152.6 L1452.6 3161.6 L1458.6 3170 L1464.6 3177.8 L1470.6 3185.1 L1476.6 3191.8 L1482.6 3198 L1488.6 3203.6 L1494.6 3208.7 L1500.6 3213.3 L1506.6 3217.4 L1512.6 3221.1 L1518.6 3224.3 L1524.6 3227.2 L1530.6 3229.8 L1536.6 3232 L1542.6 3233.9 L1548.6 3235.6 L1554.6 3237.1 L1560.6 3238.3 L1566.6 3239.4 L1572.6 3240.3 L1578.6 3241.1 L1584.6 3241.7 L1590.6 3242.3 L1596.6 3242.8 L1602.6 3243.2 L1608.6 3243.5 L1614.6 3243.8 L1620.6 3244 L1626.6 3244.2 L1632.6 3244.4 L1638.6 3244.6 L1644.6 3244.7 L1650.6 3244.8 L1656.6 3244.9 L1662.6 3244.9 L1668.6 3245 L1674.6 3245.1 L1680.6 3245.1 L1686.6 3245.2 L1692.6 3245.2 L1698.6 3245.3 L1704.6 3245.3 L1710.6 3245.3 L1716.6 3245.4 L1722.6 3245.4 L1728.6 3245.4 L1734.6 3245.4 L1740.6 3245.5 L1746.6 3245.5 L1752.6 3245.5 L1758.6 3245.5 L1764.6 3245.5 L1770.6 3245.6 L1776.6 3245.6 L1782.6 3245.6 L1788.6 3245.6 L1794.6 3245.6 L1800.6 3245.6 L1806.6 3245.7 L1812.6 3245.7 L1818.6 3245.7 L1824.6 3245.7 L1830.6 3245.7 L1836.6 3245.7 L1842.6 3245.7 L1848.6 3245.7 L1854.6 3245.8 L1860.6 3245.8 L1866.6 3245.8 L1872.6 3245.8 L1878.6 3245.8 L1884.6 3245.8 L1890.6 3245.8 L1894 3245.8" fill="none" stroke="#0000ff" stroke-width="12" stroke-linejoin="round"/>
<path d="M132.6 3246.2 L138.6 3246.2 L144.6 3246.2 L150.6 3246.2 L156.6 3246.2 L162.6 3246.2 L168.6 3246.2 L174.6 3246.2 L180.6 3246.2 L186.6 3246.2 L192.6 3246.2 L198.6 3246.2 L204.6 3246.2 L210.6 3246.2 L216.6 3246.2 L222.6 3246.2 L228.6 3246.2 L234.6 3246.2 L240.6 3246.2 L246.6 3246.2 L252.6 3246.2 L258.6 3246.2 L264.6 3246.2 L270.6 3246.2 L276.6 3246.2 L282.6 3246.2 L288.6 3246.2 L294.6 3246.2 L300.6 3246.2 L306.6 3246.2 L312.6 3246.2 L318.6 3246.2 L324.6 3246.2 L330.6 3246.2 L336.6 3246.2 L342.6 3246.2 L348.6 3246.2 L354.6 3246.2 L360.6 3246.2 L366.6 3246.2 L372.6 3246.2 L378.6 3246.2 L384.6 3246.2 L390.6 3246.2 L396.6 3246.2 L402.6 3246.2 L408.6 3246.2 L414.6 3246.2 L420.6 3246.1 L426.6 3246.1 L432.6 3246.1 L438.6 3246.1 L444.6 3246.1 L450.6 3246.1 L456.6 3246.1 L462.6 3246.1 L468.6 3246.1 L474.6 3246.1 L480.6 3246.1 L486.6 3246.1 L492.6 3246.1 L498.6 3246.1 L504.6 3246.1 L510.6 3246.1 L516.6 3246.1 L522.6 3246.1 L528.6 3246.1 L534.6 3246.1 L540.6 3246.1 L546.6 3246.1 L552.6 3246.1 L558.6 3246.1 L564.6 3246.1 L570.6 3246.1 L576.6 3246.1 L582.6 3246.1 L588.6 3246.1 L594.6 3246.1 L600.6 3246.1 L606.6 3246.1 L612.6 3246.1 L618.6 3246.1 L624.6 3246.1 L630.6 3246.1 L636.6 3246.1 L642.6 3246.1 L648.6 3246.1 L654.6 3246.1 L660.6 3246.1 L666.6 3246 L672.6 3246 L678.6 3246 L684.6 3246 L690.6 3246 L696.6 3246 L702.6 3246 L708.6 3246 L714.6 3246 L720.6 3246 L726.6 3246 L732.6 3246 L738.6 3246 L744.6 3246 L750.6 3246 L756.6 3246 L762.6 3246 L768.6 3246 L774.6 3246 L780.6 3246 L786.6 3246 L792.6 3246 L798.6 3245.9 L804.6 3245.9 L810.6 3245.9 L816.6 3245.9 L822.6 3245.9 L828.6 3245.9 L834.6 3245.9 L840.6 3245.9 L846.6 3245.9 L852.6 3245.9 L858.6 3245.9 L864.6 3245.9 L870.6 3245.9 L876.6 3245.9 L882.6 3245.8 L888.6 3245.8 L894.6 3245.8 L900.6 3245.8 L906.6 3245.8 L912.6 3245.8 L918.6 3245.8 L924.6 3245.8 L930.6 3245.8 L936.6 3245.8 L942.6 3245.8 L948.6 3245.7 L954.6 3245.7 L960.6 3245.7 L966.6 3245.7 L972.6 3245.7 L978.6 3245.7 L984.6 3245.7 L990.6 3245.6 L996.6 3245.6 L1002.6 3245.6 L1008.6 3245.6 L1014.6 3245.6 L1020.6 3245.6 L1026.6 3245.6 L1032.6 3245.5 L1038.6 3245.5 L1044.6 3245.5 L1050.6 3245.5 L1056.6 3245.5 L1062.6 3245.4 L1068.6 3245.4 L1074.6 3245.4 L1080.6 3245.4 L1086.6 3245.3 L1092.6 3245.3 L1098.6 3245.3 L1104.6 3245.2 L1110.6 3245.2 L1116.6 3245.2 L1122.6 3245.1 L1128.6 3245.1 L1134.6 3245.1 L1140.6 3245 L1146.6 3245 L1152.6 3244.9 L1158.6 3244.9 L1164.6 3244.8 L1170.6 3244.8 L1176.6 3244.7 L1182.6 3244.6 L1188.6 3244.5 L1194.6 3244.4 L1200.6 3244.3 L1206.6 3244.2 L1212.6 3244 L1218.6 3243.9 L1224.6 3243.7 L1230.6 3243.5 L1236.6 3243.2 L1242.6 3243 L1248.6 3242.7 L1254.6 3242.3 L1260.6 3241.9 L1266.6 3241.4 L1272.6 3240.9 L1278.6 3240.3 L1284.6 3239.7 L1290.6 3239 L1296.6 3238.1 L1302.6 3237.2 L1308.6 3236.2 L1314.6 3235.1 L1320.6 3233.8 L1326.6 3232.5 L1332.6 3231 L1338.6 3229.4 L1344.6 3227.6 L1350.6 3225.8 L1356.6 3223.8 L1362.6 3221.6 L1368.6 3219.3 L1374.6 3216.9 L1380.6 3214.4 L1386.6 3211.8 L1392.6 3209.1 L1398.6 3206.3 L1404.6 3203.5 L1410.6 3200.6 L1416.6 3197.6 L1422.6 3194.7 L1428.6 3191.8 L1434.6 3189 L1440.6 3186.2 L1446.6 3183.5 L1452.6 3181 L1458.6 3178.7 L1464.6 3176.6 L1470.6 3174.7 L1476.6 3173.1 L1482.6 3171.7 L1488.6 3170.7 L1494.6 3170 L1500.6 3169.7 L1506.6 3169.8 L1512.6 3170.2 L1518.6 3171 L1524.6 3172.1 L1530.6 3173.6 L1536.6 3175.3 L1542.6 3177.4 L1548.6 3179.6 L1554.6 3182.1 L1560.6 3184.8 L1566.6 3187.6 L1572.6 3190.5 L1578.6 3193.4 L1584.6 3196.4 L1590.6 3199.4 L1596.6 3202.4 L1602.6 3205.4 L1608.6 3208.3 L1614.6 3211.1 L1620.6 3213.8 L1626.6 3216.4 L1632.6 3218.9 L1638.6 3221.3 L1644.6 3223.5 L1650.6 3225.6 L1656.6 3227.5 L1662.6 3229.3 L1668.6 3231 L1674.6 3232.5 L1680.6 3233.9 L1686.6 3235.2 L1692.6 3236.3 L1698.6 3237.3 L1704.6 3238.3 L1710.6 3239.1 L1716.6 3239.8 L1722.6 3240.5 L1728.6 3241.1 L1734.6 3241.6 L1740.6 3242 L1746.6 3242.4 L1752.6 3242.8 L1758.6 3243.1 L1764.6 3243.3 L1770.6 3243.6 L1776.6 3243.8 L1782.6 3244 L1788.6 3244.1 L1794.6 3244.2 L1800.6 3244.4 L1806.6 3244.5 L1812.6 3244.6 L1818.6 3244.7 L1824.6 3244.7 L1830.6 3244.8 L1836.6 3244.9 L1842.6 3244.9 L1848.6 3245 L1854.6 3245 L1860.6 3245.1 L1866.6 3245.1 L1872.6 3245.1 L1878.6 3245.2 L1884.6 3245.2 L1890.6 3245.2 L1894 3245.3" fill="none" stroke="#0000ff" stroke-width="12" stroke-linejoin="round"/>
<path d="M132.6 3245.5 L138.6 3245.4 L144.6 3245.4 L150.6 3245.4 L156.6 3245.4 L162.6 3245.4 L168.6 3245.4 L174.6 3245.4 L180.6 3245.4 L186.6 3245.4 L192.6 3245.4 L198.6 3245.4 L204.6 3245.4 L210.6 3245.4 L216.6 3245.4 L222.6 3245.4 L228.6 3245.4 L234.6 3245.4 L240.6 3245.4 L246.6 3245.4 L252.6 3245.4 L258.6 3245.3 L264.6 3245.3 L270.6 3245.3 L276.6 3245.3 L282.6 3245.3 L288.6 3245.3 L294.6 3245.3 L300.6 3245.3 L306.6 3245.3 L312.6 3245.3 L318.6 3245.3 L324.6 3245.3 L330.6 3245.3 L336.6 3245.3 L342.6 3245.3 L348.6 3245.2 L354.6 3245.2 L360.6 3245.2 L366.6 3245.2 L372.6 3245.2 L378.6 3245.2 L384.6 3245.2 L390.6 3245.2 L396.6 3245.2 L402.6 3245.2 L408.6 3245.2 L414.6 3245.1 L420.6 3245.1 L426.6 3245.1 L432.6 3245.1 L438.6 3245.1 L444.6 3245.1 L450.6 3245.1 L456.6 3245.1 L462.6 3245 L468.6 3245 L474.6 3245 L480.6 3245 L486.6 3245 L492.6 3245 L498.6 3245 L504.6 3244.9 L510.6 3244.9 L516.6 3244.9 L522.6 3244.9 L528.6 3244.9 L534.6 3244.9 L540.6 3244.8 L546.6 3244.8 L552.6 3244.8 L558.6 3244.8 L564.6 3244.7 L570.6 3244.7 L576.6 3244.7 L582.6 3244.6 L588.6 3244.6 L594.6 3244.6 L600.6 3244.5 L606.6 3244.5 L612.6 3244.4 L618.6 3244.4 L624.6 3244.3 L630.6 3244.2 L636.6 3244.2 L642.6 3244.1 L648.6 3244 L654.6 3243.9 L660.6 3243.8 L666.6 3243.6 L672.6 3243.5 L678.6 3243.3 L684.6 3243.1 L690.6 3242.9 L696.6 3242.7 L702.6 3242.4 L708.6 3242.1 L714.6 3241.8 L720.6 3241.5 L726.6 3241.1 L732.6 3240.6 L738.6 3240.1 L744.6 3239.5 L750.6 3238.9 L756.6 3238.2 L762.6 3237.5 L768.6 3236.6 L774.6 3235.7 L780.6 3234.7 L786.6 3233.5 L792.6 3232.3 L798.6 3231 L804.6 3229.5 L810.6 3227.9 L816.6 3226.1 L822.6 3224.3 L828.6 3222.2 L834.6 3220 L840.6 3217.6 L846.6 3215 L852.6 3212.2 L858.6 3209.3 L864.6 3206.1 L870.6 3202.7 L876.6 3199.1 L882.6 3195.3 L888.6 3191.2 L894.6 3186.9 L900.6 3182.4 L906.6 3177.7 L912.6 3172.7 L918.6 3167.4 L924.6 3162 L930.6 3156.3 L936.6 3150.4 L942.6 3144.3 L948.6 3138 L954.6 3131.6 L960.6 3124.9 L966.6 3118.1 L972.6 3111.1 L978.6 3104.1 L984.6 3096.9 L990.6 3089.6 L996.6 3082.3 L1002.6 3075 L1008.6 3067.7 L1014.6 3060.3 L1020.6 3053.1 L1026.6 3045.9 L1032.6 3038.9 L1038.6 3032 L1044.6 3025.3 L1050.6 3018.8 L1056.6 3012.6 L1062.6 3006.6 L1068.6 3001 L1074.6 2995.7 L1080.6 2990.8 L1086.6 2986.3 L1092.6 2982.2 L1098.6 2978.6 L1104.6 2975.4 L1110.6 2972.7 L1116.6 2970.6 L1122.6 2969 L1128.6 2967.9 L1134.6 2967.4 L1140.6 2967.4 L1146.6 2967.9 L1152.6 2969 L1158.6 2970.6 L1164.6 2972.7 L1170.6 2975.4 L1176.6 2978.5 L1182.6 2982.1 L1188.6 2986.1 L1194.6 2990.5 L1200.6 2995.4 L1206.6 3000.6 L1212.6 3006.2 L1218.6 3012 L1224.6 3018.2 L1230.6 3024.6 L1236.6 3031.2 L1242.6 3038 L1248.6 3045 L1254.6 3052 L1260.6 3059.2 L1266.6 3066.4 L1272.6 3073.7 L1278.6 3081 L1284.6 3088.2 L1290.6 3095.4 L1296.6 3102.6 L1302.6 3109.6 L1308.6 3116.5 L1314.6 3123.3 L1320.6 3129.9 L1326.6 3136.4 L1332.6 3142.7 L1338.6 3148.8 L1344.6 3154.7 L1350.6 3160.4 L1356.6 3165.8 L1362.6 3171.1 L1368.6 3176.1 L1374.6 3180.9 L1380.6 3185.4 L1386.6 3189.7 L1392.6 3193.8 L1398.6 3197.7 L1404.6 3201.4 L1410.6 3204.8 L1416.6 3208 L1422.6 3211.1 L1428.6 3213.9 L1434.6 3216.5 L1440.6 3219 L1446.6 3221.2 L1452.6 3223.3 L1458.6 3225.3 L1464.6 3227.1 L1470.6 3228.7 L1476.6 3230.3 L1482.6 3231.7 L1488.6 3232.9 L1494.6 3234.1 L1500.6 3235.2 L1506.6 3236.1 L1512.6 3237 L1518.6 3237.8 L1524.6 3238.5 L1530.6 3239.2 L1536.6 3239.8 L1542.6 3240.3 L1548.6 3240.8 L1554.6 3241.2 L1560.6 3241.6 L1566.6 3241.9 L1572.6 3242.3 L1578.6 3242.5 L1584.6 3242.8 L1590.6 3243 L1596.6 3243.2 L1602.6 3243.4 L1608.6 3243.5 L1614.6 3243.7 L1620.6 3243.8 L1626.6 3243.9 L1632.6 3244 L1638.6 3244.1 L1644.6 3244.2 L1650.6 3244.3 L1656.6 3244.3 L1662.6 3244.4 L1668.6 3244.4 L1674.6 3244.5 L1680.6 3244.5 L1686.6 3244.6 L1692.6 3244.6 L1698.6 3244.7 L1704.6 3244.7 L1710.6 3244.7 L1716.6 3244.7 L1722.6 3244.8 L1728.6 3244.8 L1734.6 3244.8 L1740.6 3244.8 L1746.6 3244.9 L1752.6 3244.9 L1758.6 3244.9 L1764.6 3244.9 L1770.6 3244.9 L1776.6 3244.9 L1782.6 3245 L1788.6 3245 L1794.6 3245 L1800.6 3245 L1806.6 3245 L1812.6 3245 L1818.6 3245 L1824.6 3245.1 L1830.6 3245.1 L1836.6 3245.1 L1842.6 3245.1 L1848.6 3245.1 L1854.6 3245.1 L1860.6 3245.1 L1866.6 3245.1 L1872.6 3245.2 L1878.6 3245.2 L1884.6 3245.2 L1890.6 3245.2 L1894 3245.2" fill="none" stroke="#00ff00" stroke-width="11" stroke-linejoin="round"/>
<path d="M132.6 3243.7 L138.6 3243.7 L144.6 3243.7 L150.6 3243.7 L156.6 3243.6 L162.6 3243.6 L168.6 3243.6 L174.6 3243.6 L180.6 3243.6 L186.6 3243.6 L192.6 3243.5 L198.6 3243.5 L204.6 3243.5 L210.6 3243.5 L216.6 3243.4 L222.6 3243.4 L228.6 3243.4 L234.6 3243.3 L240.6 3243.3 L246.6 3243.3 L252.6 3243.2 L258.6 3243.2 L264.6 3243.1 L270.6 3243 L276.6 3243 L282.6 3242.9 L288.6 3242.8 L294.6 3242.7 L300.6 3242.6 L306.6 3242.5 L312.6 3242.4 L318.6 3242.3 L324.6 3242.2 L330.6 3242 L336.6 3241.9 L342.6 3241.7 L348.6 3241.6 L354.6 3241.4 L360.6 3241.2 L366.6 3241 L372.6 3240.8 L378.6 3240.5 L384.6 3240.3 L390.6 3240 L396.6 3239.7 L402.6 3239.4 L408.6 3239.1 L414.6 3238.7 L420.6 3238.4 L426.6 3238 L432.6 3237.6 L438.6 3237.1 L444.6 3236.7 L450.6 3236.2 L456.6 3235.7 L462.6 3235.1 L468.6 3234.6 L474.6 3234 L480.6 3233.4 L486.6 3232.7 L492.6 3232.1 L498.6 3231.4 L504.6 3230.7 L510.6 3229.9 L516.6 3229.1 L522.6 3228.3 L528.6 3227.5 L534.6 3226.6 L540.6 3225.7 L546.6 3224.8 L552.6 3223.8 L558.6 3222.9 L564.6 3221.9 L570.6 3220.8 L576.6 3219.8 L582.6 3218.7 L588.6 3217.6 L594.6 3216.5 L600.6 3215.4 L606.6 3214.3 L612.6 3213.1 L618.6 3211.9 L624.6 3210.8 L630.6 3209.6 L636.6 3208.4 L642.6 3207.2 L648.6 3206 L654.6 3204.8 L660.6 3203.7 L666.6 3202.5 L672.6 3201.3 L678.6 3200.2 L684.6 3199 L690.6 3197.9 L696.6 3196.8 L702.6 3195.8 L708.6 3194.7 L714.6 3193.7 L720.6 3192.8 L726.6 3191.8 L732.6 3190.9 L738.6 3190.1 L744.6 3189.3 L750.6 3188.5 L756.6 3187.8 L762.6 3187.2 L768.6 3186.6 L774.6 3186 L780.6 3185.6 L786.6 3185.2 L792.6 3184.8 L798.6 3184.5 L804.6 3184.3 L810.6 3184.1 L816.6 3184 L822.6 3184 L828.6 3184 L834.6 3184.1 L840.6 3184.3 L846.6 3184.5 L852.6 3184.7 L858.6 3185 L864.6 3185.4 L870.6 3185.8 L876.6 3186.3 L882.6 3186.8 L888.6 3187.4 L894.6 3188 L900.6 3188.7 L906.6 3189.4 L912.6 3190.1 L918.6 3190.9 L924.6 3191.7 L930.6 3192.6 L936.6 3193.5 L942.6 3194.4 L948.6 3195.3 L954.6 3196.3 L960.6 3197.3 L966.6 3198.3 L972.6 3199.3 L978.6 3200.4 L984.6 3201.4 L990.6 3202.5 L996.6 3203.6 L1002.6 3204.7 L1008.6 3205.8 L1014.6 3206.9 L1020.6 3208 L1026.6 3209.1 L1032.6 3210.2 L1038.6 3211.2 L1044.6 3212.3 L1050.6 3213.4 L1056.6 3214.5 L1062.6 3215.5 L1068.6 3216.5 L1074.6 3217.6 L1080.6 3218.6 L1086.6 3219.6 L1092.6 3220.5 L1098.6 3221.5 L1104.6 3222.4 L1110.6 3223.3 L1116.6 3224.2 L1122.6 3225.1 L1128.6 3225.9 L1134.6 3226.7 L1140.6 3227.5 L1146.6 3228.3 L1152.6 3229.1 L1158.6 3229.8 L1164.6 3230.5 L1170.6 3231.2 L1176.6 3231.8 L1182.6 3232.4 L1188.6 3233 L1194.6 3233.6 L1200.6 3234.2 L1206.6 3234.7 L1212.6 3235.2 L1218.6 3235.7 L1224.6 3236.2 L1230.6 3236.6 L1236.6 3237.1 L1242.6 3237.5 L1248.6 3237.8 L1254.6 3238.2 L1260.6 3238.6 L1266.6 3238.9 L1272.6 3239.2 L1278.6 3239.5 L1284.6 3239.8 L1290.6 3240 L1296.6 3240.3 L1302.6 3240.5 L1308.6 3240.7 L1314.6 3241 L1320.6 3241.1 L1326.6 3241.3 L1332.6 3241.5 L1338.6 3241.7 L1344.6 3241.8 L1350.6 3242 L1356.6 3242.1 L1362.6 3242.2 L1368.6 3242.3 L1374.6 3242.4 L1380.6 3242.5 L1386.6 3242.6 L1392.6 3242.7 L1398.6 3242.8 L1404.6 3242.9 L1410.6 3242.9 L1416.6 3243 L1422.6 3243.1 L1428.6 3243.1 L1434.6 3243.2 L1440.6 3243.2 L1446.6 3243.3 L1452.6 3243.3 L1458.6 3243.3 L1464.6 3243.4 L1470.6 3243.4 L1476.6 3243.4 L1482.6 3243.5 L1488.6 3243.5 L1494.6 3243.5 L1500.6 3243.5 L1506.6 3243.6 L1512.6 3243.6 L1518.6 3243.6 L1524.6 3243.6 L1530.6 3243.6 L1536.6 3243.6 L1542.6 3243.6 L1548.6 3243.7 L1554.6 3243.7 L1560.6 3243.7 L1566.6 3243.7 L1572.6 3243.7 L1578.6 3243.7 L1584.6 3243.7 L1590.6 3243.7 L1596.6 3243.7 L1602.6 3243.7 L1608.6 3243.7 L1614.6 3243.7 L1620.6 3243.8 L1626.6 3243.8 L1632.6 3243.8 L1638.6 3243.8 L1644.6 3243.8 L1650.6 3243.8 L1656.6 3243.8 L1662.6 3243.8 L1668.6 3243.8 L1674.6 3243.8 L1680.6 3243.8 L1686.6 3243.8 L1692.6 3243.8 L1698.6 3243.8 L1704.6 3243.8 L1710.6 3243.8 L1716.6 3243.8 L1722.6 3243.8 L1728.6 3243.8 L1734.6 3243.8 L1740.6 3243.8 L1746.6 3243.8 L1752.6 3243.8 L1758.6 3243.8 L1764.6 3243.8 L1770.6 3243.8 L1776.6 3243.8 L1782.6 3243.8 L1788.6 3243.8 L1794.6 3243.8 L1800.6 3243.8 L1806.6 3243.8 L1812.6 3243.8 L1818.6 3243.8 L1824.6 3243.8 L1830.6 3243.8 L1836.6 3243.9 L1842.6 3243.9 L1848.6 3243.9 L1854.6 3243.9 L1860.6 3243.9 L1866.6 3243.9 L1872.6 3243.9 L1878.6 3243.9 L1884.6 3243.9 L1890.6 3243.9 L1894 3243.9" fill="none" stroke="#ff8080" stroke-width="10.7" stroke-linejoin="round"/>
<path d="M132.6 3243.1 L136.6 3243.1 L140.6 3243.1 L144.6 3243.1 L148.6 3243.1 L152.6 3243.1 L156.6 3243.1 L160.6 3243.1 L164.6 3243 L168.6 3243 L172.6 3243 L176.6 3243 L180.6 3243 L184.6 3243 L188.6 3242.9 L192.6 3242.9 L196.6 3242.9 L200.6 3242.9 L204.6 3242.9 L208.6 3242.8 L212.6 3242.8 L216.6 3242.8 L220.6 3242.8 L224.6 3242.7 L228.6 3242.7 L232.6 3242.7 L236.6 3242.6 L240.6 3242.6 L244.6 3242.6 L248.6 3242.5 L252.6 3242.5 L256.6 3242.5 L260.6 3242.4 L264.6 3242.4 L268.6 3242.3 L272.6 3242.3 L276.6 3242.2 L280.6 3242.2 L284.6 3242.1 L288.6 3242.1 L292.6 3242 L296.6 3241.9 L300.6 3241.9 L304.6 3241.8 L308.6 3241.7 L312.6 3241.6 L316.6 3241.5 L320.6 3241.5 L324.6 3241.4 L328.6 3241.3 L332.6 3241.2 L336.6 3241.1 L340.6 3241 L344.6 3240.8 L348.6 3240.7 L352.6 3240.6 L356.6 3240.5 L360.6 3240.3 L364.6 3240.2 L368.6 3240 L372.6 3239.9 L376.6 3239.7 L380.6 3239.5 L384.6 3239.3 L388.6 3239.1 L392.6 3239 L396.6 3238.7 L400.6 3238.5 L404.6 3238.3 L408.6 3238.1 L412.6 3237.8 L416.6 3237.6 L420.6 3237.3 L424.6 3237.1 L428.6 3236.8 L432.6 3236.5 L436.6 3236.2 L440.6 3235.9 L444.6 3235.6 L448.6 3235.3 L452.6 3234.9 L456.6 3234.6 L460.6 3234.2 L464.6 3233.8 L468.6 3233.4 L472.6 3233 L476.6 3232.6 L480.6 3232.2 L484.6 3231.8 L488.6 3231.3 L492.6 3230.8 L496.6 3230.4 L500.6 3229.9 L504.6 3229.4 L508.6 3228.9 L512.6 3228.3 L516.6 3227.8 L520.6 3227.2 L524.6 3226.7 L528.6 3226.1 L532.6 3225.5 L536.6 3224.9 L540.6 3224.3 L544.6 3223.7 L548.6 3223 L552.6 3222.4 L556.6 3221.7 L560.6 3221 L564.6 3220.3 L568.6 3219.6 L572.6 3218.9 L576.6 3218.2 L580.6 3217.4 L584.6 3216.7 L588.6 3215.9 L592.6 3215.2 L596.6 3214.4 L600.6 3213.6 L604.6 3212.8 L608.6 3212 L612.6 3211.2 L616.6 3210.4 L620.6 3209.6 L624.6 3208.7 L628.6 3207.9 L632.6 3207.1 L636.6 3206.2 L640.6 3205.3 L644.6 3204.5 L648.6 3203.6 L652.6 3202.8 L656.6 3201.9 L660.6 3201 L664.6 3200.1 L668.6 3199.3 L672.6 3198.4 L676.6 3197.5 L680.6 3196.6 L684.6 3195.7 L688.6 3194.8 L692.6 3193.9 L696.6 3193.1 L700.6 3192.2 L704.6 3191.3 L708.6 3190.4 L712.6 3189.5 L716.6 3188.6 L720.6 3187.7 L724.6 3186.8 L728.6 3185.9 L732.6 3185 L736.6 3184.1 L740.6 3183.2 L744.6 3182.2 L748.6 3181.3 L752.6 3180.4 L756.6 3179.4 L760.6 3178.5 L764.6 3177.5 L768.6 3176.6 L772.6 3175.6 L776.6 3174.6 L780.6 3173.6 L784.6 3172.5 L788.6 3171.5 L792.6 3170.4 L796.6 3169.3 L800.6 3168.2 L804.6 3167 L808.6 3165.8 L812.6 3164.6 L816.6 3163.4 L820.6 3162.1 L824.6 3160.8 L828.6 3159.4 L832.6 3158 L836.6 3156.5 L840.6 3155 L844.6 3153.4 L848.6 3151.7 L852.6 3150 L856.6 3148.3 L860.6 3146.4 L864.6 3144.5 L868.6 3142.5 L872.6 3140.5 L876.6 3138.4 L880.6 3136.1 L884.6 3133.9 L888.6 3131.5 L892.6 3129 L896.6 3126.5 L900.6 3123.9 L904.6 3121.2 L908.6 3118.4 L912.6 3115.5 L916.6 3112.6 L920.6 3109.5 L924.6 3106.4 L928.6 3103.2 L932.6 3099.8 L936.6 3096.5 L940.6 3093 L944.6 3089.4 L948.6 3085.8 L952.6 3082.1 L956.6 3078.3 L960.6 3074.5 L964.6 3070.6 L968.6 3066.6 L972.6 3062.6 L976.6 3058.5 L980.6 3054.4 L984.6 3050.2 L988.6 3046 L992.6 3041.7 L996.6 3037.4 L1000.6 3033.1 L1004.6 3028.8 L1008.6 3024.5 L1012.6 3020.2 L1016.6 3015.8 L1020.6 3011.5 L1024.6 3007.2 L1028.6 3002.9 L1032.6 2998.6 L1036.6 2994.3 L1040.6 2990.1 L1044.6 2985.9 L1048.6 2981.8 L1052.6 2977.7 L1056.6 2973.6 L1060.6 2969.6 L1064.6 2965.6 L1068.6 2961.7 L1072.6 2957.9 L1076.6 2954.1 L1080.6 2950.3 L1084.6 2946.6 L1088.6 2943 L1092.6 2939.4 L1096.6 2935.9 L1100.6 2932.4 L1104.6 2928.9 L1108.6 2925.5 L1112.6 2922.1 L1116.6 2918.8 L1120.6 2915.4 L1124.6 2912.1 L1128.6 2908.8 L1132.6 2905.5 L1136.6 2902.2 L1140.6 2898.9 L1144.6 2895.6 L1148.6 2892.2 L1152.6 2888.8 L1156.6 2885.4 L1160.6 2881.9 L1164.6 2878.4 L1168.6 2874.8 L1172.6 2871.2 L1176.6 2867.6 L1180.6 2863.9 L1184.6 2860.2 L1188.6 2856.4 L1192.6 2852.7 L1196.6 2848.9 L1200.6 2845.1 L1204.6 2841.3 L1208.6 2837.5 L1212.6 2833.7 L1216.6 2830 L1220.6 2826.4 L1224.6 2822.8 L1228.6 2819.4 L1232.6 2816.1 L1236.6 2812.9 L1240.6 2810 L1244.6 2807.2 L1248.6 2804.7 L1252.6 2802.4 L1256.6 2800.4 L1260.6 2798.7 L1264.6 2797.3 L1268.6 2796.3 L1272.6 2795.7 L1276.6 2795.5 L1280.6 2795.7 L1284.6 2796.3 L1288.6 2797.4 L1292.6 2799 L1296.6 2801.1 L1300.6 2803.6 L1304.6 2806.6 L1308.6 2810.2 L1312.6 2814.2 L1316.6 2818.6 L1320.6 2823.6 L1324.6 2828.9 L1328.6 2834.7 L1332.6 2840.9 L1336.6 2847.4 L1340.6 2854.3 L1344.6 2861.5 L1348.6 2869.1 L1352.6 2876.8 L1356.6 2884.9 L1360.6 2893.1 L1364.6 2901.5 L1368.6 2910 L1372.6 2918.6 L1376.6 2927.3 L1380.6 2936 L1384.6 2944.8 L1388.6 2953.5 L1392.6 2962.1 L1396.6 2970.7 L1400.6 2979.1 L1404.6 2987.4 L1408.6 2995.6 L1412.6 3003.6 L1416.6 3011.4 L1420.6 3018.9 L1424.6 3026.3 L1428.6 3033.4 L1432.6 3040.3 L1436.6 3046.9 L1440.6 3053.3 L1444.6 3059.5 L1448.6 3065.4 L1452.6 3071 L1456.6 3076.4 L1460.6 3081.6 L1464.6 3086.6 L1468.6 3091.3 L1472.6 3095.9 L1476.6 3100.2 L1480.6 3104.4 L1484.6 3108.5 L1488.6 3112.4 L1492.6 3116.1 L1496.6 3119.8 L1500.6 3123.3 L1504.6 3126.8 L1508.6 3130.1 L1512.6 3133.4 L1516.6 3136.7 L1520.6 3139.9 L1524.6 3143.1 L1528.6 3146.2 L1532.6 3149.3 L1536.6 3152.3 L1540.6 3155.3 L1544.6 3158.3 L1548.6 3161.3 L1552.6 3164.2 L1556.6 3167.1 L1560.6 3170 L1564.6 3172.8 L1568.6 3175.6 L1572.6 3178.3 L1576.6 3181 L1580.6 3183.7 L1584.6 3186.3 L1588.6 3188.8 L1592.6 3191.3 L1596.6 3193.8 L1600.6 3196.1 L1604.6 3198.4 L1608.6 3200.7 L1612.6 3202.9 L1616.6 3205 L1620.6 3207 L1624.6 3209 L1628.6 3210.9 L1632.6 3212.7 L1636.6 3214.5 L1640.6 3216.1 L1644.6 3217.7 L1648.6 3219.3 L1652.6 3220.7 L1656.6 3222.1 L1660.6 3223.4 L1664.6 3224.7 L1668.6 3225.8 L1672.6 3226.9 L1676.6 3228 L1680.6 3229 L1684.6 3229.9 L1688.6 3230.7 L1692.6 3231.5 L1696.6 3232.3 L1700.6 3233 L1704.6 3233.6 L1708.6 3234.3 L1712.6 3234.8 L1716.6 3235.3 L1720.6 3235.8 L1724.6 3236.3 L1728.6 3236.7 L1732.6 3237.1 L1736.6 3237.4 L1740.6 3237.7 L1744.6 3238 L1748.6 3238.3 L1752.6 3238.6 L1756.6 3238.8 L1760.6 3239 L1764.6 3239.2 L1768.6 3239.4 L1772.6 3239.6 L1776.6 3239.7 L1780.6 3239.9 L1784.6 3240 L1788.6 3240.1 L1792.6 3240.3 L1796.6 3240.4 L1800.6 3240.5 L1804.6 3240.6 L1808.6 3240.6 L1812.6 3240.7 L1816.6 3240.8 L1820.6 3240.9 L1824.6 3240.9 L1828.6 3241 L1832.6 3241.1 L1836.6 3241.1 L1840.6 3241.2 L1844.6 3241.2 L1848.6 3241.3 L1852.6 3241.3 L1856.6 3241.4 L1860.6 3241.4 L1864.6 3241.5 L1868.6 3241.5 L1872.6 3241.5 L1876.6 3241.6 L1880.6 3241.6 L1884.6 3241.7 L1888.6 3241.7 L1892.6 3241.7 L1894 3241.7" fill="none" stroke="#000" stroke-width="3.1"/>
<path d="M134.9 3236.9 l5.1 6.2 l-5.1 6.2 l-5.1 -6.2 z M152.5 3236.9 l5.1 6.2 l-5.1 6.2 l-5.1 -6.2 z M170.2 3236.8 l5.1 6.2 l-5.1 6.2 l-5.1 -6.2 z M187.8 3236.7 l5.1 6.2 l-5.1 6.2 l-5.1 -6.2 z M205.4 3236.7 l5.1 6.2 l-5.1 6.2 l-5.1 -6.2 z M223.1 3236.5 l5.1 6.2 l-5.1 6.2 l-5.1 -6.2 z M240.7 3236.4 l5.1 6.2 l-5.1 6.2 l-5.1 -6.2 z M258.3 3236.2 l5.1 6.2 l-5.1 6.2 l-5.1 -6.2 z M275.9 3236 l5.1 6.2 l-5.1 6.2 l-5.1 -6.2 z M293.6 3235.8 l5.1 6.2 l-5.1 6.2 l-5.1 -6.2 z M311.2 3235.5 l5.1 6.2 l-5.1 6.2 l-5.1 -6.2 z M328.8 3235.1 l5.1 6.2 l-5.1 6.2 l-5.1 -6.2 z M346.5 3234.6 l5.1 6.2 l-5.1 6.2 l-5.1 -6.2 z M364.1 3234 l5.1 6.2 l-5.1 6.2 l-5.1 -6.2 z M381.7 3233.3 l5.1 6.2 l-5.1 6.2 l-5.1 -6.2 z M399.4 3232.4 l5.1 6.2 l-5.1 6.2 l-5.1 -6.2 z M417 3231.4 l5.1 6.2 l-5.1 6.2 l-5.1 -6.2 z M434.6 3230.2 l5.1 6.2 l-5.1 6.2 l-5.1 -6.2 z M452.2 3228.7 l5.1 6.2 l-5.1 6.2 l-5.1 -6.2 z M469.9 3227.1 l5.1 6.2 l-5.1 6.2 l-5.1 -6.2 z M487.5 3225.2 l5.1 6.2 l-5.1 6.2 l-5.1 -6.2 z M505.1 3223.1 l5.1 6.2 l-5.1 6.2 l-5.1 -6.2 z M522.8 3220.7 l5.1 6.2 l-5.1 6.2 l-5.1 -6.2 z M540.4 3218.1 l5.1 6.2 l-5.1 6.2 l-5.1 -6.2 z M558 3215.3 l5.1 6.2 l-5.1 6.2 l-5.1 -6.2 z M575.6 3212.2 l5.1 6.2 l-5.1 6.2 l-5.1 -6.2 z M593.3 3208.8 l5.1 6.2 l-5.1 6.2 l-5.1 -6.2 z M610.9 3205.3 l5.1 6.2 l-5.1 6.2 l-5.1 -6.2 z M628.5 3201.7 l5.1 6.2 l-5.1 6.2 l-5.1 -6.2 z M646.2 3197.9 l5.1 6.2 l-5.1 6.2 l-5.1 -6.2 z M663.8 3194.1 l5.1 6.2 l-5.1 6.2 l-5.1 -6.2 z M681.4 3190.2 l5.1 6.2 l-5.1 6.2 l-5.1 -6.2 z M699.1 3186.3 l5.1 6.2 l-5.1 6.2 l-5.1 -6.2 z M716.7 3182.4 l5.1 6.2 l-5.1 6.2 l-5.1 -6.2 z M734.3 3178.4 l5.1 6.2 l-5.1 6.2 l-5.1 -6.2 z M751.9 3174.3 l5.1 6.2 l-5.1 6.2 l-5.1 -6.2 z M769.6 3170.1 l5.1 6.2 l-5.1 6.2 l-5.1 -6.2 z M787.2 3165.6 l5.1 6.2 l-5.1 6.2 l-5.1 -6.2 z M804.8 3160.7 l5.1 6.2 l-5.1 6.2 l-5.1 -6.2 z M822.5 3155.3 l5.1 6.2 l-5.1 6.2 l-5.1 -6.2 z M840.1 3149 l5.1 6.2 l-5.1 6.2 l-5.1 -6.2 z M857.7 3141.5 l5.1 6.2 l-5.1 6.2 l-5.1 -6.2 z M875.4 3132.8 l5.1 6.2 l-5.1 6.2 l-5.1 -6.2 z M893 3122.6 l5.1 6.2 l-5.1 6.2 l-5.1 -6.2 z M910.6 3110.8 l5.1 6.2 l-5.1 6.2 l-5.1 -6.2 z M928.2 3097.2 l5.1 6.2 l-5.1 6.2 l-5.1 -6.2 z M945.9 3082.1 l5.1 6.2 l-5.1 6.2 l-5.1 -6.2 z M963.5 3065.4 l5.1 6.2 l-5.1 6.2 l-5.1 -6.2 z M981.1 3047.6 l5.1 6.2 l-5.1 6.2 l-5.1 -6.2 z M998.8 3028.9 l5.1 6.2 l-5.1 6.2 l-5.1 -6.2 z M1016.4 3009.8 l5.1 6.2 l-5.1 6.2 l-5.1 -6.2 z M1034 2990.9 l5.1 6.2 l-5.1 6.2 l-5.1 -6.2 z M1051.7 2972.4 l5.1 6.2 l-5.1 6.2 l-5.1 -6.2 z M1069.3 2954.8 l5.1 6.2 l-5.1 6.2 l-5.1 -6.2 z M1086.9 2938.3 l5.1 6.2 l-5.1 6.2 l-5.1 -6.2 z M1104.5 2922.8 l5.1 6.2 l-5.1 6.2 l-5.1 -6.2 z M1122.2 2907.9 l5.1 6.2 l-5.1 6.2 l-5.1 -6.2 z M1139.8 2893.3 l5.1 6.2 l-5.1 6.2 l-5.1 -6.2 z M1157.4 2878.4 l5.1 6.2 l-5.1 6.2 l-5.1 -6.2 z M1175.1 2862.8 l5.1 6.2 l-5.1 6.2 l-5.1 -6.2 z M1192.7 2846.4 l5.1 6.2 l-5.1 6.2 l-5.1 -6.2 z M1210.3 2829.6 l5.1 6.2 l-5.1 6.2 l-5.1 -6.2 z M1228 2813.7 l5.1 6.2 l-5.1 6.2 l-5.1 -6.2 z M1245.6 2800.4 l5.1 6.2 l-5.1 6.2 l-5.1 -6.2 z M1263.2 2791.6 l5.1 6.2 l-5.1 6.2 l-5.1 -6.2 z M1280.9 2789.5 l5.1 6.2 l-5.1 6.2 l-5.1 -6.2 z M1298.5 2796 l5.1 6.2 l-5.1 6.2 l-5.1 -6.2 z M1316.1 2811.9 l5.1 6.2 l-5.1 6.2 l-5.1 -6.2 z M1333.7 2836.5 l5.1 6.2 l-5.1 6.2 l-5.1 -6.2 z M1351.4 2868.2 l5.1 6.2 l-5.1 6.2 l-5.1 -6.2 z M1369 2904.6 l5.1 6.2 l-5.1 6.2 l-5.1 -6.2 z M1386.6 2943 l5.1 6.2 l-5.1 6.2 l-5.1 -6.2 z M1404.3 2980.5 l5.1 6.2 l-5.1 6.2 l-5.1 -6.2 z M1421.9 3015.1 l5.1 6.2 l-5.1 6.2 l-5.1 -6.2 z M1439.5 3045.4 l5.1 6.2 l-5.1 6.2 l-5.1 -6.2 z M1457.2 3071 l5.1 6.2 l-5.1 6.2 l-5.1 -6.2 z M1474.8 3092.1 l5.1 6.2 l-5.1 6.2 l-5.1 -6.2 z M1492.4 3109.8 l5.1 6.2 l-5.1 6.2 l-5.1 -6.2 z M1510 3125.1 l5.1 6.2 l-5.1 6.2 l-5.1 -6.2 z M1527.7 3139.2 l5.1 6.2 l-5.1 6.2 l-5.1 -6.2 z M1545.3 3152.6 l5.1 6.2 l-5.1 6.2 l-5.1 -6.2 z M1562.9 3165.4 l5.1 6.2 l-5.1 6.2 l-5.1 -6.2 z M1580.6 3177.4 l5.1 6.2 l-5.1 6.2 l-5.1 -6.2 z M1598.2 3188.5 l5.1 6.2 l-5.1 6.2 l-5.1 -6.2 z M1615.8 3198.4 l5.1 6.2 l-5.1 6.2 l-5.1 -6.2 z M1633.5 3206.9 l5.1 6.2 l-5.1 6.2 l-5.1 -6.2 z M1651.1 3214 l5.1 6.2 l-5.1 6.2 l-5.1 -6.2 z M1668.7 3219.7 l5.1 6.2 l-5.1 6.2 l-5.1 -6.2 z M1686.3 3224.1 l5.1 6.2 l-5.1 6.2 l-5.1 -6.2 z M1704 3227.3 l5.1 6.2 l-5.1 6.2 l-5.1 -6.2 z M1721.6 3229.7 l5.1 6.2 l-5.1 6.2 l-5.1 -6.2 z M1739.2 3231.4 l5.1 6.2 l-5.1 6.2 l-5.1 -6.2 z M1756.9 3232.6 l5.1 6.2 l-5.1 6.2 l-5.1 -6.2 z M1774.5 3233.5 l5.1 6.2 l-5.1 6.2 l-5.1 -6.2 z M1792.1 3234 l5.1 6.2 l-5.1 6.2 l-5.1 -6.2 z M1809.8 3234.5 l5.1 6.2 l-5.1 6.2 l-5.1 -6.2 z M1827.4 3234.8 l5.1 6.2 l-5.1 6.2 l-5.1 -6.2 z M1845 3235 l5.1 6.2 l-5.1 6.2 l-5.1 -6.2 z M1862.6 3235.2 l5.1 6.2 l-5.1 6.2 l-5.1 -6.2 z M1880.3 3235.4 l5.1 6.2 l-5.1 6.2 l-5.1 -6.2 z" fill="#fff" stroke="#000" stroke-width="2.1" stroke-linejoin="miter"/>
</g>
<g clip-path="url(#cpb2)">
<path d="M132.6 2795 H1894" stroke="#0000ff" stroke-width="12"/>
<path d="M132.6 2793.9 L138.6 2793.9 L144.6 2793.9 L150.6 2793.9 L156.6 2793.9 L162.6 2793.9 L168.6 2793.9 L174.6 2793.9 L180.6 2793.9 L186.6 2793.9 L192.6 2793.9 L198.6 2793.9 L204.6 2793.9 L210.6 2793.9 L216.6 2793.9 L222.6 2793.9 L228.6 2793.9 L234.6 2793.9 L240.6 2793.9 L246.6 2793.9 L252.6 2793.9 L258.6 2793.9 L264.6 2793.9 L270.6 2793.9 L276.6 2793.9 L282.6 2793.9 L288.6 2793.9 L294.6 2793.9 L300.6 2793.9 L306.6 2793.9 L312.6 2793.9 L318.6 2793.9 L324.6 2793.9 L330.6 2793.9 L336.6 2793.9 L342.6 2793.9 L348.6 2793.9 L354.6 2793.9 L360.6 2793.9 L366.6 2793.9 L372.6 2793.9 L378.6 2793.9 L384.6 2793.9 L390.6 2793.9 L396.6 2793.9 L402.6 2793.9 L408.6 2793.9 L414.6 2793.9 L420.6 2793.9 L426.6 2793.9 L432.6 2793.9 L438.6 2793.9 L444.6 2793.8 L450.6 2793.8 L456.6 2793.8 L462.6 2793.8 L468.6 2793.8 L474.6 2793.8 L480.6 2793.8 L486.6 2793.8 L492.6 2793.8 L498.6 2793.8 L504.6 2793.8 L510.6 2793.8 L516.6 2793.8 L522.6 2793.8 L528.6 2793.8 L534.6 2793.8 L540.6 2793.8 L546.6 2793.8 L552.6 2793.8 L558.6 2793.8 L564.6 2793.8 L570.6 2793.8 L576.6 2793.8 L582.6 2793.8 L588.6 2793.8 L594.6 2793.8 L600.6 2793.8 L606.6 2793.8 L612.6 2793.8 L618.6 2793.8 L624.6 2793.8 L630.6 2793.8 L636.6 2793.8 L642.6 2793.8 L648.6 2793.7 L654.6 2793.7 L660.6 2793.7 L666.6 2793.7 L672.6 2793.7 L678.6 2793.7 L684.6 2793.7 L690.6 2793.7 L696.6 2793.7 L702.6 2793.7 L708.6 2793.7 L714.6 2793.7 L720.6 2793.7 L726.6 2793.7 L732.6 2793.7 L738.6 2793.7 L744.6 2793.7 L750.6 2793.7 L756.6 2793.6 L762.6 2793.6 L768.6 2793.6 L774.6 2793.6 L780.6 2793.6 L786.6 2793.6 L792.6 2793.6 L798.6 2793.6 L804.6 2793.6 L810.6 2793.6 L816.6 2793.6 L822.6 2793.5 L828.6 2793.5 L834.6 2793.5 L840.6 2793.5 L846.6 2793.5 L852.6 2793.5 L858.6 2793.5 L864.6 2793.5 L870.6 2793.4 L876.6 2793.4 L882.6 2793.4 L888.6 2793.4 L894.6 2793.4 L900.6 2793.4 L906.6 2793.3 L912.6 2793.3 L918.6 2793.3 L924.6 2793.3 L930.6 2793.2 L936.6 2793.2 L942.6 2793.2 L948.6 2793.1 L954.6 2793.1 L960.6 2793 L966.6 2793 L972.6 2792.9 L978.6 2792.8 L984.6 2792.7 L990.6 2792.6 L996.6 2792.5 L1002.6 2792.3 L1008.6 2792.1 L1014.6 2791.9 L1020.6 2791.6 L1026.6 2791.3 L1032.6 2791 L1038.6 2790.5 L1044.6 2790.1 L1050.6 2789.5 L1056.6 2788.8 L1062.6 2788 L1068.6 2787.1 L1074.6 2786.1 L1080.6 2784.9 L1086.6 2783.6 L1092.6 2782.1 L1098.6 2780.3 L1104.6 2778.4 L1110.6 2776.2 L1116.6 2773.8 L1122.6 2771.1 L1128.6 2768.1 L1134.6 2764.8 L1140.6 2761.2 L1146.6 2757.3 L1152.6 2753.1 L1158.6 2748.5 L1164.6 2743.6 L1170.6 2738.3 L1176.6 2732.7 L1182.6 2726.8 L1188.6 2720.7 L1194.6 2714.2 L1200.6 2707.5 L1206.6 2700.6 L1212.6 2693.6 L1218.6 2686.4 L1224.6 2679.2 L1230.6 2671.9 L1236.6 2664.7 L1242.6 2657.6 L1248.6 2650.6 L1254.6 2644 L1260.6 2637.6 L1266.6 2631.6 L1272.6 2626 L1278.6 2620.9 L1284.6 2616.5 L1290.6 2612.6 L1296.6 2609.4 L1302.6 2606.9 L1308.6 2605.2 L1314.6 2604.2 L1320.6 2604 L1326.6 2604.6 L1332.6 2606.1 L1338.6 2608.2 L1344.6 2611.2 L1350.6 2614.8 L1356.6 2619.1 L1362.6 2624 L1368.6 2629.5 L1374.6 2635.4 L1380.6 2641.7 L1386.6 2648.4 L1392.6 2655.3 L1398.6 2662.5 L1404.6 2669.7 L1410.6 2677.1 L1416.6 2684.4 L1422.6 2691.7 L1428.6 2698.9 L1434.6 2705.9 L1440.6 2712.7 L1446.6 2719.3 L1452.6 2725.6 L1458.6 2731.6 L1464.6 2737.3 L1470.6 2742.7 L1476.6 2747.7 L1482.6 2752.4 L1488.6 2756.8 L1494.6 2760.8 L1500.6 2764.5 L1506.6 2767.8 L1512.6 2770.9 L1518.6 2773.6 L1524.6 2776.1 L1530.6 2778.3 L1536.6 2780.3 L1542.6 2782 L1548.6 2783.6 L1554.6 2784.9 L1560.6 2786.1 L1566.6 2787.2 L1572.6 2788.1 L1578.6 2788.8 L1584.6 2789.5 L1590.6 2790.1 L1596.6 2790.6 L1602.6 2791 L1608.6 2791.4 L1614.6 2791.7 L1620.6 2791.9 L1626.6 2792.2 L1632.6 2792.3 L1638.6 2792.5 L1644.6 2792.6 L1650.6 2792.7 L1656.6 2792.8 L1662.6 2792.9 L1668.6 2793 L1674.6 2793.1 L1680.6 2793.1 L1686.6 2793.1 L1692.6 2793.2 L1698.6 2793.2 L1704.6 2793.3 L1710.6 2793.3 L1716.6 2793.3 L1722.6 2793.3 L1728.6 2793.4 L1734.6 2793.4 L1740.6 2793.4 L1746.6 2793.4 L1752.6 2793.4 L1758.6 2793.4 L1764.6 2793.5 L1770.6 2793.5 L1776.6 2793.5 L1782.6 2793.5 L1788.6 2793.5 L1794.6 2793.5 L1800.6 2793.5 L1806.6 2793.5 L1812.6 2793.6 L1818.6 2793.6 L1824.6 2793.6 L1830.6 2793.6 L1836.6 2793.6 L1842.6 2793.6 L1848.6 2793.6 L1854.6 2793.6 L1860.6 2793.6 L1866.6 2793.6 L1872.6 2793.6 L1878.6 2793.6 L1884.6 2793.7 L1890.6 2793.7 L1894 2793.7" fill="none" stroke="#0000ff" stroke-width="12" stroke-linejoin="round"/>
<path d="M132.6 2793.9 L138.6 2793.9 L144.6 2793.9 L150.6 2793.9 L156.6 2793.9 L162.6 2793.9 L168.6 2793.9 L174.6 2793.9 L180.6 2793.9 L186.6 2793.9 L192.6 2793.9 L198.6 2793.9 L204.6 2793.9 L210.6 2793.9 L216.6 2793.9 L222.6 2793.9 L228.6 2793.9 L234.6 2793.9 L240.6 2793.9 L246.6 2793.9 L252.6 2793.9 L258.6 2793.9 L264.6 2793.9 L270.6 2793.9 L276.6 2793.9 L282.6 2793.9 L288.6 2793.9 L294.6 2793.9 L300.6 2793.9 L306.6 2793.9 L312.6 2793.9 L318.6 2793.9 L324.6 2793.9 L330.6 2793.9 L336.6 2793.9 L342.6 2793.9 L348.6 2793.9 L354.6 2793.9 L360.6 2793.9 L366.6 2793.9 L372.6 2793.9 L378.6 2793.9 L384.6 2793.9 L390.6 2793.9 L396.6 2793.9 L402.6 2793.9 L408.6 2793.9 L414.6 2793.9 L420.6 2793.9 L426.6 2793.9 L432.6 2793.9 L438.6 2793.9 L444.6 2793.9 L450.6 2793.9 L456.6 2793.9 L462.6 2793.9 L468.6 2793.9 L474.6 2793.9 L480.6 2793.9 L486.6 2793.9 L492.6 2793.9 L498.6 2793.9 L504.6 2793.9 L510.6 2793.9 L516.6 2793.8 L522.6 2793.8 L528.6 2793.8 L534.6 2793.8 L540.6 2793.8 L546.6 2793.8 L552.6 2793.8 L558.6 2793.8 L564.6 2793.8 L570.6 2793.8 L576.6 2793.8 L582.6 2793.8 L588.6 2793.8 L594.6 2793.8 L600.6 2793.8 L606.6 2793.8 L612.6 2793.8 L618.6 2793.8 L624.6 2793.8 L630.6 2793.8 L636.6 2793.8 L642.6 2793.8 L648.6 2793.8 L654.6 2793.8 L660.6 2793.8 L666.6 2793.8 L672.6 2793.8 L678.6 2793.8 L684.6 2793.8 L690.6 2793.8 L696.6 2793.8 L702.6 2793.8 L708.6 2793.8 L714.6 2793.8 L720.6 2793.8 L726.6 2793.8 L732.6 2793.8 L738.6 2793.7 L744.6 2793.7 L750.6 2793.7 L756.6 2793.7 L762.6 2793.7 L768.6 2793.7 L774.6 2793.7 L780.6 2793.7 L786.6 2793.7 L792.6 2793.7 L798.6 2793.7 L804.6 2793.7 L810.6 2793.7 L816.6 2793.7 L822.6 2793.7 L828.6 2793.7 L834.6 2793.7 L840.6 2793.7 L846.6 2793.7 L852.6 2793.7 L858.6 2793.6 L864.6 2793.6 L870.6 2793.6 L876.6 2793.6 L882.6 2793.6 L888.6 2793.6 L894.6 2793.6 L900.6 2793.6 L906.6 2793.6 L912.6 2793.6 L918.6 2793.6 L924.6 2793.6 L930.6 2793.6 L936.6 2793.5 L942.6 2793.5 L948.6 2793.5 L954.6 2793.5 L960.6 2793.5 L966.6 2793.5 L972.6 2793.5 L978.6 2793.5 L984.6 2793.5 L990.6 2793.5 L996.6 2793.4 L1002.6 2793.4 L1008.6 2793.4 L1014.6 2793.4 L1020.6 2793.4 L1026.6 2793.4 L1032.6 2793.4 L1038.6 2793.3 L1044.6 2793.3 L1050.6 2793.3 L1056.6 2793.3 L1062.6 2793.3 L1068.6 2793.2 L1074.6 2793.2 L1080.6 2793.2 L1086.6 2793.2 L1092.6 2793.2 L1098.6 2793.1 L1104.6 2793.1 L1110.6 2793.1 L1116.6 2793 L1122.6 2793 L1128.6 2793 L1134.6 2792.9 L1140.6 2792.9 L1146.6 2792.8 L1152.6 2792.8 L1158.6 2792.7 L1164.6 2792.6 L1170.6 2792.6 L1176.6 2792.5 L1182.6 2792.4 L1188.6 2792.3 L1194.6 2792.1 L1200.6 2792 L1206.6 2791.8 L1212.6 2791.6 L1218.6 2791.4 L1224.6 2791.2 L1230.6 2790.9 L1236.6 2790.6 L1242.6 2790.2 L1248.6 2789.8 L1254.6 2789.3 L1260.6 2788.7 L1266.6 2788.1 L1272.6 2787.4 L1278.6 2786.7 L1284.6 2785.8 L1290.6 2784.9 L1296.6 2783.8 L1302.6 2782.7 L1308.6 2781.4 L1314.6 2780 L1320.6 2778.5 L1326.6 2776.9 L1332.6 2775.1 L1338.6 2773.2 L1344.6 2771.2 L1350.6 2769 L1356.6 2766.8 L1362.6 2764.4 L1368.6 2761.9 L1374.6 2759.3 L1380.6 2756.6 L1386.6 2753.8 L1392.6 2751 L1398.6 2748.1 L1404.6 2745.2 L1410.6 2742.3 L1416.6 2739.4 L1422.6 2736.6 L1428.6 2733.8 L1434.6 2731.2 L1440.6 2728.6 L1446.6 2726.3 L1452.6 2724.1 L1458.6 2722.1 L1464.6 2720.4 L1470.6 2718.9 L1476.6 2717.7 L1482.6 2716.8 L1488.6 2716.3 L1494.6 2716 L1500.6 2716.1 L1506.6 2716.6 L1512.6 2717.4 L1518.6 2718.6 L1524.6 2720.1 L1530.6 2721.8 L1536.6 2723.9 L1542.6 2726.2 L1548.6 2728.7 L1554.6 2731.4 L1560.6 2734.2 L1566.6 2737.1 L1572.6 2740.1 L1578.6 2743.2 L1584.6 2746.3 L1590.6 2749.3 L1596.6 2752.3 L1602.6 2755.3 L1608.6 2758.2 L1614.6 2761 L1620.6 2763.6 L1626.6 2766.2 L1632.6 2768.6 L1638.6 2770.9 L1644.6 2773.1 L1650.6 2775.1 L1656.6 2776.9 L1662.6 2778.7 L1668.6 2780.2 L1674.6 2781.7 L1680.6 2783 L1686.6 2784.2 L1692.6 2785.3 L1698.6 2786.2 L1704.6 2787.1 L1710.6 2787.8 L1716.6 2788.5 L1722.6 2789.1 L1728.6 2789.6 L1734.6 2790.1 L1740.6 2790.5 L1746.6 2790.8 L1752.6 2791.2 L1758.6 2791.4 L1764.6 2791.6 L1770.6 2791.8 L1776.6 2792 L1782.6 2792.2 L1788.6 2792.3 L1794.6 2792.4 L1800.6 2792.5 L1806.6 2792.6 L1812.6 2792.7 L1818.6 2792.8 L1824.6 2792.8 L1830.6 2792.9 L1836.6 2792.9 L1842.6 2793 L1848.6 2793 L1854.6 2793 L1860.6 2793.1 L1866.6 2793.1 L1872.6 2793.1 L1878.6 2793.2 L1884.6 2793.2 L1890.6 2793.2 L1894 2793.2" fill="none" stroke="#0000ff" stroke-width="12" stroke-linejoin="round"/>
<path d="M132.6 2793.3 L138.6 2793.3 L144.6 2793.3 L150.6 2793.3 L156.6 2793.3 L162.6 2793.3 L168.6 2793.3 L174.6 2793.3 L180.6 2793.3 L186.6 2793.3 L192.6 2793.3 L198.6 2793.3 L204.6 2793.3 L210.6 2793.3 L216.6 2793.3 L222.6 2793.3 L228.6 2793.3 L234.6 2793.3 L240.6 2793.3 L246.6 2793.3 L252.6 2793.3 L258.6 2793.3 L264.6 2793.3 L270.6 2793.3 L276.6 2793.3 L282.6 2793.2 L288.6 2793.2 L294.6 2793.2 L300.6 2793.2 L306.6 2793.2 L312.6 2793.2 L318.6 2793.2 L324.6 2793.2 L330.6 2793.2 L336.6 2793.2 L342.6 2793.2 L348.6 2793.2 L354.6 2793.2 L360.6 2793.2 L366.6 2793.2 L372.6 2793.2 L378.6 2793.2 L384.6 2793.2 L390.6 2793.2 L396.6 2793.2 L402.6 2793.2 L408.6 2793.2 L414.6 2793.2 L420.6 2793.2 L426.6 2793.1 L432.6 2793.1 L438.6 2793.1 L444.6 2793.1 L450.6 2793.1 L456.6 2793.1 L462.6 2793.1 L468.6 2793.1 L474.6 2793.1 L480.6 2793.1 L486.6 2793.1 L492.6 2793.1 L498.6 2793.1 L504.6 2793.1 L510.6 2793.1 L516.6 2793 L522.6 2793 L528.6 2793 L534.6 2793 L540.6 2793 L546.6 2793 L552.6 2793 L558.6 2793 L564.6 2793 L570.6 2793 L576.6 2792.9 L582.6 2792.9 L588.6 2792.9 L594.6 2792.9 L600.6 2792.9 L606.6 2792.9 L612.6 2792.9 L618.6 2792.8 L624.6 2792.8 L630.6 2792.8 L636.6 2792.8 L642.6 2792.7 L648.6 2792.7 L654.6 2792.7 L660.6 2792.6 L666.6 2792.6 L672.6 2792.6 L678.6 2792.5 L684.6 2792.5 L690.6 2792.4 L696.6 2792.3 L702.6 2792.3 L708.6 2792.2 L714.6 2792.1 L720.6 2792 L726.6 2791.8 L732.6 2791.7 L738.6 2791.5 L744.6 2791.4 L750.6 2791.2 L756.6 2790.9 L762.6 2790.7 L768.6 2790.4 L774.6 2790.1 L780.6 2789.8 L786.6 2789.4 L792.6 2788.9 L798.6 2788.4 L804.6 2787.9 L810.6 2787.3 L816.6 2786.7 L822.6 2785.9 L828.6 2785.1 L834.6 2784.3 L840.6 2783.3 L846.6 2782.2 L852.6 2781.1 L858.6 2779.9 L864.6 2778.5 L870.6 2777 L876.6 2775.4 L882.6 2773.7 L888.6 2771.9 L894.6 2769.9 L900.6 2767.8 L906.6 2765.5 L912.6 2763.1 L918.6 2760.6 L924.6 2757.9 L930.6 2755 L936.6 2752 L942.6 2748.8 L948.6 2745.5 L954.6 2742 L960.6 2738.4 L966.6 2734.6 L972.6 2730.7 L978.6 2726.7 L984.6 2722.6 L990.6 2718.3 L996.6 2714 L1002.6 2709.6 L1008.6 2705.1 L1014.6 2700.5 L1020.6 2695.9 L1026.6 2691.3 L1032.6 2686.7 L1038.6 2682.1 L1044.6 2677.5 L1050.6 2673.1 L1056.6 2668.6 L1062.6 2664.3 L1068.6 2660.2 L1074.6 2656.1 L1080.6 2652.3 L1086.6 2648.6 L1092.6 2645.2 L1098.6 2642 L1104.6 2639 L1110.6 2636.3 L1116.6 2633.9 L1122.6 2631.9 L1128.6 2630.1 L1134.6 2628.7 L1140.6 2627.6 L1146.6 2626.9 L1152.6 2626.5 L1158.6 2626.5 L1164.6 2626.9 L1170.6 2627.6 L1176.6 2628.6 L1182.6 2630 L1188.6 2631.7 L1194.6 2633.8 L1200.6 2636.1 L1206.6 2638.7 L1212.6 2641.6 L1218.6 2644.8 L1224.6 2648.1 L1230.6 2651.7 L1236.6 2655.5 L1242.6 2659.5 L1248.6 2663.6 L1254.6 2667.8 L1260.6 2672.2 L1266.6 2676.6 L1272.6 2681.1 L1278.6 2685.6 L1284.6 2690.2 L1290.6 2694.7 L1296.6 2699.3 L1302.6 2703.8 L1308.6 2708.2 L1314.6 2712.6 L1320.6 2717 L1326.6 2721.2 L1332.6 2725.3 L1338.6 2729.3 L1344.6 2733.2 L1350.6 2737 L1356.6 2740.6 L1362.6 2744.1 L1368.6 2747.5 L1374.6 2750.7 L1380.6 2753.7 L1386.6 2756.6 L1392.6 2759.3 L1398.6 2761.9 L1404.6 2764.4 L1410.6 2766.7 L1416.6 2768.9 L1422.6 2770.9 L1428.6 2772.8 L1434.6 2774.5 L1440.6 2776.2 L1446.6 2777.7 L1452.6 2779.1 L1458.6 2780.4 L1464.6 2781.6 L1470.6 2782.7 L1476.6 2783.7 L1482.6 2784.6 L1488.6 2785.4 L1494.6 2786.2 L1500.6 2786.9 L1506.6 2787.5 L1512.6 2788.1 L1518.6 2788.6 L1524.6 2789.1 L1530.6 2789.5 L1536.6 2789.8 L1542.6 2790.2 L1548.6 2790.5 L1554.6 2790.8 L1560.6 2791 L1566.6 2791.2 L1572.6 2791.4 L1578.6 2791.6 L1584.6 2791.7 L1590.6 2791.9 L1596.6 2792 L1602.6 2792.1 L1608.6 2792.2 L1614.6 2792.3 L1620.6 2792.3 L1626.6 2792.4 L1632.6 2792.5 L1638.6 2792.5 L1644.6 2792.6 L1650.6 2792.6 L1656.6 2792.6 L1662.6 2792.7 L1668.6 2792.7 L1674.6 2792.7 L1680.6 2792.8 L1686.6 2792.8 L1692.6 2792.8 L1698.6 2792.8 L1704.6 2792.9 L1710.6 2792.9 L1716.6 2792.9 L1722.6 2792.9 L1728.6 2792.9 L1734.6 2792.9 L1740.6 2792.9 L1746.6 2793 L1752.6 2793 L1758.6 2793 L1764.6 2793 L1770.6 2793 L1776.6 2793 L1782.6 2793 L1788.6 2793 L1794.6 2793 L1800.6 2793 L1806.6 2793 L1812.6 2793.1 L1818.6 2793.1 L1824.6 2793.1 L1830.6 2793.1 L1836.6 2793.1 L1842.6 2793.1 L1848.6 2793.1 L1854.6 2793.1 L1860.6 2793.1 L1866.6 2793.1 L1872.6 2793.1 L1878.6 2793.1 L1884.6 2793.1 L1890.6 2793.1 L1894 2793.1" fill="none" stroke="#00ff00" stroke-width="11" stroke-linejoin="round"/>
<path d="M132.6 2792.8 L138.6 2792.8 L144.6 2792.8 L150.6 2792.8 L156.6 2792.8 L162.6 2792.7 L168.6 2792.7 L174.6 2792.7 L180.6 2792.7 L186.6 2792.7 L192.6 2792.7 L198.6 2792.7 L204.6 2792.7 L210.6 2792.7 L216.6 2792.7 L222.6 2792.6 L228.6 2792.6 L234.6 2792.6 L240.6 2792.6 L246.6 2792.6 L252.6 2792.5 L258.6 2792.5 L264.6 2792.5 L270.6 2792.5 L276.6 2792.4 L282.6 2792.4 L288.6 2792.4 L294.6 2792.3 L300.6 2792.3 L306.6 2792.2 L312.6 2792.2 L318.6 2792.1 L324.6 2792.1 L330.6 2792 L336.6 2792 L342.6 2791.9 L348.6 2791.8 L354.6 2791.7 L360.6 2791.6 L366.6 2791.5 L372.6 2791.4 L378.6 2791.3 L384.6 2791.2 L390.6 2791 L396.6 2790.9 L402.6 2790.8 L408.6 2790.6 L414.6 2790.4 L420.6 2790.2 L426.6 2790 L432.6 2789.8 L438.6 2789.6 L444.6 2789.4 L450.6 2789.1 L456.6 2788.8 L462.6 2788.5 L468.6 2788.2 L474.6 2787.9 L480.6 2787.6 L486.6 2787.2 L492.6 2786.8 L498.6 2786.5 L504.6 2786 L510.6 2785.6 L516.6 2785.1 L522.6 2784.7 L528.6 2784.2 L534.6 2783.6 L540.6 2783.1 L546.6 2782.5 L552.6 2781.9 L558.6 2781.3 L564.6 2780.7 L570.6 2780 L576.6 2779.3 L582.6 2778.6 L588.6 2777.8 L594.6 2777.1 L600.6 2776.3 L606.6 2775.5 L612.6 2774.7 L618.6 2773.8 L624.6 2772.9 L630.6 2772.1 L636.6 2771.1 L642.6 2770.2 L648.6 2769.3 L654.6 2768.3 L660.6 2767.4 L666.6 2766.4 L672.6 2765.4 L678.6 2764.4 L684.6 2763.4 L690.6 2762.3 L696.6 2761.3 L702.6 2760.3 L708.6 2759.3 L714.6 2758.2 L720.6 2757.2 L726.6 2756.2 L732.6 2755.2 L738.6 2754.2 L744.6 2753.2 L750.6 2752.3 L756.6 2751.3 L762.6 2750.4 L768.6 2749.5 L774.6 2748.6 L780.6 2747.8 L786.6 2747 L792.6 2746.2 L798.6 2745.4 L804.6 2744.7 L810.6 2744 L816.6 2743.4 L822.6 2742.8 L828.6 2742.3 L834.6 2741.8 L840.6 2741.3 L846.6 2740.9 L852.6 2740.6 L858.6 2740.3 L864.6 2740 L870.6 2739.8 L876.6 2739.7 L882.6 2739.6 L888.6 2739.6 L894.6 2739.6 L900.6 2739.7 L906.6 2739.8 L912.6 2739.9 L918.6 2740.1 L924.6 2740.3 L930.6 2740.5 L936.6 2740.8 L942.6 2741.1 L948.6 2741.5 L954.6 2741.8 L960.6 2742.3 L966.6 2742.7 L972.6 2743.2 L978.6 2743.7 L984.6 2744.2 L990.6 2744.8 L996.6 2745.4 L1002.6 2746 L1008.6 2746.6 L1014.6 2747.3 L1020.6 2747.9 L1026.6 2748.6 L1032.6 2749.3 L1038.6 2750.1 L1044.6 2750.8 L1050.6 2751.6 L1056.6 2752.4 L1062.6 2753.2 L1068.6 2754 L1074.6 2754.8 L1080.6 2755.6 L1086.6 2756.4 L1092.6 2757.2 L1098.6 2758.1 L1104.6 2758.9 L1110.6 2759.7 L1116.6 2760.6 L1122.6 2761.4 L1128.6 2762.3 L1134.6 2763.1 L1140.6 2763.9 L1146.6 2764.7 L1152.6 2765.6 L1158.6 2766.4 L1164.6 2767.2 L1170.6 2768 L1176.6 2768.8 L1182.6 2769.6 L1188.6 2770.3 L1194.6 2771.1 L1200.6 2771.8 L1206.6 2772.6 L1212.6 2773.3 L1218.6 2774 L1224.6 2774.7 L1230.6 2775.4 L1236.6 2776 L1242.6 2776.7 L1248.6 2777.3 L1254.6 2777.9 L1260.6 2778.5 L1266.6 2779.1 L1272.6 2779.7 L1278.6 2780.2 L1284.6 2780.8 L1290.6 2781.3 L1296.6 2781.8 L1302.6 2782.3 L1308.6 2782.8 L1314.6 2783.2 L1320.6 2783.7 L1326.6 2784.1 L1332.6 2784.5 L1338.6 2784.9 L1344.6 2785.3 L1350.6 2785.7 L1356.6 2786 L1362.6 2786.4 L1368.6 2786.7 L1374.6 2787 L1380.6 2787.3 L1386.6 2787.6 L1392.6 2787.9 L1398.6 2788.2 L1404.6 2788.4 L1410.6 2788.7 L1416.6 2788.9 L1422.6 2789.1 L1428.6 2789.3 L1434.6 2789.5 L1440.6 2789.7 L1446.6 2789.9 L1452.6 2790.1 L1458.6 2790.2 L1464.6 2790.4 L1470.6 2790.5 L1476.6 2790.7 L1482.6 2790.8 L1488.6 2790.9 L1494.6 2791 L1500.6 2791.1 L1506.6 2791.2 L1512.6 2791.3 L1518.6 2791.4 L1524.6 2791.5 L1530.6 2791.6 L1536.6 2791.7 L1542.6 2791.7 L1548.6 2791.8 L1554.6 2791.9 L1560.6 2791.9 L1566.6 2792 L1572.6 2792.1 L1578.6 2792.1 L1584.6 2792.1 L1590.6 2792.2 L1596.6 2792.2 L1602.6 2792.3 L1608.6 2792.3 L1614.6 2792.3 L1620.6 2792.4 L1626.6 2792.4 L1632.6 2792.4 L1638.6 2792.5 L1644.6 2792.5 L1650.6 2792.5 L1656.6 2792.5 L1662.6 2792.5 L1668.6 2792.6 L1674.6 2792.6 L1680.6 2792.6 L1686.6 2792.6 L1692.6 2792.6 L1698.6 2792.6 L1704.6 2792.6 L1710.6 2792.7 L1716.6 2792.7 L1722.6 2792.7 L1728.6 2792.7 L1734.6 2792.7 L1740.6 2792.7 L1746.6 2792.7 L1752.6 2792.7 L1758.6 2792.7 L1764.6 2792.7 L1770.6 2792.7 L1776.6 2792.7 L1782.6 2792.8 L1788.6 2792.8 L1794.6 2792.8 L1800.6 2792.8 L1806.6 2792.8 L1812.6 2792.8 L1818.6 2792.8 L1824.6 2792.8 L1830.6 2792.8 L1836.6 2792.8 L1842.6 2792.8 L1848.6 2792.8 L1854.6 2792.8 L1860.6 2792.8 L1866.6 2792.8 L1872.6 2792.8 L1878.6 2792.8 L1884.6 2792.8 L1890.6 2792.8 L1894 2792.8" fill="none" stroke="#ff8080" stroke-width="10.7" stroke-linejoin="round"/>
<path d="M132.6 2792.4 L136.6 2792.4 L140.6 2792.4 L144.6 2792.4 L148.6 2792.4 L152.6 2792.4 L156.6 2792.4 L160.6 2792.4 L164.6 2792.4 L168.6 2792.4 L172.6 2792.4 L176.6 2792.4 L180.6 2792.3 L184.6 2792.3 L188.6 2792.3 L192.6 2792.3 L196.6 2792.3 L200.6 2792.3 L204.6 2792.3 L208.6 2792.3 L212.6 2792.3 L216.6 2792.3 L220.6 2792.2 L224.6 2792.2 L228.6 2792.2 L232.6 2792.2 L236.6 2792.2 L240.6 2792.2 L244.6 2792.2 L248.6 2792.1 L252.6 2792.1 L256.6 2792.1 L260.6 2792.1 L264.6 2792.1 L268.6 2792 L272.6 2792 L276.6 2792 L280.6 2792 L284.6 2791.9 L288.6 2791.9 L292.6 2791.9 L296.6 2791.8 L300.6 2791.8 L304.6 2791.8 L308.6 2791.7 L312.6 2791.7 L316.6 2791.7 L320.6 2791.6 L324.6 2791.6 L328.6 2791.5 L332.6 2791.5 L336.6 2791.4 L340.6 2791.4 L344.6 2791.3 L348.6 2791.3 L352.6 2791.2 L356.6 2791.1 L360.6 2791.1 L364.6 2791 L368.6 2790.9 L372.6 2790.9 L376.6 2790.8 L380.6 2790.7 L384.6 2790.6 L388.6 2790.5 L392.6 2790.4 L396.6 2790.3 L400.6 2790.2 L404.6 2790.1 L408.6 2790 L412.6 2789.9 L416.6 2789.7 L420.6 2789.6 L424.6 2789.5 L428.6 2789.3 L432.6 2789.2 L436.6 2789 L440.6 2788.9 L444.6 2788.7 L448.6 2788.5 L452.6 2788.3 L456.6 2788.2 L460.6 2788 L464.6 2787.8 L468.6 2787.5 L472.6 2787.3 L476.6 2787.1 L480.6 2786.9 L484.6 2786.6 L488.6 2786.4 L492.6 2786.1 L496.6 2785.8 L500.6 2785.6 L504.6 2785.3 L508.6 2785 L512.6 2784.7 L516.6 2784.4 L520.6 2784 L524.6 2783.7 L528.6 2783.3 L532.6 2783 L536.6 2782.6 L540.6 2782.2 L544.6 2781.9 L548.6 2781.5 L552.6 2781 L556.6 2780.6 L560.6 2780.2 L564.6 2779.7 L568.6 2779.3 L572.6 2778.8 L576.6 2778.4 L580.6 2777.9 L584.6 2777.4 L588.6 2776.9 L592.6 2776.4 L596.6 2775.8 L600.6 2775.3 L604.6 2774.7 L608.6 2774.2 L612.6 2773.6 L616.6 2773 L620.6 2772.4 L624.6 2771.8 L628.6 2771.2 L632.6 2770.6 L636.6 2770 L640.6 2769.3 L644.6 2768.7 L648.6 2768 L652.6 2767.4 L656.6 2766.7 L660.6 2766 L664.6 2765.3 L668.6 2764.7 L672.6 2764 L676.6 2763.2 L680.6 2762.5 L684.6 2761.8 L688.6 2761.1 L692.6 2760.4 L696.6 2759.6 L700.6 2758.9 L704.6 2758.1 L708.6 2757.4 L712.6 2756.6 L716.6 2755.9 L720.6 2755.1 L724.6 2754.4 L728.6 2753.6 L732.6 2752.8 L736.6 2752.1 L740.6 2751.3 L744.6 2750.5 L748.6 2749.7 L752.6 2748.9 L756.6 2748.1 L760.6 2747.4 L764.6 2746.6 L768.6 2745.8 L772.6 2745 L776.6 2744.2 L780.6 2743.4 L784.6 2742.5 L788.6 2741.7 L792.6 2740.9 L796.6 2740.1 L800.6 2739.2 L804.6 2738.4 L808.6 2737.5 L812.6 2736.7 L816.6 2735.8 L820.6 2734.9 L824.6 2734 L828.6 2733.1 L832.6 2732.2 L836.6 2731.2 L840.6 2730.3 L844.6 2729.3 L848.6 2728.3 L852.6 2727.3 L856.6 2726.3 L860.6 2725.2 L864.6 2724.1 L868.6 2723 L872.6 2721.9 L876.6 2720.7 L880.6 2719.5 L884.6 2718.3 L888.6 2717 L892.6 2715.7 L896.6 2714.3 L900.6 2712.9 L904.6 2711.5 L908.6 2710 L912.6 2708.4 L916.6 2706.8 L920.6 2705.2 L924.6 2703.5 L928.6 2701.7 L932.6 2699.9 L936.6 2698.1 L940.6 2696.1 L944.6 2694.2 L948.6 2692.1 L952.6 2690 L956.6 2687.9 L960.6 2685.7 L964.6 2683.5 L968.6 2681.2 L972.6 2678.8 L976.6 2676.4 L980.6 2674 L984.6 2671.5 L988.6 2668.9 L992.6 2666.4 L996.6 2663.8 L1000.6 2661.1 L1004.6 2658.4 L1008.6 2655.7 L1012.6 2652.9 L1016.6 2650.2 L1020.6 2647.4 L1024.6 2644.6 L1028.6 2641.7 L1032.6 2638.9 L1036.6 2636 L1040.6 2633.2 L1044.6 2630.3 L1048.6 2627.4 L1052.6 2624.5 L1056.6 2621.7 L1060.6 2618.8 L1064.6 2615.9 L1068.6 2613.1 L1072.6 2610.2 L1076.6 2607.4 L1080.6 2604.6 L1084.6 2601.8 L1088.6 2599.1 L1092.6 2596.3 L1096.6 2593.6 L1100.6 2590.9 L1104.6 2588.2 L1108.6 2585.5 L1112.6 2582.9 L1116.6 2580.3 L1120.6 2577.7 L1124.6 2575.1 L1128.6 2572.5 L1132.6 2570 L1136.6 2567.5 L1140.6 2564.9 L1144.6 2562.4 L1148.6 2560 L1152.6 2557.5 L1156.6 2555 L1160.6 2552.6 L1164.6 2550.1 L1168.6 2547.7 L1172.6 2545.3 L1176.6 2542.9 L1180.6 2540.4 L1184.6 2538 L1188.6 2535.6 L1192.6 2533.3 L1196.6 2530.9 L1200.6 2528.5 L1204.6 2526.2 L1208.6 2523.9 L1212.6 2521.7 L1216.6 2519.4 L1220.6 2517.3 L1224.6 2515.1 L1228.6 2513.1 L1232.6 2511.1 L1236.6 2509.2 L1240.6 2507.4 L1244.6 2505.7 L1248.6 2504.1 L1252.6 2502.7 L1256.6 2501.3 L1260.6 2500.1 L1264.6 2499.1 L1268.6 2498.3 L1272.6 2497.6 L1276.6 2497.1 L1280.6 2496.8 L1284.6 2496.7 L1288.6 2496.8 L1292.6 2497.2 L1296.6 2497.8 L1300.6 2498.6 L1304.6 2499.7 L1308.6 2501 L1312.6 2502.5 L1316.6 2504.3 L1320.6 2506.3 L1324.6 2508.6 L1328.6 2511.1 L1332.6 2513.8 L1336.6 2516.8 L1340.6 2519.9 L1344.6 2523.3 L1348.6 2526.9 L1352.6 2530.6 L1356.6 2534.5 L1360.6 2538.5 L1364.6 2542.7 L1368.6 2547 L1372.6 2551.4 L1376.6 2555.8 L1380.6 2560.3 L1384.6 2564.9 L1388.6 2569.5 L1392.6 2574.1 L1396.6 2578.7 L1400.6 2583.4 L1404.6 2587.9 L1408.6 2592.5 L1412.6 2597 L1416.6 2601.4 L1420.6 2605.8 L1424.6 2610.1 L1428.6 2614.3 L1432.6 2618.5 L1436.6 2622.5 L1440.6 2626.5 L1444.6 2630.4 L1448.6 2634.2 L1452.6 2637.9 L1456.6 2641.5 L1460.6 2645.1 L1464.6 2648.5 L1468.6 2651.9 L1472.6 2655.3 L1476.6 2658.5 L1480.6 2661.8 L1484.6 2664.9 L1488.6 2668 L1492.6 2671.1 L1496.6 2674.2 L1500.6 2677.2 L1504.6 2680.2 L1508.6 2683.2 L1512.6 2686.2 L1516.6 2689.3 L1520.6 2692.3 L1524.6 2695.3 L1528.6 2698.3 L1532.6 2701.3 L1536.6 2704.2 L1540.6 2707.2 L1544.6 2710.2 L1548.6 2713.1 L1552.6 2716 L1556.6 2718.9 L1560.6 2721.8 L1564.6 2724.6 L1568.6 2727.4 L1572.6 2730.2 L1576.6 2732.9 L1580.6 2735.5 L1584.6 2738.2 L1588.6 2740.7 L1592.6 2743.2 L1596.6 2745.6 L1600.6 2748 L1604.6 2750.3 L1608.6 2752.5 L1612.6 2754.7 L1616.6 2756.8 L1620.6 2758.8 L1624.6 2760.7 L1628.6 2762.6 L1632.6 2764.4 L1636.6 2766.1 L1640.6 2767.7 L1644.6 2769.3 L1648.6 2770.7 L1652.6 2772.1 L1656.6 2773.5 L1660.6 2774.7 L1664.6 2775.9 L1668.6 2777 L1672.6 2778.1 L1676.6 2779 L1680.6 2780 L1684.6 2780.8 L1688.6 2781.6 L1692.6 2782.4 L1696.6 2783.1 L1700.6 2783.7 L1704.6 2784.3 L1708.6 2784.9 L1712.6 2785.4 L1716.6 2785.9 L1720.6 2786.3 L1724.6 2786.7 L1728.6 2787.1 L1732.6 2787.4 L1736.6 2787.7 L1740.6 2788 L1744.6 2788.3 L1748.6 2788.5 L1752.6 2788.8 L1756.6 2789 L1760.6 2789.2 L1764.6 2789.3 L1768.6 2789.5 L1772.6 2789.6 L1776.6 2789.8 L1780.6 2789.9 L1784.6 2790 L1788.6 2790.1 L1792.6 2790.2 L1796.6 2790.3 L1800.6 2790.4 L1804.6 2790.4 L1808.6 2790.5 L1812.6 2790.6 L1816.6 2790.6 L1820.6 2790.7 L1824.6 2790.7 L1828.6 2790.8 L1832.6 2790.8 L1836.6 2790.9 L1840.6 2790.9 L1844.6 2791 L1848.6 2791 L1852.6 2791 L1856.6 2791.1 L1860.6 2791.1 L1864.6 2791.1 L1868.6 2791.2 L1872.6 2791.2 L1876.6 2791.2 L1880.6 2791.3 L1884.6 2791.3 L1888.6 2791.3 L1892.6 2791.3 L1894 2791.4" fill="none" stroke="#000" stroke-width="3.1"/>
<path d="M134.9 2786.2 l5.1 6.2 l-5.1 6.2 l-5.1 -6.2 z M152.5 2786.2 l5.1 6.2 l-5.1 6.2 l-5.1 -6.2 z M170.2 2786.2 l5.1 6.2 l-5.1 6.2 l-5.1 -6.2 z M187.8 2786.1 l5.1 6.2 l-5.1 6.2 l-5.1 -6.2 z M205.4 2786.1 l5.1 6.2 l-5.1 6.2 l-5.1 -6.2 z M223.1 2786 l5.1 6.2 l-5.1 6.2 l-5.1 -6.2 z M240.7 2786 l5.1 6.2 l-5.1 6.2 l-5.1 -6.2 z M258.3 2785.9 l5.1 6.2 l-5.1 6.2 l-5.1 -6.2 z M275.9 2785.8 l5.1 6.2 l-5.1 6.2 l-5.1 -6.2 z M293.6 2785.7 l5.1 6.2 l-5.1 6.2 l-5.1 -6.2 z M311.2 2785.5 l5.1 6.2 l-5.1 6.2 l-5.1 -6.2 z M328.8 2785.3 l5.1 6.2 l-5.1 6.2 l-5.1 -6.2 z M346.5 2785.1 l5.1 6.2 l-5.1 6.2 l-5.1 -6.2 z M364.1 2784.8 l5.1 6.2 l-5.1 6.2 l-5.1 -6.2 z M381.7 2784.5 l5.1 6.2 l-5.1 6.2 l-5.1 -6.2 z M399.4 2784 l5.1 6.2 l-5.1 6.2 l-5.1 -6.2 z M417 2783.5 l5.1 6.2 l-5.1 6.2 l-5.1 -6.2 z M434.6 2782.9 l5.1 6.2 l-5.1 6.2 l-5.1 -6.2 z M452.2 2782.2 l5.1 6.2 l-5.1 6.2 l-5.1 -6.2 z M469.9 2781.3 l5.1 6.2 l-5.1 6.2 l-5.1 -6.2 z M487.5 2780.2 l5.1 6.2 l-5.1 6.2 l-5.1 -6.2 z M505.1 2779 l5.1 6.2 l-5.1 6.2 l-5.1 -6.2 z M522.8 2777.6 l5.1 6.2 l-5.1 6.2 l-5.1 -6.2 z M540.4 2776.1 l5.1 6.2 l-5.1 6.2 l-5.1 -6.2 z M558 2774.3 l5.1 6.2 l-5.1 6.2 l-5.1 -6.2 z M575.6 2772.3 l5.1 6.2 l-5.1 6.2 l-5.1 -6.2 z M593.3 2770.1 l5.1 6.2 l-5.1 6.2 l-5.1 -6.2 z M610.9 2767.6 l5.1 6.2 l-5.1 6.2 l-5.1 -6.2 z M628.5 2765 l5.1 6.2 l-5.1 6.2 l-5.1 -6.2 z M646.2 2762.2 l5.1 6.2 l-5.1 6.2 l-5.1 -6.2 z M663.8 2759.3 l5.1 6.2 l-5.1 6.2 l-5.1 -6.2 z M681.4 2756.2 l5.1 6.2 l-5.1 6.2 l-5.1 -6.2 z M699.1 2753 l5.1 6.2 l-5.1 6.2 l-5.1 -6.2 z M716.7 2749.7 l5.1 6.2 l-5.1 6.2 l-5.1 -6.2 z M734.3 2746.3 l5.1 6.2 l-5.1 6.2 l-5.1 -6.2 z M751.9 2742.9 l5.1 6.2 l-5.1 6.2 l-5.1 -6.2 z M769.6 2739.4 l5.1 6.2 l-5.1 6.2 l-5.1 -6.2 z M787.2 2735.8 l5.1 6.2 l-5.1 6.2 l-5.1 -6.2 z M804.8 2732.1 l5.1 6.2 l-5.1 6.2 l-5.1 -6.2 z M822.5 2728.3 l5.1 6.2 l-5.1 6.2 l-5.1 -6.2 z M840.1 2724.2 l5.1 6.2 l-5.1 6.2 l-5.1 -6.2 z M857.7 2719.8 l5.1 6.2 l-5.1 6.2 l-5.1 -6.2 z M875.4 2714.9 l5.1 6.2 l-5.1 6.2 l-5.1 -6.2 z M893 2709.4 l5.1 6.2 l-5.1 6.2 l-5.1 -6.2 z M910.6 2703 l5.1 6.2 l-5.1 6.2 l-5.1 -6.2 z M928.2 2695.7 l5.1 6.2 l-5.1 6.2 l-5.1 -6.2 z M945.9 2687.3 l5.1 6.2 l-5.1 6.2 l-5.1 -6.2 z M963.5 2677.9 l5.1 6.2 l-5.1 6.2 l-5.1 -6.2 z M981.1 2667.4 l5.1 6.2 l-5.1 6.2 l-5.1 -6.2 z M998.8 2656.1 l5.1 6.2 l-5.1 6.2 l-5.1 -6.2 z M1016.4 2644.1 l5.1 6.2 l-5.1 6.2 l-5.1 -6.2 z M1034 2631.7 l5.1 6.2 l-5.1 6.2 l-5.1 -6.2 z M1051.7 2619 l5.1 6.2 l-5.1 6.2 l-5.1 -6.2 z M1069.3 2606.4 l5.1 6.2 l-5.1 6.2 l-5.1 -6.2 z M1086.9 2594 l5.1 6.2 l-5.1 6.2 l-5.1 -6.2 z M1104.5 2582 l5.1 6.2 l-5.1 6.2 l-5.1 -6.2 z M1122.2 2570.4 l5.1 6.2 l-5.1 6.2 l-5.1 -6.2 z M1139.8 2559.2 l5.1 6.2 l-5.1 6.2 l-5.1 -6.2 z M1157.4 2548.3 l5.1 6.2 l-5.1 6.2 l-5.1 -6.2 z M1175.1 2537.6 l5.1 6.2 l-5.1 6.2 l-5.1 -6.2 z M1192.7 2527 l5.1 6.2 l-5.1 6.2 l-5.1 -6.2 z M1210.3 2516.7 l5.1 6.2 l-5.1 6.2 l-5.1 -6.2 z M1228 2507.2 l5.1 6.2 l-5.1 6.2 l-5.1 -6.2 z M1245.6 2499.1 l5.1 6.2 l-5.1 6.2 l-5.1 -6.2 z M1263.2 2493.3 l5.1 6.2 l-5.1 6.2 l-5.1 -6.2 z M1280.9 2490.6 l5.1 6.2 l-5.1 6.2 l-5.1 -6.2 z M1298.5 2491.9 l5.1 6.2 l-5.1 6.2 l-5.1 -6.2 z M1316.1 2497.8 l5.1 6.2 l-5.1 6.2 l-5.1 -6.2 z M1333.7 2508.4 l5.1 6.2 l-5.1 6.2 l-5.1 -6.2 z M1351.4 2523.2 l5.1 6.2 l-5.1 6.2 l-5.1 -6.2 z M1369 2541.2 l5.1 6.2 l-5.1 6.2 l-5.1 -6.2 z M1386.6 2561 l5.1 6.2 l-5.1 6.2 l-5.1 -6.2 z M1404.3 2581.3 l5.1 6.2 l-5.1 6.2 l-5.1 -6.2 z M1421.9 2601 l5.1 6.2 l-5.1 6.2 l-5.1 -6.2 z M1439.5 2619.2 l5.1 6.2 l-5.1 6.2 l-5.1 -6.2 z M1457.2 2635.8 l5.1 6.2 l-5.1 6.2 l-5.1 -6.2 z M1474.8 2650.9 l5.1 6.2 l-5.1 6.2 l-5.1 -6.2 z M1492.4 2664.8 l5.1 6.2 l-5.1 6.2 l-5.1 -6.2 z M1510 2678.1 l5.1 6.2 l-5.1 6.2 l-5.1 -6.2 z M1527.7 2691.4 l5.1 6.2 l-5.1 6.2 l-5.1 -6.2 z M1545.3 2704.5 l5.1 6.2 l-5.1 6.2 l-5.1 -6.2 z M1562.9 2717.2 l5.1 6.2 l-5.1 6.2 l-5.1 -6.2 z M1580.6 2729.3 l5.1 6.2 l-5.1 6.2 l-5.1 -6.2 z M1598.2 2740.4 l5.1 6.2 l-5.1 6.2 l-5.1 -6.2 z M1615.8 2750.2 l5.1 6.2 l-5.1 6.2 l-5.1 -6.2 z M1633.5 2758.5 l5.1 6.2 l-5.1 6.2 l-5.1 -6.2 z M1651.1 2765.4 l5.1 6.2 l-5.1 6.2 l-5.1 -6.2 z M1668.7 2770.8 l5.1 6.2 l-5.1 6.2 l-5.1 -6.2 z M1686.3 2775 l5.1 6.2 l-5.1 6.2 l-5.1 -6.2 z M1704 2778 l5.1 6.2 l-5.1 6.2 l-5.1 -6.2 z M1721.6 2780.2 l5.1 6.2 l-5.1 6.2 l-5.1 -6.2 z M1739.2 2781.7 l5.1 6.2 l-5.1 6.2 l-5.1 -6.2 z M1756.9 2782.8 l5.1 6.2 l-5.1 6.2 l-5.1 -6.2 z M1774.5 2783.5 l5.1 6.2 l-5.1 6.2 l-5.1 -6.2 z M1792.1 2784 l5.1 6.2 l-5.1 6.2 l-5.1 -6.2 z M1809.8 2784.3 l5.1 6.2 l-5.1 6.2 l-5.1 -6.2 z M1827.4 2784.6 l5.1 6.2 l-5.1 6.2 l-5.1 -6.2 z M1845 2784.8 l5.1 6.2 l-5.1 6.2 l-5.1 -6.2 z M1862.6 2784.9 l5.1 6.2 l-5.1 6.2 l-5.1 -6.2 z M1880.3 2785.1 l5.1 6.2 l-5.1 6.2 l-5.1 -6.2 z" fill="#fff" stroke="#000" stroke-width="2.1" stroke-linejoin="miter"/>
</g>
<g clip-path="url(#cpb1)">
<path d="M132.6 2497 H1894" stroke="#0000ff" stroke-width="12"/>
<path d="M132.6 2495.9 L138.6 2495.9 L144.6 2495.9 L150.6 2495.9 L156.6 2495.9 L162.6 2495.9 L168.6 2495.9 L174.6 2495.9 L180.6 2495.9 L186.6 2495.9 L192.6 2495.9 L198.6 2495.9 L204.6 2495.9 L210.6 2495.9 L216.6 2495.9 L222.6 2495.8 L228.6 2495.8 L234.6 2495.8 L240.6 2495.8 L246.6 2495.8 L252.6 2495.8 L258.6 2495.8 L264.6 2495.8 L270.6 2495.8 L276.6 2495.8 L282.6 2495.8 L288.6 2495.8 L294.6 2495.8 L300.6 2495.8 L306.6 2495.8 L312.6 2495.8 L318.6 2495.8 L324.6 2495.8 L330.6 2495.8 L336.6 2495.8 L342.6 2495.8 L348.6 2495.8 L354.6 2495.8 L360.6 2495.8 L366.6 2495.8 L372.6 2495.8 L378.6 2495.8 L384.6 2495.8 L390.6 2495.8 L396.6 2495.8 L402.6 2495.8 L408.6 2495.8 L414.6 2495.8 L420.6 2495.8 L426.6 2495.8 L432.6 2495.8 L438.6 2495.8 L444.6 2495.8 L450.6 2495.8 L456.6 2495.8 L462.6 2495.8 L468.6 2495.8 L474.6 2495.7 L480.6 2495.7 L486.6 2495.7 L492.6 2495.7 L498.6 2495.7 L504.6 2495.7 L510.6 2495.7 L516.6 2495.7 L522.6 2495.7 L528.6 2495.7 L534.6 2495.7 L540.6 2495.7 L546.6 2495.7 L552.6 2495.7 L558.6 2495.7 L564.6 2495.7 L570.6 2495.7 L576.6 2495.7 L582.6 2495.7 L588.6 2495.7 L594.6 2495.7 L600.6 2495.7 L606.6 2495.7 L612.6 2495.6 L618.6 2495.6 L624.6 2495.6 L630.6 2495.6 L636.6 2495.6 L642.6 2495.6 L648.6 2495.6 L654.6 2495.6 L660.6 2495.6 L666.6 2495.6 L672.6 2495.6 L678.6 2495.6 L684.6 2495.6 L690.6 2495.6 L696.6 2495.5 L702.6 2495.5 L708.6 2495.5 L714.6 2495.5 L720.6 2495.5 L726.6 2495.5 L732.6 2495.5 L738.6 2495.5 L744.6 2495.5 L750.6 2495.5 L756.6 2495.5 L762.6 2495.4 L768.6 2495.4 L774.6 2495.4 L780.6 2495.4 L786.6 2495.4 L792.6 2495.4 L798.6 2495.4 L804.6 2495.3 L810.6 2495.3 L816.6 2495.3 L822.6 2495.3 L828.6 2495.3 L834.6 2495.3 L840.6 2495.3 L846.6 2495.2 L852.6 2495.2 L858.6 2495.2 L864.6 2495.2 L870.6 2495.1 L876.6 2495.1 L882.6 2495.1 L888.6 2495.1 L894.6 2495 L900.6 2495 L906.6 2495 L912.6 2494.9 L918.6 2494.9 L924.6 2494.8 L930.6 2494.8 L936.6 2494.7 L942.6 2494.6 L948.6 2494.5 L954.6 2494.4 L960.6 2494.3 L966.6 2494.2 L972.6 2494 L978.6 2493.8 L984.6 2493.6 L990.6 2493.3 L996.6 2493 L1002.6 2492.7 L1008.6 2492.3 L1014.6 2491.8 L1020.6 2491.3 L1026.6 2490.7 L1032.6 2489.9 L1038.6 2489.1 L1044.6 2488.2 L1050.6 2487.1 L1056.6 2485.9 L1062.6 2484.5 L1068.6 2482.9 L1074.6 2481.1 L1080.6 2479.1 L1086.6 2476.9 L1092.6 2474.4 L1098.6 2471.6 L1104.6 2468.6 L1110.6 2465.2 L1116.6 2461.5 L1122.6 2457.4 L1128.6 2453 L1134.6 2448.3 L1140.6 2443.1 L1146.6 2437.6 L1152.6 2431.6 L1158.6 2425.3 L1164.6 2418.6 L1170.6 2411.6 L1176.6 2404.2 L1182.6 2396.4 L1188.6 2388.4 L1194.6 2380.1 L1200.6 2371.5 L1206.6 2362.7 L1212.6 2353.8 L1218.6 2344.8 L1224.6 2335.7 L1230.6 2326.7 L1236.6 2317.8 L1242.6 2309 L1248.6 2300.4 L1254.6 2292.2 L1260.6 2284.3 L1266.6 2276.8 L1272.6 2269.9 L1278.6 2263.6 L1284.6 2257.9 L1290.6 2252.9 L1296.6 2248.6 L1302.6 2245.2 L1308.6 2242.6 L1314.6 2240.9 L1320.6 2240.1 L1326.6 2240.2 L1332.6 2241.1 L1338.6 2242.9 L1344.6 2245.4 L1350.6 2248.8 L1356.6 2252.9 L1362.6 2257.8 L1368.6 2263.3 L1374.6 2269.4 L1380.6 2276.1 L1386.6 2283.2 L1392.6 2290.8 L1398.6 2298.7 L1404.6 2306.9 L1410.6 2315.4 L1416.6 2324 L1422.6 2332.7 L1428.6 2341.5 L1434.6 2350.2 L1440.6 2358.9 L1446.6 2367.4 L1452.6 2375.8 L1458.6 2384 L1464.6 2391.9 L1470.6 2399.6 L1476.6 2407 L1482.6 2414 L1488.6 2420.8 L1494.6 2427.1 L1500.6 2433.1 L1506.6 2438.8 L1512.6 2444.1 L1518.6 2449 L1524.6 2453.6 L1530.6 2457.8 L1536.6 2461.7 L1542.6 2465.2 L1548.6 2468.5 L1554.6 2471.5 L1560.6 2474.2 L1566.6 2476.6 L1572.6 2478.8 L1578.6 2480.8 L1584.6 2482.5 L1590.6 2484.1 L1596.6 2485.5 L1602.6 2486.7 L1608.6 2487.8 L1614.6 2488.8 L1620.6 2489.6 L1626.6 2490.4 L1632.6 2491 L1638.6 2491.6 L1644.6 2492 L1650.6 2492.5 L1656.6 2492.8 L1662.6 2493.2 L1668.6 2493.4 L1674.6 2493.7 L1680.6 2493.9 L1686.6 2494 L1692.6 2494.2 L1698.6 2494.3 L1704.6 2494.4 L1710.6 2494.5 L1716.6 2494.6 L1722.6 2494.7 L1728.6 2494.8 L1734.6 2494.8 L1740.6 2494.9 L1746.6 2494.9 L1752.6 2495 L1758.6 2495 L1764.6 2495 L1770.6 2495.1 L1776.6 2495.1 L1782.6 2495.1 L1788.6 2495.1 L1794.6 2495.2 L1800.6 2495.2 L1806.6 2495.2 L1812.6 2495.2 L1818.6 2495.2 L1824.6 2495.3 L1830.6 2495.3 L1836.6 2495.3 L1842.6 2495.3 L1848.6 2495.3 L1854.6 2495.3 L1860.6 2495.4 L1866.6 2495.4 L1872.6 2495.4 L1878.6 2495.4 L1884.6 2495.4 L1890.6 2495.4 L1894 2495.4" fill="none" stroke="#0000ff" stroke-width="12" stroke-linejoin="round"/>
<path d="M132.6 2495.9 L138.6 2495.9 L144.6 2495.9 L150.6 2495.9 L156.6 2495.9 L162.6 2495.8 L168.6 2495.8 L174.6 2495.8 L180.6 2495.8 L186.6 2495.8 L192.6 2495.8 L198.6 2495.8 L204.6 2495.8 L210.6 2495.8 L216.6 2495.8 L222.6 2495.8 L228.6 2495.8 L234.6 2495.8 L240.6 2495.8 L246.6 2495.8 L252.6 2495.8 L258.6 2495.8 L264.6 2495.8 L270.6 2495.8 L276.6 2495.8 L282.6 2495.8 L288.6 2495.8 L294.6 2495.8 L300.6 2495.8 L306.6 2495.8 L312.6 2495.8 L318.6 2495.8 L324.6 2495.8 L330.6 2495.8 L336.6 2495.8 L342.6 2495.8 L348.6 2495.8 L354.6 2495.8 L360.6 2495.8 L366.6 2495.8 L372.6 2495.8 L378.6 2495.8 L384.6 2495.8 L390.6 2495.8 L396.6 2495.8 L402.6 2495.8 L408.6 2495.8 L414.6 2495.8 L420.6 2495.8 L426.6 2495.8 L432.6 2495.8 L438.6 2495.8 L444.6 2495.8 L450.6 2495.8 L456.6 2495.8 L462.6 2495.8 L468.6 2495.8 L474.6 2495.7 L480.6 2495.7 L486.6 2495.7 L492.6 2495.7 L498.6 2495.7 L504.6 2495.7 L510.6 2495.7 L516.6 2495.7 L522.6 2495.7 L528.6 2495.7 L534.6 2495.7 L540.6 2495.7 L546.6 2495.7 L552.6 2495.7 L558.6 2495.7 L564.6 2495.7 L570.6 2495.7 L576.6 2495.7 L582.6 2495.7 L588.6 2495.7 L594.6 2495.7 L600.6 2495.7 L606.6 2495.7 L612.6 2495.7 L618.6 2495.7 L624.6 2495.7 L630.6 2495.7 L636.6 2495.6 L642.6 2495.6 L648.6 2495.6 L654.6 2495.6 L660.6 2495.6 L666.6 2495.6 L672.6 2495.6 L678.6 2495.6 L684.6 2495.6 L690.6 2495.6 L696.6 2495.6 L702.6 2495.6 L708.6 2495.6 L714.6 2495.6 L720.6 2495.6 L726.6 2495.6 L732.6 2495.6 L738.6 2495.6 L744.6 2495.5 L750.6 2495.5 L756.6 2495.5 L762.6 2495.5 L768.6 2495.5 L774.6 2495.5 L780.6 2495.5 L786.6 2495.5 L792.6 2495.5 L798.6 2495.5 L804.6 2495.5 L810.6 2495.5 L816.6 2495.5 L822.6 2495.4 L828.6 2495.4 L834.6 2495.4 L840.6 2495.4 L846.6 2495.4 L852.6 2495.4 L858.6 2495.4 L864.6 2495.4 L870.6 2495.4 L876.6 2495.4 L882.6 2495.3 L888.6 2495.3 L894.6 2495.3 L900.6 2495.3 L906.6 2495.3 L912.6 2495.3 L918.6 2495.3 L924.6 2495.3 L930.6 2495.2 L936.6 2495.2 L942.6 2495.2 L948.6 2495.2 L954.6 2495.2 L960.6 2495.2 L966.6 2495.1 L972.6 2495.1 L978.6 2495.1 L984.6 2495.1 L990.6 2495.1 L996.6 2495 L1002.6 2495 L1008.6 2495 L1014.6 2495 L1020.6 2495 L1026.6 2494.9 L1032.6 2494.9 L1038.6 2494.9 L1044.6 2494.9 L1050.6 2494.8 L1056.6 2494.8 L1062.6 2494.8 L1068.6 2494.7 L1074.6 2494.7 L1080.6 2494.7 L1086.6 2494.6 L1092.6 2494.6 L1098.6 2494.5 L1104.6 2494.5 L1110.6 2494.4 L1116.6 2494.4 L1122.6 2494.3 L1128.6 2494.2 L1134.6 2494.2 L1140.6 2494.1 L1146.6 2494 L1152.6 2493.9 L1158.6 2493.8 L1164.6 2493.7 L1170.6 2493.5 L1176.6 2493.4 L1182.6 2493.2 L1188.6 2493 L1194.6 2492.8 L1200.6 2492.5 L1206.6 2492.3 L1212.6 2491.9 L1218.6 2491.6 L1224.6 2491.2 L1230.6 2490.8 L1236.6 2490.3 L1242.6 2489.7 L1248.6 2489.1 L1254.6 2488.4 L1260.6 2487.6 L1266.6 2486.8 L1272.6 2485.9 L1278.6 2484.8 L1284.6 2483.7 L1290.6 2482.5 L1296.6 2481.1 L1302.6 2479.6 L1308.6 2478 L1314.6 2476.3 L1320.6 2474.4 L1326.6 2472.4 L1332.6 2470.3 L1338.6 2468 L1344.6 2465.6 L1350.6 2463 L1356.6 2460.2 L1362.6 2457.4 L1368.6 2454.4 L1374.6 2451.2 L1380.6 2448 L1386.6 2444.6 L1392.6 2441.1 L1398.6 2437.5 L1404.6 2433.9 L1410.6 2430.2 L1416.6 2426.5 L1422.6 2422.8 L1428.6 2419 L1434.6 2415.3 L1440.6 2411.7 L1446.6 2408.1 L1452.6 2404.6 L1458.6 2401.3 L1464.6 2398.1 L1470.6 2395.1 L1476.6 2392.4 L1482.6 2389.9 L1488.6 2387.6 L1494.6 2385.7 L1500.6 2384 L1506.6 2382.7 L1512.6 2381.8 L1518.6 2381.2 L1524.6 2381 L1530.6 2381.2 L1536.6 2381.7 L1542.6 2382.7 L1548.6 2384 L1554.6 2385.7 L1560.6 2387.7 L1566.6 2390.1 L1572.6 2392.7 L1578.6 2395.6 L1584.6 2398.7 L1590.6 2402 L1596.6 2405.5 L1602.6 2409.1 L1608.6 2412.8 L1614.6 2416.6 L1620.6 2420.4 L1626.6 2424.3 L1632.6 2428.2 L1638.6 2432 L1644.6 2435.8 L1650.6 2439.5 L1656.6 2443.1 L1662.6 2446.6 L1668.6 2450 L1674.6 2453.3 L1680.6 2456.5 L1686.6 2459.5 L1692.6 2462.3 L1698.6 2465 L1704.6 2467.6 L1710.6 2470 L1716.6 2472.2 L1722.6 2474.3 L1728.6 2476.2 L1734.6 2478 L1740.6 2479.7 L1746.6 2481.2 L1752.6 2482.6 L1758.6 2483.9 L1764.6 2485 L1770.6 2486.1 L1776.6 2487 L1782.6 2487.8 L1788.6 2488.6 L1794.6 2489.3 L1800.6 2489.9 L1806.6 2490.5 L1812.6 2490.9 L1818.6 2491.4 L1824.6 2491.8 L1830.6 2492.1 L1836.6 2492.4 L1842.6 2492.7 L1848.6 2492.9 L1854.6 2493.1 L1860.6 2493.3 L1866.6 2493.5 L1872.6 2493.6 L1878.6 2493.8 L1884.6 2493.9 L1890.6 2494 L1894 2494" fill="none" stroke="#0000ff" stroke-width="12" stroke-linejoin="round"/>
<path d="M132.6 2495.3 L138.6 2495.3 L144.6 2495.3 L150.6 2495.2 L156.6 2495.2 L162.6 2495.2 L168.6 2495.2 L174.6 2495.2 L180.6 2495.2 L186.6 2495.2 L192.6 2495.2 L198.6 2495.2 L204.6 2495.2 L210.6 2495.2 L216.6 2495.2 L222.6 2495.2 L228.6 2495.2 L234.6 2495.2 L240.6 2495.2 L246.6 2495.2 L252.6 2495.2 L258.6 2495.2 L264.6 2495.2 L270.6 2495.2 L276.6 2495.2 L282.6 2495.2 L288.6 2495.2 L294.6 2495.2 L300.6 2495.2 L306.6 2495.1 L312.6 2495.1 L318.6 2495.1 L324.6 2495.1 L330.6 2495.1 L336.6 2495.1 L342.6 2495.1 L348.6 2495.1 L354.6 2495.1 L360.6 2495.1 L366.6 2495.1 L372.6 2495.1 L378.6 2495.1 L384.6 2495.1 L390.6 2495.1 L396.6 2495.1 L402.6 2495.1 L408.6 2495 L414.6 2495 L420.6 2495 L426.6 2495 L432.6 2495 L438.6 2495 L444.6 2495 L450.6 2495 L456.6 2495 L462.6 2495 L468.6 2495 L474.6 2495 L480.6 2494.9 L486.6 2494.9 L492.6 2494.9 L498.6 2494.9 L504.6 2494.9 L510.6 2494.9 L516.6 2494.9 L522.6 2494.9 L528.6 2494.9 L534.6 2494.8 L540.6 2494.8 L546.6 2494.8 L552.6 2494.8 L558.6 2494.8 L564.6 2494.8 L570.6 2494.8 L576.6 2494.7 L582.6 2494.7 L588.6 2494.7 L594.6 2494.7 L600.6 2494.7 L606.6 2494.6 L612.6 2494.6 L618.6 2494.6 L624.6 2494.5 L630.6 2494.5 L636.6 2494.5 L642.6 2494.4 L648.6 2494.4 L654.6 2494.3 L660.6 2494.3 L666.6 2494.2 L672.6 2494.1 L678.6 2494 L684.6 2493.9 L690.6 2493.8 L696.6 2493.7 L702.6 2493.6 L708.6 2493.4 L714.6 2493.3 L720.6 2493.1 L726.6 2492.9 L732.6 2492.6 L738.6 2492.3 L744.6 2492 L750.6 2491.7 L756.6 2491.3 L762.6 2490.9 L768.6 2490.4 L774.6 2489.9 L780.6 2489.3 L786.6 2488.6 L792.6 2487.9 L798.6 2487.1 L804.6 2486.2 L810.6 2485.3 L816.6 2484.2 L822.6 2483 L828.6 2481.7 L834.6 2480.3 L840.6 2478.8 L846.6 2477.2 L852.6 2475.4 L858.6 2473.4 L864.6 2471.3 L870.6 2469.1 L876.6 2466.6 L882.6 2464 L888.6 2461.3 L894.6 2458.3 L900.6 2455.1 L906.6 2451.8 L912.6 2448.3 L918.6 2444.6 L924.6 2440.6 L930.6 2436.5 L936.6 2432.2 L942.6 2427.7 L948.6 2423.1 L954.6 2418.2 L960.6 2413.2 L966.6 2408 L972.6 2402.7 L978.6 2397.3 L984.6 2391.7 L990.6 2386.1 L996.6 2380.3 L1002.6 2374.5 L1008.6 2368.7 L1014.6 2362.9 L1020.6 2357 L1026.6 2351.2 L1032.6 2345.5 L1038.6 2339.8 L1044.6 2334.3 L1050.6 2328.8 L1056.6 2323.6 L1062.6 2318.6 L1068.6 2313.8 L1074.6 2309.2 L1080.6 2304.9 L1086.6 2301 L1092.6 2297.3 L1098.6 2294 L1104.6 2291.1 L1110.6 2288.6 L1116.6 2286.5 L1122.6 2284.9 L1128.6 2283.6 L1134.6 2282.8 L1140.6 2282.5 L1146.6 2282.6 L1152.6 2283.2 L1158.6 2284.3 L1164.6 2285.8 L1170.6 2287.8 L1176.6 2290.2 L1182.6 2293 L1188.6 2296.2 L1194.6 2299.8 L1200.6 2303.7 L1206.6 2307.9 L1212.6 2312.5 L1218.6 2317.3 L1224.6 2322.4 L1230.6 2327.7 L1236.6 2333.1 L1242.6 2338.7 L1248.6 2344.5 L1254.6 2350.3 L1260.6 2356.2 L1266.6 2362.1 L1272.6 2368.1 L1278.6 2374 L1284.6 2379.9 L1290.6 2385.7 L1296.6 2391.5 L1302.6 2397.1 L1308.6 2402.7 L1314.6 2408.1 L1320.6 2413.3 L1326.6 2418.4 L1332.6 2423.3 L1338.6 2428.1 L1344.6 2432.6 L1350.6 2437 L1356.6 2441.1 L1362.6 2445.1 L1368.6 2448.8 L1374.6 2452.4 L1380.6 2455.8 L1386.6 2458.9 L1392.6 2461.9 L1398.6 2464.7 L1404.6 2467.3 L1410.6 2469.7 L1416.6 2471.9 L1422.6 2474 L1428.6 2475.9 L1434.6 2477.7 L1440.6 2479.4 L1446.6 2480.9 L1452.6 2482.2 L1458.6 2483.5 L1464.6 2484.7 L1470.6 2485.7 L1476.6 2486.6 L1482.6 2487.5 L1488.6 2488.3 L1494.6 2489 L1500.6 2489.6 L1506.6 2490.2 L1512.6 2490.7 L1518.6 2491.1 L1524.6 2491.5 L1530.6 2491.9 L1536.6 2492.2 L1542.6 2492.5 L1548.6 2492.8 L1554.6 2493 L1560.6 2493.2 L1566.6 2493.4 L1572.6 2493.5 L1578.6 2493.7 L1584.6 2493.8 L1590.6 2493.9 L1596.6 2494 L1602.6 2494.1 L1608.6 2494.2 L1614.6 2494.3 L1620.6 2494.3 L1626.6 2494.4 L1632.6 2494.4 L1638.6 2494.5 L1644.6 2494.5 L1650.6 2494.5 L1656.6 2494.6 L1662.6 2494.6 L1668.6 2494.6 L1674.6 2494.7 L1680.6 2494.7 L1686.6 2494.7 L1692.6 2494.7 L1698.6 2494.7 L1704.6 2494.8 L1710.6 2494.8 L1716.6 2494.8 L1722.6 2494.8 L1728.6 2494.8 L1734.6 2494.8 L1740.6 2494.9 L1746.6 2494.9 L1752.6 2494.9 L1758.6 2494.9 L1764.6 2494.9 L1770.6 2494.9 L1776.6 2494.9 L1782.6 2494.9 L1788.6 2494.9 L1794.6 2495 L1800.6 2495 L1806.6 2495 L1812.6 2495 L1818.6 2495 L1824.6 2495 L1830.6 2495 L1836.6 2495 L1842.6 2495 L1848.6 2495 L1854.6 2495 L1860.6 2495 L1866.6 2495.1 L1872.6 2495.1 L1878.6 2495.1 L1884.6 2495.1 L1890.6 2495.1 L1894 2495.1" fill="none" stroke="#00ff00" stroke-width="11" stroke-linejoin="round"/>
<path d="M132.6 2493.6 L138.6 2493.6 L144.6 2493.6 L150.6 2493.6 L156.6 2493.6 L162.6 2493.6 L168.6 2493.6 L174.6 2493.6 L180.6 2493.5 L186.6 2493.5 L192.6 2493.5 L198.6 2493.5 L204.6 2493.5 L210.6 2493.4 L216.6 2493.4 L222.6 2493.4 L228.6 2493.4 L234.6 2493.3 L240.6 2493.3 L246.6 2493.3 L252.6 2493.2 L258.6 2493.2 L264.6 2493.1 L270.6 2493.1 L276.6 2493 L282.6 2493 L288.6 2492.9 L294.6 2492.9 L300.6 2492.8 L306.6 2492.7 L312.6 2492.6 L318.6 2492.5 L324.6 2492.4 L330.6 2492.3 L336.6 2492.2 L342.6 2492.1 L348.6 2491.9 L354.6 2491.8 L360.6 2491.6 L366.6 2491.5 L372.6 2491.3 L378.6 2491.1 L384.6 2490.9 L390.6 2490.7 L396.6 2490.4 L402.6 2490.2 L408.6 2489.9 L414.6 2489.6 L420.6 2489.3 L426.6 2489 L432.6 2488.6 L438.6 2488.3 L444.6 2487.9 L450.6 2487.5 L456.6 2487 L462.6 2486.6 L468.6 2486.1 L474.6 2485.6 L480.6 2485 L486.6 2484.4 L492.6 2483.8 L498.6 2483.2 L504.6 2482.5 L510.6 2481.8 L516.6 2481.1 L522.6 2480.4 L528.6 2479.6 L534.6 2478.7 L540.6 2477.9 L546.6 2477 L552.6 2476 L558.6 2475.1 L564.6 2474.1 L570.6 2473 L576.6 2471.9 L582.6 2470.8 L588.6 2469.7 L594.6 2468.5 L600.6 2467.3 L606.6 2466.1 L612.6 2464.8 L618.6 2463.5 L624.6 2462.1 L630.6 2460.8 L636.6 2459.4 L642.6 2458 L648.6 2456.5 L654.6 2455.1 L660.6 2453.6 L666.6 2452.1 L672.6 2450.6 L678.6 2449.1 L684.6 2447.5 L690.6 2446 L696.6 2444.4 L702.6 2442.9 L708.6 2441.4 L714.6 2439.8 L720.6 2438.3 L726.6 2436.8 L732.6 2435.3 L738.6 2433.8 L744.6 2432.3 L750.6 2430.9 L756.6 2429.4 L762.6 2428.1 L768.6 2426.7 L774.6 2425.4 L780.6 2424.1 L786.6 2422.9 L792.6 2421.8 L798.6 2420.6 L804.6 2419.6 L810.6 2418.6 L816.6 2417.6 L822.6 2416.8 L828.6 2415.9 L834.6 2415.2 L840.6 2414.5 L846.6 2413.9 L852.6 2413.4 L858.6 2413 L864.6 2412.6 L870.6 2412.3 L876.6 2412.1 L882.6 2412 L888.6 2412 L894.6 2412 L900.6 2412.1 L906.6 2412.3 L912.6 2412.6 L918.6 2412.9 L924.6 2413.2 L930.6 2413.7 L936.6 2414.1 L942.6 2414.7 L948.6 2415.3 L954.6 2416 L960.6 2416.7 L966.6 2417.5 L972.6 2418.3 L978.6 2419.2 L984.6 2420.1 L990.6 2421.1 L996.6 2422.1 L1002.6 2423.2 L1008.6 2424.3 L1014.6 2425.4 L1020.6 2426.6 L1026.6 2427.8 L1032.6 2429 L1038.6 2430.3 L1044.6 2431.6 L1050.6 2432.9 L1056.6 2434.2 L1062.6 2435.5 L1068.6 2436.9 L1074.6 2438.3 L1080.6 2439.6 L1086.6 2441 L1092.6 2442.4 L1098.6 2443.8 L1104.6 2445.2 L1110.6 2446.5 L1116.6 2447.9 L1122.6 2449.3 L1128.6 2450.7 L1134.6 2452 L1140.6 2453.4 L1146.6 2454.7 L1152.6 2456 L1158.6 2457.3 L1164.6 2458.6 L1170.6 2459.8 L1176.6 2461.1 L1182.6 2462.3 L1188.6 2463.5 L1194.6 2464.7 L1200.6 2465.8 L1206.6 2466.9 L1212.6 2468 L1218.6 2469.1 L1224.6 2470.1 L1230.6 2471.2 L1236.6 2472.1 L1242.6 2473.1 L1248.6 2474 L1254.6 2474.9 L1260.6 2475.8 L1266.6 2476.7 L1272.6 2477.5 L1278.6 2478.3 L1284.6 2479 L1290.6 2479.8 L1296.6 2480.5 L1302.6 2481.1 L1308.6 2481.8 L1314.6 2482.4 L1320.6 2483 L1326.6 2483.6 L1332.6 2484.2 L1338.6 2484.7 L1344.6 2485.2 L1350.6 2485.7 L1356.6 2486.1 L1362.6 2486.6 L1368.6 2487 L1374.6 2487.4 L1380.6 2487.8 L1386.6 2488.1 L1392.6 2488.5 L1398.6 2488.8 L1404.6 2489.1 L1410.6 2489.4 L1416.6 2489.6 L1422.6 2489.9 L1428.6 2490.1 L1434.6 2490.4 L1440.6 2490.6 L1446.6 2490.8 L1452.6 2491 L1458.6 2491.2 L1464.6 2491.3 L1470.6 2491.5 L1476.6 2491.6 L1482.6 2491.8 L1488.6 2491.9 L1494.6 2492 L1500.6 2492.2 L1506.6 2492.3 L1512.6 2492.4 L1518.6 2492.5 L1524.6 2492.5 L1530.6 2492.6 L1536.6 2492.7 L1542.6 2492.8 L1548.6 2492.8 L1554.6 2492.9 L1560.6 2493 L1566.6 2493 L1572.6 2493.1 L1578.6 2493.1 L1584.6 2493.2 L1590.6 2493.2 L1596.6 2493.2 L1602.6 2493.3 L1608.6 2493.3 L1614.6 2493.3 L1620.6 2493.4 L1626.6 2493.4 L1632.6 2493.4 L1638.6 2493.4 L1644.6 2493.5 L1650.6 2493.5 L1656.6 2493.5 L1662.6 2493.5 L1668.6 2493.5 L1674.6 2493.5 L1680.6 2493.5 L1686.6 2493.6 L1692.6 2493.6 L1698.6 2493.6 L1704.6 2493.6 L1710.6 2493.6 L1716.6 2493.6 L1722.6 2493.6 L1728.6 2493.6 L1734.6 2493.6 L1740.6 2493.6 L1746.6 2493.7 L1752.6 2493.7 L1758.6 2493.7 L1764.6 2493.7 L1770.6 2493.7 L1776.6 2493.7 L1782.6 2493.7 L1788.6 2493.7 L1794.6 2493.7 L1800.6 2493.7 L1806.6 2493.7 L1812.6 2493.7 L1818.6 2493.7 L1824.6 2493.7 L1830.6 2493.7 L1836.6 2493.7 L1842.6 2493.7 L1848.6 2493.7 L1854.6 2493.7 L1860.6 2493.7 L1866.6 2493.7 L1872.6 2493.7 L1878.6 2493.8 L1884.6 2493.8 L1890.6 2493.8 L1894 2493.8" fill="none" stroke="#ff8080" stroke-width="10.7" stroke-linejoin="round"/>
<path d="M132.6 2493.1 L136.6 2493.1 L140.6 2493.1 L144.6 2493.1 L148.6 2493.1 L152.6 2493.1 L156.6 2493.1 L160.6 2493 L164.6 2493 L168.6 2493 L172.6 2493 L176.6 2493 L180.6 2493 L184.6 2493 L188.6 2492.9 L192.6 2492.9 L196.6 2492.9 L200.6 2492.9 L204.6 2492.9 L208.6 2492.9 L212.6 2492.8 L216.6 2492.8 L220.6 2492.8 L224.6 2492.8 L228.6 2492.8 L232.6 2492.7 L236.6 2492.7 L240.6 2492.7 L244.6 2492.7 L248.6 2492.6 L252.6 2492.6 L256.6 2492.6 L260.6 2492.5 L264.6 2492.5 L268.6 2492.5 L272.6 2492.4 L276.6 2492.4 L280.6 2492.3 L284.6 2492.3 L288.6 2492.2 L292.6 2492.2 L296.6 2492.1 L300.6 2492.1 L304.6 2492 L308.6 2492 L312.6 2491.9 L316.6 2491.8 L320.6 2491.8 L324.6 2491.7 L328.6 2491.6 L332.6 2491.5 L336.6 2491.4 L340.6 2491.4 L344.6 2491.3 L348.6 2491.2 L352.6 2491.1 L356.6 2491 L360.6 2490.8 L364.6 2490.7 L368.6 2490.6 L372.6 2490.5 L376.6 2490.3 L380.6 2490.2 L384.6 2490 L388.6 2489.9 L392.6 2489.7 L396.6 2489.6 L400.6 2489.4 L404.6 2489.2 L408.6 2489 L412.6 2488.8 L416.6 2488.6 L420.6 2488.4 L424.6 2488.2 L428.6 2487.9 L432.6 2487.7 L436.6 2487.4 L440.6 2487.2 L444.6 2486.9 L448.6 2486.6 L452.6 2486.3 L456.6 2486 L460.6 2485.7 L464.6 2485.4 L468.6 2485 L472.6 2484.7 L476.6 2484.3 L480.6 2484 L484.6 2483.6 L488.6 2483.2 L492.6 2482.7 L496.6 2482.3 L500.6 2481.9 L504.6 2481.4 L508.6 2480.9 L512.6 2480.5 L516.6 2479.9 L520.6 2479.4 L524.6 2478.9 L528.6 2478.4 L532.6 2477.8 L536.6 2477.2 L540.6 2476.6 L544.6 2476 L548.6 2475.4 L552.6 2474.7 L556.6 2474.1 L560.6 2473.4 L564.6 2472.7 L568.6 2472 L572.6 2471.3 L576.6 2470.6 L580.6 2469.8 L584.6 2469 L588.6 2468.2 L592.6 2467.4 L596.6 2466.6 L600.6 2465.8 L604.6 2464.9 L608.6 2464.1 L612.6 2463.2 L616.6 2462.3 L620.6 2461.4 L624.6 2460.5 L628.6 2459.5 L632.6 2458.6 L636.6 2457.6 L640.6 2456.6 L644.6 2455.7 L648.6 2454.7 L652.6 2453.6 L656.6 2452.6 L660.6 2451.6 L664.6 2450.5 L668.6 2449.5 L672.6 2448.4 L676.6 2447.3 L680.6 2446.2 L684.6 2445.1 L688.6 2444 L692.6 2442.9 L696.6 2441.8 L700.6 2440.7 L704.6 2439.5 L708.6 2438.4 L712.6 2437.3 L716.6 2436.1 L720.6 2434.9 L724.6 2433.8 L728.6 2432.6 L732.6 2431.4 L736.6 2430.2 L740.6 2429.1 L744.6 2427.9 L748.6 2426.7 L752.6 2425.5 L756.6 2424.2 L760.6 2423 L764.6 2421.8 L768.6 2420.6 L772.6 2419.3 L776.6 2418.1 L780.6 2416.8 L784.6 2415.6 L788.6 2414.3 L792.6 2413 L796.6 2411.7 L800.6 2410.4 L804.6 2409.1 L808.6 2407.8 L812.6 2406.5 L816.6 2405.1 L820.6 2403.7 L824.6 2402.3 L828.6 2400.9 L832.6 2399.5 L836.6 2398 L840.6 2396.5 L844.6 2395 L848.6 2393.5 L852.6 2391.9 L856.6 2390.3 L860.6 2388.7 L864.6 2387 L868.6 2385.3 L872.6 2383.5 L876.6 2381.8 L880.6 2379.9 L884.6 2378.1 L888.6 2376.2 L892.6 2374.2 L896.6 2372.2 L900.6 2370.1 L904.6 2368 L908.6 2365.8 L912.6 2363.5 L916.6 2361.2 L920.6 2358.9 L924.6 2356.4 L928.6 2353.9 L932.6 2351.4 L936.6 2348.8 L940.6 2346.1 L944.6 2343.4 L948.6 2340.6 L952.6 2337.7 L956.6 2334.8 L960.6 2331.9 L964.6 2328.8 L968.6 2325.8 L972.6 2322.7 L976.6 2319.5 L980.6 2316.3 L984.6 2313 L988.6 2309.7 L992.6 2306.4 L996.6 2303 L1000.6 2299.6 L1004.6 2296.2 L1008.6 2292.8 L1012.6 2289.3 L1016.6 2285.8 L1020.6 2282.3 L1024.6 2278.8 L1028.6 2275.3 L1032.6 2271.8 L1036.6 2268.3 L1040.6 2264.8 L1044.6 2261.3 L1048.6 2257.9 L1052.6 2254.4 L1056.6 2251 L1060.6 2247.5 L1064.6 2244.1 L1068.6 2240.8 L1072.6 2237.4 L1076.6 2234.1 L1080.6 2230.8 L1084.6 2227.6 L1088.6 2224.4 L1092.6 2221.2 L1096.6 2218 L1100.6 2214.9 L1104.6 2211.8 L1108.6 2208.8 L1112.6 2205.8 L1116.6 2202.8 L1120.6 2199.9 L1124.6 2196.9 L1128.6 2194.1 L1132.6 2191.2 L1136.6 2188.4 L1140.6 2185.6 L1144.6 2182.8 L1148.6 2180 L1152.6 2177.3 L1156.6 2174.6 L1160.6 2171.9 L1164.6 2169.2 L1168.6 2166.5 L1172.6 2163.9 L1176.6 2161.3 L1180.6 2158.7 L1184.6 2156.1 L1188.6 2153.6 L1192.6 2151 L1196.6 2148.5 L1200.6 2146 L1204.6 2143.6 L1208.6 2141.1 L1212.6 2138.8 L1216.6 2136.4 L1220.6 2134.2 L1224.6 2132 L1228.6 2129.8 L1232.6 2127.8 L1236.6 2125.8 L1240.6 2123.9 L1244.6 2122.2 L1248.6 2120.5 L1252.6 2119 L1256.6 2117.7 L1260.6 2116.4 L1264.6 2115.4 L1268.6 2114.5 L1272.6 2113.8 L1276.6 2113.3 L1280.6 2113 L1284.6 2113 L1288.6 2113.1 L1292.6 2113.5 L1296.6 2114.2 L1300.6 2115.1 L1304.6 2116.2 L1308.6 2117.6 L1312.6 2119.3 L1316.6 2121.2 L1320.6 2123.4 L1324.6 2125.8 L1328.6 2128.5 L1332.6 2131.4 L1336.6 2134.5 L1340.6 2137.8 L1344.6 2141.3 L1348.6 2145 L1352.6 2148.9 L1356.6 2152.9 L1360.6 2157.1 L1364.6 2161.5 L1368.6 2166 L1372.6 2170.6 L1376.6 2175.2 L1380.6 2180 L1384.6 2184.9 L1388.6 2189.8 L1392.6 2194.7 L1396.6 2199.7 L1400.6 2204.7 L1404.6 2209.7 L1408.6 2214.7 L1412.6 2219.6 L1416.6 2224.6 L1420.6 2229.5 L1424.6 2234.3 L1428.6 2239.1 L1432.6 2243.8 L1436.6 2248.4 L1440.6 2253 L1444.6 2257.5 L1448.6 2261.9 L1452.6 2266.2 L1456.6 2270.4 L1460.6 2274.5 L1464.6 2278.6 L1468.6 2282.5 L1472.6 2286.4 L1476.6 2290.2 L1480.6 2293.9 L1484.6 2297.5 L1488.6 2301.1 L1492.6 2304.6 L1496.6 2308 L1500.6 2311.4 L1504.6 2314.8 L1508.6 2318.1 L1512.6 2321.4 L1516.6 2324.7 L1520.6 2327.9 L1524.6 2331.1 L1528.6 2334.4 L1532.6 2337.6 L1536.6 2340.9 L1540.6 2344.1 L1544.6 2347.4 L1548.6 2350.7 L1552.6 2353.9 L1556.6 2357.3 L1560.6 2360.6 L1564.6 2363.9 L1568.6 2367.3 L1572.6 2370.6 L1576.6 2374 L1580.6 2377.3 L1584.6 2380.7 L1588.6 2384 L1592.6 2387.4 L1596.6 2390.7 L1600.6 2394 L1604.6 2397.3 L1608.6 2400.6 L1612.6 2403.8 L1616.6 2407.1 L1620.6 2410.2 L1624.6 2413.4 L1628.6 2416.4 L1632.6 2419.5 L1636.6 2422.5 L1640.6 2425.4 L1644.6 2428.3 L1648.6 2431.1 L1652.6 2433.8 L1656.6 2436.5 L1660.6 2439.1 L1664.6 2441.7 L1668.6 2444.1 L1672.6 2446.5 L1676.6 2448.8 L1680.6 2451.1 L1684.6 2453.2 L1688.6 2455.3 L1692.6 2457.3 L1696.6 2459.3 L1700.6 2461.1 L1704.6 2462.9 L1708.6 2464.6 L1712.6 2466.2 L1716.6 2467.8 L1720.6 2469.2 L1724.6 2470.6 L1728.6 2472 L1732.6 2473.2 L1736.6 2474.4 L1740.6 2475.6 L1744.6 2476.6 L1748.6 2477.6 L1752.6 2478.6 L1756.6 2479.5 L1760.6 2480.3 L1764.6 2481.1 L1768.6 2481.8 L1772.6 2482.5 L1776.6 2483.2 L1780.6 2483.8 L1784.6 2484.4 L1788.6 2484.9 L1792.6 2485.4 L1796.6 2485.8 L1800.6 2486.3 L1804.6 2486.7 L1808.6 2487 L1812.6 2487.4 L1816.6 2487.7 L1820.6 2488 L1824.6 2488.2 L1828.6 2488.5 L1832.6 2488.7 L1836.6 2488.9 L1840.6 2489.1 L1844.6 2489.3 L1848.6 2489.5 L1852.6 2489.7 L1856.6 2489.8 L1860.6 2490 L1864.6 2490.1 L1868.6 2490.2 L1872.6 2490.3 L1876.6 2490.4 L1880.6 2490.5 L1884.6 2490.6 L1888.6 2490.7 L1892.6 2490.8 L1894 2490.8" fill="none" stroke="#000" stroke-width="3.1"/>
<path d="M134.9 2486.9 l5.1 6.2 l-5.1 6.2 l-5.1 -6.2 z M152.5 2486.9 l5.1 6.2 l-5.1 6.2 l-5.1 -6.2 z M170.2 2486.8 l5.1 6.2 l-5.1 6.2 l-5.1 -6.2 z M187.8 2486.8 l5.1 6.2 l-5.1 6.2 l-5.1 -6.2 z M205.4 2486.7 l5.1 6.2 l-5.1 6.2 l-5.1 -6.2 z M223.1 2486.6 l5.1 6.2 l-5.1 6.2 l-5.1 -6.2 z M240.7 2486.5 l5.1 6.2 l-5.1 6.2 l-5.1 -6.2 z M258.3 2486.3 l5.1 6.2 l-5.1 6.2 l-5.1 -6.2 z M275.9 2486.2 l5.1 6.2 l-5.1 6.2 l-5.1 -6.2 z M293.6 2486 l5.1 6.2 l-5.1 6.2 l-5.1 -6.2 z M311.2 2485.7 l5.1 6.2 l-5.1 6.2 l-5.1 -6.2 z M328.8 2485.4 l5.1 6.2 l-5.1 6.2 l-5.1 -6.2 z M346.5 2485 l5.1 6.2 l-5.1 6.2 l-5.1 -6.2 z M364.1 2484.5 l5.1 6.2 l-5.1 6.2 l-5.1 -6.2 z M381.7 2484 l5.1 6.2 l-5.1 6.2 l-5.1 -6.2 z M399.4 2483.2 l5.1 6.2 l-5.1 6.2 l-5.1 -6.2 z M417 2482.4 l5.1 6.2 l-5.1 6.2 l-5.1 -6.2 z M434.6 2481.4 l5.1 6.2 l-5.1 6.2 l-5.1 -6.2 z M452.2 2480.2 l5.1 6.2 l-5.1 6.2 l-5.1 -6.2 z M469.9 2478.7 l5.1 6.2 l-5.1 6.2 l-5.1 -6.2 z M487.5 2477.1 l5.1 6.2 l-5.1 6.2 l-5.1 -6.2 z M505.1 2475.1 l5.1 6.2 l-5.1 6.2 l-5.1 -6.2 z M522.8 2472.9 l5.1 6.2 l-5.1 6.2 l-5.1 -6.2 z M540.4 2470.4 l5.1 6.2 l-5.1 6.2 l-5.1 -6.2 z M558 2467.6 l5.1 6.2 l-5.1 6.2 l-5.1 -6.2 z M575.6 2464.5 l5.1 6.2 l-5.1 6.2 l-5.1 -6.2 z M593.3 2461.1 l5.1 6.2 l-5.1 6.2 l-5.1 -6.2 z M610.9 2457.4 l5.1 6.2 l-5.1 6.2 l-5.1 -6.2 z M628.5 2453.4 l5.1 6.2 l-5.1 6.2 l-5.1 -6.2 z M646.2 2449.1 l5.1 6.2 l-5.1 6.2 l-5.1 -6.2 z M663.8 2444.5 l5.1 6.2 l-5.1 6.2 l-5.1 -6.2 z M681.4 2439.8 l5.1 6.2 l-5.1 6.2 l-5.1 -6.2 z M699.1 2434.9 l5.1 6.2 l-5.1 6.2 l-5.1 -6.2 z M716.7 2429.9 l5.1 6.2 l-5.1 6.2 l-5.1 -6.2 z M734.3 2424.7 l5.1 6.2 l-5.1 6.2 l-5.1 -6.2 z M751.9 2419.5 l5.1 6.2 l-5.1 6.2 l-5.1 -6.2 z M769.6 2414.1 l5.1 6.2 l-5.1 6.2 l-5.1 -6.2 z M787.2 2408.6 l5.1 6.2 l-5.1 6.2 l-5.1 -6.2 z M804.8 2402.8 l5.1 6.2 l-5.1 6.2 l-5.1 -6.2 z M822.5 2396.9 l5.1 6.2 l-5.1 6.2 l-5.1 -6.2 z M840.1 2390.5 l5.1 6.2 l-5.1 6.2 l-5.1 -6.2 z M857.7 2383.6 l5.1 6.2 l-5.1 6.2 l-5.1 -6.2 z M875.4 2376.1 l5.1 6.2 l-5.1 6.2 l-5.1 -6.2 z M893 2367.8 l5.1 6.2 l-5.1 6.2 l-5.1 -6.2 z M910.6 2358.5 l5.1 6.2 l-5.1 6.2 l-5.1 -6.2 z M928.2 2348 l5.1 6.2 l-5.1 6.2 l-5.1 -6.2 z M945.9 2336.3 l5.1 6.2 l-5.1 6.2 l-5.1 -6.2 z M963.5 2323.5 l5.1 6.2 l-5.1 6.2 l-5.1 -6.2 z M981.1 2309.6 l5.1 6.2 l-5.1 6.2 l-5.1 -6.2 z M998.8 2295 l5.1 6.2 l-5.1 6.2 l-5.1 -6.2 z M1016.4 2279.8 l5.1 6.2 l-5.1 6.2 l-5.1 -6.2 z M1034 2264.4 l5.1 6.2 l-5.1 6.2 l-5.1 -6.2 z M1051.7 2249 l5.1 6.2 l-5.1 6.2 l-5.1 -6.2 z M1069.3 2234 l5.1 6.2 l-5.1 6.2 l-5.1 -6.2 z M1086.9 2219.5 l5.1 6.2 l-5.1 6.2 l-5.1 -6.2 z M1104.5 2205.7 l5.1 6.2 l-5.1 6.2 l-5.1 -6.2 z M1122.2 2192.5 l5.1 6.2 l-5.1 6.2 l-5.1 -6.2 z M1139.8 2179.9 l5.1 6.2 l-5.1 6.2 l-5.1 -6.2 z M1157.4 2167.8 l5.1 6.2 l-5.1 6.2 l-5.1 -6.2 z M1175.1 2156.1 l5.1 6.2 l-5.1 6.2 l-5.1 -6.2 z M1192.7 2144.8 l5.1 6.2 l-5.1 6.2 l-5.1 -6.2 z M1210.3 2133.9 l5.1 6.2 l-5.1 6.2 l-5.1 -6.2 z M1228 2124 l5.1 6.2 l-5.1 6.2 l-5.1 -6.2 z M1245.6 2115.6 l5.1 6.2 l-5.1 6.2 l-5.1 -6.2 z M1263.2 2109.5 l5.1 6.2 l-5.1 6.2 l-5.1 -6.2 z M1280.9 2106.8 l5.1 6.2 l-5.1 6.2 l-5.1 -6.2 z M1298.5 2108.4 l5.1 6.2 l-5.1 6.2 l-5.1 -6.2 z M1316.1 2114.7 l5.1 6.2 l-5.1 6.2 l-5.1 -6.2 z M1333.7 2126 l5.1 6.2 l-5.1 6.2 l-5.1 -6.2 z M1351.4 2141.5 l5.1 6.2 l-5.1 6.2 l-5.1 -6.2 z M1369 2160.2 l5.1 6.2 l-5.1 6.2 l-5.1 -6.2 z M1386.6 2181.2 l5.1 6.2 l-5.1 6.2 l-5.1 -6.2 z M1404.3 2203.1 l5.1 6.2 l-5.1 6.2 l-5.1 -6.2 z M1421.9 2224.8 l5.1 6.2 l-5.1 6.2 l-5.1 -6.2 z M1439.5 2245.6 l5.1 6.2 l-5.1 6.2 l-5.1 -6.2 z M1457.2 2264.8 l5.1 6.2 l-5.1 6.2 l-5.1 -6.2 z M1474.8 2282.2 l5.1 6.2 l-5.1 6.2 l-5.1 -6.2 z M1492.4 2298.2 l5.1 6.2 l-5.1 6.2 l-5.1 -6.2 z M1510 2313.1 l5.1 6.2 l-5.1 6.2 l-5.1 -6.2 z M1527.7 2327.4 l5.1 6.2 l-5.1 6.2 l-5.1 -6.2 z M1545.3 2341.7 l5.1 6.2 l-5.1 6.2 l-5.1 -6.2 z M1562.9 2356.3 l5.1 6.2 l-5.1 6.2 l-5.1 -6.2 z M1580.6 2371.1 l5.1 6.2 l-5.1 6.2 l-5.1 -6.2 z M1598.2 2385.8 l5.1 6.2 l-5.1 6.2 l-5.1 -6.2 z M1615.8 2400.2 l5.1 6.2 l-5.1 6.2 l-5.1 -6.2 z M1633.5 2413.9 l5.1 6.2 l-5.1 6.2 l-5.1 -6.2 z M1651.1 2426.6 l5.1 6.2 l-5.1 6.2 l-5.1 -6.2 z M1668.7 2438 l5.1 6.2 l-5.1 6.2 l-5.1 -6.2 z M1686.3 2448 l5.1 6.2 l-5.1 6.2 l-5.1 -6.2 z M1704 2456.4 l5.1 6.2 l-5.1 6.2 l-5.1 -6.2 z M1721.6 2463.4 l5.1 6.2 l-5.1 6.2 l-5.1 -6.2 z M1739.2 2469 l5.1 6.2 l-5.1 6.2 l-5.1 -6.2 z M1756.9 2473.3 l5.1 6.2 l-5.1 6.2 l-5.1 -6.2 z M1774.5 2476.7 l5.1 6.2 l-5.1 6.2 l-5.1 -6.2 z M1792.1 2479.1 l5.1 6.2 l-5.1 6.2 l-5.1 -6.2 z M1809.8 2480.9 l5.1 6.2 l-5.1 6.2 l-5.1 -6.2 z M1827.4 2482.2 l5.1 6.2 l-5.1 6.2 l-5.1 -6.2 z M1845 2483.2 l5.1 6.2 l-5.1 6.2 l-5.1 -6.2 z M1862.6 2483.8 l5.1 6.2 l-5.1 6.2 l-5.1 -6.2 z M1880.3 2484.3 l5.1 6.2 l-5.1 6.2 l-5.1 -6.2 z" fill="#fff" stroke="#000" stroke-width="2.1" stroke-linejoin="miter"/>
</g>
<path d="M132.6 3727.8 V2006 H1894 V3727.8" fill="none" stroke="#000" stroke-width="5.8" stroke-linejoin="miter"/>
<rect x="129.5" y="3726.2" width="1767.6" height="1.6" fill="#000"/>
<text x="352.4" y="1610.7" style="font-family:'Liberation Sans',sans-serif;font-size:50.5px;font-weight:normal" text-anchor="middle">534</text>
<text x="766.8" y="1610.7" style="font-family:'Liberation Sans',sans-serif;font-size:50.5px;font-weight:normal" text-anchor="middle">532</text>
<text x="1181.2" y="1610.7" style="font-family:'Liberation Sans',sans-serif;font-size:50.5px;font-weight:normal" text-anchor="middle">530</text>
<text x="1595.6" y="1610.7" style="font-family:'Liberation Sans',sans-serif;font-size:50.5px;font-weight:normal" text-anchor="middle">528</text>
<text x="134.6" y="3792.7" style="font-family:'Liberation Sans',sans-serif;font-size:52px;font-weight:normal" text-anchor="middle">648</text>
<text x="487" y="3792.7" style="font-family:'Liberation Sans',sans-serif;font-size:52px;font-weight:normal" text-anchor="middle">646</text>
<text x="839.4" y="3792.7" style="font-family:'Liberation Sans',sans-serif;font-size:52px;font-weight:normal" text-anchor="middle">644</text>
<text x="1191.8" y="3792.7" style="font-family:'Liberation Sans',sans-serif;font-size:52px;font-weight:normal" text-anchor="middle">642</text>
<text x="1544.2" y="3792.7" style="font-family:'Liberation Sans',sans-serif;font-size:52px;font-weight:normal" text-anchor="middle">640</text>
<text x="1896.6" y="3792.7" style="font-family:'Liberation Sans',sans-serif;font-size:52px;font-weight:normal" text-anchor="middle">638</text>
<text x="737" y="1754.4" style="font-family:'Liberation Serif',serif;font-size:65.5px;font-weight:bold" textLength="579.5" lengthAdjust="spacingAndGlyphs">Binding Energy(eV)</text>
<text x="750" y="3916" style="font-family:'Liberation Serif',serif;font-size:70px;font-weight:bold" textLength="587.5" lengthAdjust="spacingAndGlyphs">Binding Energy(eV)</text>
<text x="1009" y="1899" style="font-family:'Liberation Sans',sans-serif;font-size:80px;font-weight:normal" text-anchor="middle" stroke="#000" stroke-width="0.8">(a)</text>
<text x="1078" y="4106.5" style="font-family:'Liberation Serif',serif;font-size:92px;font-weight:bold" text-anchor="middle" textLength="95.5" lengthAdjust="spacingAndGlyphs">(b)</text>
<g transform="translate(129.3 1069) rotate(-90)">
<text x="0" y="0" style="font-family:'Liberation Serif',serif;font-size:75px;font-weight:bold" textLength="427" lengthAdjust="spacingAndGlyphs">Intensity(a.u)</text>
</g>
<g transform="translate(97 3175) rotate(-90) scale(1 1.27)">
<text x="0" y="0" style="font-family:'Liberation Serif',serif;font-size:68px;font-weight:bold" textLength="489" lengthAdjust="spacing">Intensity(a.u)</text>
</g>
<path d="M202.7 89.5 H351.4" stroke="#ff8000" stroke-width="11.3" stroke-linecap="round"/>
<path d="M202.7 209 H351.4" stroke="#00ff00" stroke-width="11.3" stroke-linecap="round"/>
<path d="M203.7 328.5 H350.3" stroke="#ff80ff" stroke-width="13.4" stroke-linecap="round"/>
<path d="M201.6 447.5 H351.8" stroke="#000" stroke-width="2"/>
<path d="M271.6 444 h8.8 l-4.4 8 z" fill="#fff" stroke="#000" stroke-width="1.6"/>
<text x="370" y="114" style="font-family:'Liberation Serif',serif;font-size:52px;font-weight:bold">O</text>
<text x="411.5" y="135.6" style="font-family:'Liberation Serif',serif;font-size:41px;font-weight:bold">L</text>
<text x="376" y="232" style="font-family:'Liberation Serif',serif;font-size:52px;font-weight:bold">O</text>
<text x="416" y="255" style="font-family:'Liberation Serif',serif;font-size:41px;font-weight:bold">ads</text>
<text x="376.5" y="350" style="font-family:'Liberation Serif',serif;font-size:50px;font-weight:bold">O</text>
<text x="415.5" y="375.3" style="font-family:'Liberation Serif',serif;font-size:42px;font-weight:bold" textLength="91" lengthAdjust="spacingAndGlyphs">H2O</text>
<text x="377.7" y="469.8" style="font-family:'Liberation Serif',serif;font-size:46px;font-weight:bold" textLength="201.5" lengthAdjust="spacingAndGlyphs">Raw data</text>
<path d="M147.5 2066.6 H265.5" stroke="#0000ff" stroke-width="11.5" stroke-linecap="round"/>
<path d="M147.5 2156.3 H265.5" stroke="#00ff00" stroke-width="11.5" stroke-linecap="round"/>
<path d="M147.5 2245.6 H265.5" stroke="#ff8080" stroke-width="11.5" stroke-linecap="round"/>
<path d="M143 2350.6 H270" stroke="#000" stroke-width="2"/>
<path d="M205.8 2344.4 l5.6 6.2 l-5.6 6.2 l-5.6 -6.2 z" fill="#fff" stroke="#000" stroke-width="1.6"/>
<text x="282" y="2087" style="font-family:'Liberation Serif',serif;font-size:63px;font-weight:normal" textLength="179.5" lengthAdjust="spacingAndGlyphs" stroke="#000" stroke-width="0.9">Mn(III)</text>
<text x="282" y="2177" style="font-family:'Liberation Serif',serif;font-size:63px;font-weight:normal" textLength="179.5" lengthAdjust="spacingAndGlyphs" stroke="#000" stroke-width="0.9">Mn(IV)</text>
<text x="283" y="2265.4" style="font-family:'Liberation Serif',serif;font-size:60px;font-weight:normal" textLength="152" lengthAdjust="spacingAndGlyphs" stroke="#000" stroke-width="1.7">Mn 2p</text>
<text x="436" y="2286.3" style="font-family:'Liberation Serif',serif;font-size:29px;font-weight:normal" textLength="43" lengthAdjust="spacingAndGlyphs" stroke="#000" stroke-width="0.8">3/2</text>
<text x="495" y="2265.4" style="font-family:'Liberation Serif',serif;font-size:60px;font-weight:normal" textLength="195" lengthAdjust="spacingAndGlyphs" stroke="#000" stroke-width="1.7">Satellite</text>
<text x="283" y="2369.4" style="font-family:'Liberation Serif',serif;font-size:60px;font-weight:normal" textLength="221.5" lengthAdjust="spacingAndGlyphs" stroke="#000" stroke-width="1.7">Raw data</text>
<text x="1554.6" y="277.3" style="font-family:'Liberation Serif',serif;font-size:65.6px;font-weight:normal;font-style:italic" textLength="243" lengthAdjust="spacingAndGlyphs" stroke="#000" stroke-width="1.5">BMC-La</text>
<text x="1799" y="307" style="font-family:'Liberation Serif',serif;font-size:46px;font-weight:normal;font-style:italic" textLength="58.7" lengthAdjust="spacingAndGlyphs" stroke="#000" stroke-width="0.9">0.6</text>
<text x="1568" y="661" style="font-family:'Liberation Serif',serif;font-size:65.6px;font-weight:normal;font-style:italic" textLength="243" lengthAdjust="spacingAndGlyphs" stroke="#000" stroke-width="1.5">BMC-La</text>
<text x="1812" y="691" style="font-family:'Liberation Serif',serif;font-size:46px;font-weight:normal;font-style:italic" textLength="58.7" lengthAdjust="spacingAndGlyphs" stroke="#000" stroke-width="0.9">0.3</text>
<text x="1564" y="1001.5" style="font-family:'Liberation Serif',serif;font-size:65.6px;font-weight:normal;font-style:italic" textLength="243" lengthAdjust="spacingAndGlyphs" stroke="#000" stroke-width="1.5">BMC-La</text>
<text x="1808" y="1031" style="font-family:'Liberation Serif',serif;font-size:46px;font-weight:normal;font-style:italic" textLength="58.7" lengthAdjust="spacingAndGlyphs" stroke="#000" stroke-width="0.9">0.1</text>
<text x="1610" y="1344.7" style="font-family:'Liberation Serif',serif;font-size:65.6px;font-weight:normal;font-style:italic" textLength="143.6" lengthAdjust="spacingAndGlyphs" stroke="#000" stroke-width="1.5">BMC</text>
<text x="1550" y="2259" style="font-family:'Liberation Serif',serif;font-size:72px;font-weight:normal;font-style:italic" textLength="245" lengthAdjust="spacingAndGlyphs" stroke="#000" stroke-width="1.5">BMC-La</text>
<text x="1799" y="2294" style="font-family:'Liberation Serif',serif;font-size:54px;font-weight:normal;font-style:italic" textLength="58.8" lengthAdjust="spacingAndGlyphs" stroke="#000" stroke-width="0.9">0.6</text>
<text x="1564" y="2626" style="font-family:'Liberation Serif',serif;font-size:72px;font-weight:normal;font-style:italic" textLength="243" lengthAdjust="spacingAndGlyphs" stroke="#000" stroke-width="1.5">BMC-La</text>
<text x="1813" y="2661.6" style="font-family:'Liberation Serif',serif;font-size:54px;font-weight:normal;font-style:italic" textLength="57" lengthAdjust="spacingAndGlyphs" stroke="#000" stroke-width="0.9">0.3</text>
<text x="1561" y="3026" style="font-family:'Liberation Serif',serif;font-size:72px;font-weight:normal;font-style:italic" textLength="241" lengthAdjust="spacingAndGlyphs" stroke="#000" stroke-width="1.5">BMC-La</text>
<text x="1809.8" y="3059.6" style="font-family:'Liberation Serif',serif;font-size:54px;font-weight:normal;font-style:italic" textLength="54.6" lengthAdjust="spacingAndGlyphs" stroke="#000" stroke-width="0.9">0.1</text>
<text x="1645" y="3470" style="font-family:'Liberation Serif',serif;font-size:72px;font-weight:normal;font-style:italic" textLength="147" lengthAdjust="spacingAndGlyphs" stroke="#000" stroke-width="1.5">BMC</text>
</svg>
</body></html>
